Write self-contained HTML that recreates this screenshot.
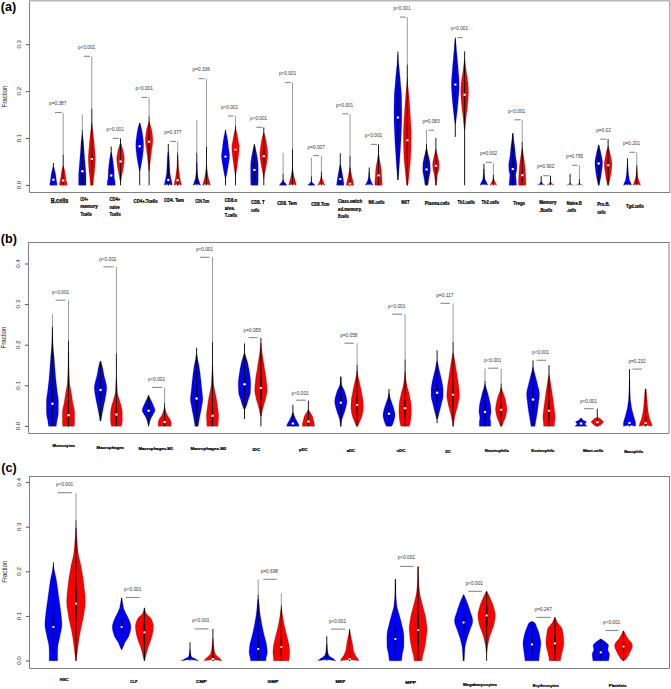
<!DOCTYPE html>
<html><head><meta charset="utf-8"><title>Violin plots</title>
<style>
html,body{margin:0;padding:0;background:#fff;}
body{width:671px;height:689px;overflow:hidden;}
svg{display:block;}
text{font-family:"Liberation Sans",sans-serif;}
.tk{font-size:6.1px;fill:#2a2a2a;text-anchor:middle;}
.fr{font-size:6.4px;fill:#2a2a2a;text-anchor:middle;}
.lt{font-size:12.6px;font-weight:bold;fill:#000;}
.pv{font-size:5.3px;fill:#333;text-anchor:middle;}
.cl{font-size:5.2px;font-weight:bold;fill:#000;stroke:#000;stroke-width:0.24px;}
.cl.big{font-size:6.6px;stroke-width:0.25px;}
</style></head>
<body>
<svg width="671" height="689" viewBox="0 0 671 689">
<rect width="671" height="689" fill="#fff"/>
<path d="M669.9,0.8 L669.9,192.5 L29.5,192.5 L29.5,0.8" fill="none" stroke="#808080" stroke-width="1"/>
<line x1="29" y1="0.8" x2="670.4" y2="0.8" stroke="#b8b8b8" stroke-width="1.6"/>
<line x1="25.9" y1="185.4" x2="29.5" y2="185.4" stroke="#555" stroke-width="1"/>
<text x="0" y="0" transform="translate(21.4,185) rotate(-90)" class="tk">0.0</text>
<line x1="25.9" y1="138.5" x2="29.5" y2="138.5" stroke="#555" stroke-width="1"/>
<text x="0" y="0" transform="translate(21.4,138.1) rotate(-90)" class="tk">0.1</text>
<line x1="25.9" y1="91.6" x2="29.5" y2="91.6" stroke="#555" stroke-width="1"/>
<text x="0" y="0" transform="translate(21.4,91.2) rotate(-90)" class="tk">0.2</text>
<line x1="25.9" y1="44.7" x2="29.5" y2="44.7" stroke="#555" stroke-width="1"/>
<text x="0" y="0" transform="translate(21.4,44.3) rotate(-90)" class="tk">0.3</text>
<text x="0" y="0" transform="translate(6.9,96.5) rotate(-90)" class="fr" textLength="22" lengthAdjust="spacingAndGlyphs">Fraction</text>
<text x="0.8" y="10.9" class="lt">(a)</text>
<path d="M53.7,166.5 L54,167.6 L54.3,168.7 L54.6,169.8 L54.8,170.9 L55.1,172 L55.4,173.1 L55.6,174.2 L55.8,175.3 L55.9,176.5 L56.1,177.6 L56.2,178.7 L56.4,179.8 L56.5,180.9 L56.7,182 L56.9,183.1 L57,184.2 L57,185.3 L49.8,185.3 L49.8,184.2 L49.9,183.1 L50.1,182 L50.3,180.9 L50.4,179.8 L50.6,178.7 L50.7,177.6 L50.9,176.5 L51,175.3 L51.2,174.2 L51.4,173.1 L51.7,172 L52,170.9 L52.2,169.8 L52.5,168.7 L52.8,167.6 L53.1,166.5Z" fill="#0000ff" stroke="#000" stroke-width="0.3" stroke-opacity="0.55"/>
<line x1="53.4" y1="163" x2="53.4" y2="185.3" stroke="#000" stroke-width="0.9"/>
<rect x="52.9" y="176.5" width="1" height="6.4" fill="#000"/>
<circle cx="53.4" cy="179.7" r="1.2" fill="#fff"/>
<path d="M63.6,166.3 L63.9,167.4 L64.2,168.4 L64.5,169.5 L64.7,170.5 L64.8,171.6 L65,172.6 L65.1,173.7 L65.3,174.7 L65.4,175.8 L65.6,176.9 L65.8,177.9 L66,179 L66.2,180 L66.4,181.1 L66.7,182.1 L66.9,183.2 L66.9,184.2 L66.9,185.3 L59.5,185.3 L59.5,184.2 L59.5,183.2 L59.7,182.1 L60,181.1 L60.2,180 L60.4,179 L60.6,177.9 L60.8,176.9 L61,175.8 L61.1,174.7 L61.3,173.7 L61.4,172.6 L61.6,171.6 L61.7,170.5 L61.9,169.5 L62.2,168.4 L62.5,167.4 L62.8,166.3Z" fill="#ff0000" stroke="#000" stroke-width="0.3" stroke-opacity="0.55"/>
<line x1="63.2" y1="112.7" x2="63.2" y2="154.5" stroke="#7a7a7a" stroke-width="0.75"/>
<line x1="63.2" y1="154.5" x2="63.2" y2="185.3" stroke="#000" stroke-width="0.9"/>
<rect x="62.7" y="177.3" width="1" height="6.5" fill="#000"/>
<circle cx="63.2" cy="180.5" r="1.2" fill="#fff"/>
<line x1="55" y1="112.5" x2="61.8" y2="112.5" stroke="#8a8a8a" stroke-width="1.1"/>
<text x="57.7" y="105.2" class="pv" textLength="17.2" lengthAdjust="spacingAndGlyphs">p=0.387</text>
<path d="M82.6,134.6 L82.7,135.6 L82.9,136.7 L83,137.7 L83.1,138.7 L83.3,139.8 L83.4,140.8 L83.5,141.8 L83.6,142.9 L83.7,143.9 L83.7,144.9 L83.8,146 L83.9,147 L84,148.1 L84,149.1 L84.1,150.1 L84.2,151.2 L84.2,152.2 L84.3,153.2 L84.4,154.3 L84.5,155.3 L84.6,156.3 L84.6,157.4 L84.7,158.4 L84.8,159.4 L84.9,160.5 L85,161.5 L85.1,162.5 L85.2,163.6 L85.2,164.6 L85.3,165.6 L85.4,166.7 L85.5,167.7 L85.6,168.7 L85.6,169.8 L85.7,170.8 L85.8,171.8 L85.9,172.9 L85.9,173.9 L86,175 L86,176 L86,177 L86,178.1 L86,179.1 L86,180.1 L86,181.2 L86,182.2 L86,183.2 L86,184.3 L86,185.3 L78.6,185.3 L78.6,184.3 L78.6,183.2 L78.6,182.2 L78.6,181.2 L78.6,180.1 L78.6,179.1 L78.6,178.1 L78.6,177 L78.6,176 L78.6,175 L78.7,173.9 L78.7,172.9 L78.8,171.8 L78.9,170.8 L79,169.8 L79,168.7 L79.1,167.7 L79.2,166.7 L79.3,165.6 L79.4,164.6 L79.4,163.6 L79.5,162.5 L79.6,161.5 L79.7,160.5 L79.8,159.4 L79.9,158.4 L80,157.4 L80,156.3 L80.1,155.3 L80.2,154.3 L80.3,153.2 L80.4,152.2 L80.4,151.2 L80.5,150.1 L80.6,149.1 L80.6,148.1 L80.7,147 L80.8,146 L80.9,144.9 L80.9,143.9 L81,142.9 L81.1,141.8 L81.2,140.8 L81.3,139.8 L81.5,138.7 L81.6,137.7 L81.7,136.7 L81.9,135.6 L82,134.6Z" fill="#0000ff" stroke="#000" stroke-width="0.3" stroke-opacity="0.55"/>
<line x1="82.3" y1="114.5" x2="82.3" y2="130.2" stroke="#7a7a7a" stroke-width="0.75"/>
<line x1="82.3" y1="130.2" x2="82.3" y2="185.3" stroke="#000" stroke-width="0.9"/>
<rect x="81.8" y="162.7" width="1" height="17.2" fill="#000"/>
<circle cx="82.3" cy="171.3" r="1.2" fill="#fff"/>
<path d="M92.1,123.5 L92.2,124.5 L92.3,125.6 L92.4,126.6 L92.5,127.6 L92.6,128.7 L92.8,129.7 L92.9,130.7 L93,131.7 L93.1,132.8 L93.3,133.8 L93.4,134.8 L93.5,135.9 L93.6,136.9 L93.7,137.9 L93.8,138.9 L93.9,140 L94,141 L94.2,142 L94.3,143.1 L94.4,144.1 L94.4,145.1 L94.5,146.2 L94.6,147.2 L94.7,148.2 L94.8,149.2 L94.9,150.3 L94.9,151.3 L95,152.3 L95.1,153.4 L95.2,154.4 L95.2,155.4 L95.3,156.5 L95.3,157.5 L95.3,158.5 L95.3,159.6 L95.3,160.6 L95.2,161.6 L95.2,162.6 L95.1,163.7 L95.1,164.7 L95,165.7 L95,166.8 L94.9,167.8 L94.8,168.8 L94.7,169.9 L94.7,170.9 L94.6,171.9 L94.4,172.9 L94.3,174 L94.2,175 L94,176 L93.9,177.1 L93.8,178.1 L93.6,179.1 L93.6,180.2 L93.5,181.2 L93.4,182.2 L93.3,183.2 L93.3,184.3 L93.2,185.3 L90.4,185.3 L90.3,184.3 L90.3,183.2 L90.2,182.2 L90.1,181.2 L90,180.2 L90,179.1 L89.8,178.1 L89.7,177.1 L89.6,176 L89.4,175 L89.3,174 L89.2,172.9 L89,171.9 L88.9,170.9 L88.9,169.9 L88.8,168.8 L88.7,167.8 L88.6,166.8 L88.6,165.7 L88.5,164.7 L88.5,163.7 L88.4,162.6 L88.4,161.6 L88.3,160.6 L88.3,159.6 L88.3,158.5 L88.3,157.5 L88.3,156.5 L88.4,155.4 L88.4,154.4 L88.5,153.4 L88.6,152.3 L88.7,151.3 L88.7,150.3 L88.8,149.2 L88.9,148.2 L89,147.2 L89.1,146.2 L89.2,145.1 L89.2,144.1 L89.3,143.1 L89.4,142 L89.6,141 L89.7,140 L89.8,138.9 L89.9,137.9 L90,136.9 L90.1,135.9 L90.2,134.8 L90.3,133.8 L90.5,132.8 L90.6,131.7 L90.7,130.7 L90.8,129.7 L91,128.7 L91.1,127.6 L91.2,126.6 L91.3,125.6 L91.4,124.5 L91.5,123.5Z" fill="#ff0000" stroke="#000" stroke-width="0.3" stroke-opacity="0.55"/>
<line x1="91.8" y1="56.3" x2="91.8" y2="108.7" stroke="#7a7a7a" stroke-width="0.75"/>
<line x1="91.8" y1="108.7" x2="91.8" y2="185.3" stroke="#000" stroke-width="0.9"/>
<rect x="91.3" y="148.5" width="1" height="21" fill="#000"/>
<circle cx="91.8" cy="159" r="1.2" fill="#fff"/>
<line x1="84" y1="56.3" x2="90" y2="56.3" stroke="#8a8a8a" stroke-width="1.1"/>
<text x="86.6" y="49.3" class="pv" textLength="17.2" lengthAdjust="spacingAndGlyphs">p&lt;0.001</text>
<path d="M111.6,152.6 L111.8,153.7 L112,154.7 L112.2,155.8 L112.4,156.8 L112.6,157.9 L112.8,158.9 L112.9,160 L113.1,161 L113.2,162.1 L113.3,163.1 L113.4,164.2 L113.6,165.3 L113.7,166.3 L113.8,167.4 L113.9,168.4 L114.1,169.5 L114.1,170.5 L114.2,171.6 L114.2,172.6 L114.2,173.7 L114.2,174.8 L114.3,175.8 L114.3,176.9 L114.3,177.9 L114.5,179 L114.8,180 L115,181.1 L115.1,182.1 L115.1,183.2 L115.2,184.2 L115.2,185.3 L107.2,185.3 L107.2,184.2 L107.3,183.2 L107.3,182.1 L107.4,181.1 L107.6,180 L107.9,179 L108.1,177.9 L108.1,176.9 L108.1,175.8 L108.2,174.8 L108.2,173.7 L108.2,172.6 L108.2,171.6 L108.3,170.5 L108.3,169.5 L108.5,168.4 L108.6,167.4 L108.7,166.3 L108.8,165.3 L109,164.2 L109.1,163.1 L109.2,162.1 L109.3,161 L109.5,160 L109.6,158.9 L109.8,157.9 L110,156.8 L110.2,155.8 L110.4,154.7 L110.6,153.7 L110.8,152.6Z" fill="#0000ff" stroke="#000" stroke-width="0.3" stroke-opacity="0.55"/>
<line x1="111.2" y1="146.5" x2="111.2" y2="185.3" stroke="#000" stroke-width="0.9"/>
<rect x="110.7" y="169.9" width="1" height="11.1" fill="#000"/>
<circle cx="111.2" cy="175.5" r="1.2" fill="#fff"/>
<path d="M121,143.6 L121.4,144.6 L121.7,145.7 L122,146.7 L122.3,147.7 L122.6,148.8 L122.9,149.8 L123.1,150.8 L123.3,151.9 L123.5,152.9 L123.7,153.9 L123.9,155 L124.1,156 L124.2,157 L124.3,158.1 L124.3,159.1 L124.3,160.1 L124.2,161.2 L124.1,162.2 L124,163.2 L123.9,164.3 L123.7,165.3 L123.6,166.3 L123.5,167.4 L123.3,168.4 L123.1,169.4 L122.9,170.5 L122.7,171.5 L122.5,172.5 L122.3,173.6 L122.1,174.6 L121.9,175.6 L121.7,176.7 L121.5,177.7 L121.3,178.7 L121.2,179.8 L121,180.8 L120,180.8 L119.8,179.8 L119.7,178.7 L119.5,177.7 L119.3,176.7 L119.1,175.6 L118.9,174.6 L118.7,173.6 L118.5,172.5 L118.3,171.5 L118.1,170.5 L117.9,169.4 L117.7,168.4 L117.5,167.4 L117.4,166.3 L117.3,165.3 L117.1,164.3 L117,163.2 L116.9,162.2 L116.8,161.2 L116.7,160.1 L116.7,159.1 L116.7,158.1 L116.8,157 L116.9,156 L117.1,155 L117.3,153.9 L117.5,152.9 L117.7,151.9 L117.9,150.8 L118.1,149.8 L118.4,148.8 L118.7,147.7 L119,146.7 L119.3,145.7 L119.6,144.6 L120,143.6Z" fill="#ff0000" stroke="#000" stroke-width="0.3" stroke-opacity="0.55"/>
<line x1="120.5" y1="138.4" x2="120.5" y2="185.3" stroke="#000" stroke-width="0.9"/>
<rect x="120" y="155.2" width="1" height="12.6" fill="#000"/>
<circle cx="120.5" cy="161.5" r="1.2" fill="#fff"/>
<line x1="112.7" y1="138.4" x2="118.7" y2="138.4" stroke="#8a8a8a" stroke-width="1.1"/>
<text x="115.2" y="130.9" class="pv" textLength="17.2" lengthAdjust="spacingAndGlyphs">p&lt;0.001</text>
<path d="M140,123 L140.3,124 L140.6,125.1 L140.9,126.1 L141.2,127.1 L141.4,128.2 L141.7,129.2 L141.9,130.2 L142.1,131.3 L142.2,132.3 L142.4,133.3 L142.6,134.4 L142.7,135.4 L142.9,136.4 L143,137.5 L143.1,138.5 L143.3,139.5 L143.4,140.6 L143.5,141.6 L143.5,142.6 L143.6,143.7 L143.6,144.7 L143.6,145.7 L143.6,146.8 L143.5,147.8 L143.4,148.8 L143.4,149.8 L143.3,150.9 L143.2,151.9 L143,152.9 L142.9,154 L142.8,155 L142.7,156 L142.6,157.1 L142.4,158.1 L142.3,159.1 L142.1,160.2 L141.9,161.2 L141.7,162.2 L141.5,163.3 L141.3,164.3 L141.1,165.3 L140.9,166.4 L140.7,167.4 L140.5,168.4 L140.3,169.5 L140.1,170.5 L139.3,170.5 L139.1,169.5 L138.9,168.4 L138.7,167.4 L138.5,166.4 L138.3,165.3 L138.1,164.3 L137.9,163.3 L137.7,162.2 L137.5,161.2 L137.3,160.2 L137.1,159.1 L137,158.1 L136.8,157.1 L136.7,156 L136.6,155 L136.5,154 L136.4,152.9 L136.2,151.9 L136.1,150.9 L136,149.8 L136,148.8 L135.9,147.8 L135.8,146.8 L135.8,145.7 L135.8,144.7 L135.8,143.7 L135.9,142.6 L135.9,141.6 L136,140.6 L136.1,139.5 L136.3,138.5 L136.4,137.5 L136.5,136.4 L136.7,135.4 L136.8,134.4 L137,133.3 L137.2,132.3 L137.3,131.3 L137.5,130.2 L137.7,129.2 L138,128.2 L138.2,127.1 L138.5,126.1 L138.8,125.1 L139.1,124 L139.4,123Z" fill="#0000ff" stroke="#000" stroke-width="0.3" stroke-opacity="0.55"/>
<line x1="139.7" y1="123" x2="139.7" y2="185.3" stroke="#000" stroke-width="0.9"/>
<rect x="139.2" y="138.2" width="1" height="16.1" fill="#000"/>
<circle cx="139.7" cy="146.3" r="1.2" fill="#fff"/>
<path d="M149.4,122 L149.7,123 L150,124.1 L150.3,125.1 L150.6,126.2 L151,127.2 L151.3,128.2 L151.6,129.3 L151.8,130.3 L152,131.4 L152.1,132.4 L152.3,133.4 L152.4,134.5 L152.5,135.5 L152.6,136.6 L152.7,137.6 L152.8,138.6 L152.8,139.7 L152.8,140.7 L152.8,141.8 L152.7,142.8 L152.6,143.8 L152.5,144.9 L152.3,145.9 L152.2,147 L152,148 L151.8,149.1 L151.7,150.1 L151.6,151.1 L151.5,152.2 L151.3,153.2 L151.2,154.3 L151,155.3 L150.9,156.3 L150.8,157.4 L150.6,158.4 L150.5,159.5 L150.4,160.5 L150.3,161.5 L150.2,162.6 L150,163.6 L149.9,164.7 L149.8,165.7 L149.7,166.7 L149.7,167.8 L149.6,168.8 L149.5,169.9 L149.4,170.9 L148.8,170.9 L148.7,169.9 L148.6,168.8 L148.5,167.8 L148.5,166.7 L148.4,165.7 L148.3,164.7 L148.2,163.6 L148,162.6 L147.9,161.5 L147.8,160.5 L147.7,159.5 L147.6,158.4 L147.4,157.4 L147.3,156.3 L147.2,155.3 L147,154.3 L146.9,153.2 L146.7,152.2 L146.6,151.1 L146.5,150.1 L146.4,149.1 L146.2,148 L146,147 L145.9,145.9 L145.7,144.9 L145.6,143.8 L145.5,142.8 L145.4,141.8 L145.4,140.7 L145.4,139.7 L145.4,138.6 L145.5,137.6 L145.6,136.6 L145.7,135.5 L145.8,134.5 L145.9,133.4 L146.1,132.4 L146.2,131.4 L146.4,130.3 L146.6,129.3 L146.9,128.2 L147.2,127.2 L147.6,126.2 L147.9,125.1 L148.2,124.1 L148.5,123 L148.8,122Z" fill="#ff0000" stroke="#000" stroke-width="0.3" stroke-opacity="0.55"/>
<line x1="149.1" y1="97.2" x2="149.1" y2="116.5" stroke="#7a7a7a" stroke-width="0.75"/>
<line x1="149.1" y1="116.5" x2="149.1" y2="185.3" stroke="#000" stroke-width="0.9"/>
<rect x="148.6" y="133.4" width="1" height="16.6" fill="#000"/>
<circle cx="149.1" cy="141.7" r="1.2" fill="#fff"/>
<line x1="141.6" y1="97.4" x2="147.5" y2="97.4" stroke="#8a8a8a" stroke-width="1.1"/>
<text x="144.2" y="89.8" class="pv" textLength="17.2" lengthAdjust="spacingAndGlyphs">p&lt;0.001</text>
<path d="M168.7,151.7 L168.8,152.8 L168.9,153.8 L169,154.8 L169.1,155.9 L169.2,156.9 L169.2,158 L169.3,159 L169.4,160.1 L169.4,161.2 L169.5,162.2 L169.5,163.2 L169.6,164.3 L169.6,165.3 L169.7,166.4 L169.7,167.4 L169.8,168.5 L169.8,169.6 L169.9,170.6 L170,171.7 L170,172.7 L170.1,173.8 L170.3,174.8 L170.5,175.8 L170.7,176.9 L170.9,178 L171.1,179 L171.4,180.1 L171.7,181.1 L171.8,182.2 L172,183.2 L172.1,184.2 L172.2,185.3 L168.3,184.1 L164.4,185.3 L164.5,184.2 L164.6,183.2 L164.8,182.2 L164.9,181.1 L165.2,180.1 L165.5,179 L165.7,178 L165.9,176.9 L166.1,175.8 L166.3,174.8 L166.5,173.8 L166.6,172.7 L166.6,171.7 L166.7,170.6 L166.8,169.6 L166.8,168.5 L166.9,167.4 L166.9,166.4 L167,165.3 L167,164.3 L167.1,163.2 L167.1,162.2 L167.2,161.2 L167.2,160.1 L167.3,159 L167.4,158 L167.4,156.9 L167.5,155.9 L167.6,154.8 L167.7,153.8 L167.8,152.8 L167.9,151.7Z" fill="#0000ff" stroke="#000" stroke-width="0.3" stroke-opacity="0.55"/>
<line x1="168.3" y1="144" x2="168.3" y2="185.3" stroke="#000" stroke-width="0.9"/>
<rect x="167.8" y="174.3" width="1" height="11" fill="#000"/>
<circle cx="168.3" cy="180" r="1.2" fill="#fff"/>
<path d="M178,156 L178,157 L178.1,158.1 L178.1,159.1 L178.2,160.2 L178.2,161.2 L178.3,162.3 L178.3,163.3 L178.4,164.4 L178.4,165.4 L178.5,166.5 L178.5,167.5 L178.7,168.6 L178.8,169.6 L178.9,170.7 L179.1,171.7 L179.2,172.7 L179.4,173.8 L179.5,174.8 L179.6,175.9 L179.8,176.9 L180,178 L180.2,179 L180.4,180.1 L180.7,181.1 L180.9,182.2 L181.1,183.2 L181.3,184.3 L181.5,185.3 L177.7,184.1 L173.9,185.3 L174.1,184.3 L174.3,183.2 L174.5,182.2 L174.7,181.1 L175,180.1 L175.2,179 L175.4,178 L175.6,176.9 L175.8,175.9 L175.9,174.8 L176,173.8 L176.2,172.7 L176.3,171.7 L176.5,170.7 L176.6,169.6 L176.7,168.6 L176.9,167.5 L176.9,166.5 L177,165.4 L177,164.4 L177.1,163.3 L177.1,162.3 L177.2,161.2 L177.2,160.2 L177.3,159.1 L177.3,158.1 L177.4,157 L177.4,156Z" fill="#ff0000" stroke="#000" stroke-width="0.3" stroke-opacity="0.55"/>
<line x1="177.7" y1="141.4" x2="177.7" y2="152.8" stroke="#7a7a7a" stroke-width="0.75"/>
<line x1="177.7" y1="152.8" x2="177.7" y2="185.3" stroke="#000" stroke-width="0.9"/>
<rect x="177.2" y="175.3" width="1" height="10" fill="#000"/>
<circle cx="177.7" cy="180.3" r="1.2" fill="#fff"/>
<line x1="170.2" y1="141.4" x2="176" y2="141.4" stroke="#8a8a8a" stroke-width="1.1"/>
<text x="172.8" y="134.4" class="pv" textLength="17.2" lengthAdjust="spacingAndGlyphs">p=0.377</text>
<path d="M197.1,162 L197.1,163.1 L197.1,164.1 L197.2,165.2 L197.2,166.2 L197.2,167.3 L197.3,168.4 L197.3,169.4 L197.4,170.5 L197.5,171.5 L197.5,172.6 L197.6,173.7 L197.7,174.7 L197.9,175.8 L198,176.8 L198.2,177.9 L198.4,178.9 L198.7,180 L199.1,181.1 L199.4,182.1 L199.8,183.2 L200.3,184.2 L200.7,185.3 L196.8,184.1 L192.9,185.3 L193.3,184.2 L193.8,183.2 L194.2,182.1 L194.5,181.1 L194.9,180 L195.2,178.9 L195.4,177.9 L195.6,176.8 L195.7,175.8 L195.9,174.7 L196,173.7 L196.1,172.6 L196.1,171.5 L196.2,170.5 L196.3,169.4 L196.3,168.4 L196.4,167.3 L196.4,166.2 L196.4,165.2 L196.5,164.1 L196.5,163.1 L196.5,162Z" fill="#0000ff" stroke="#000" stroke-width="0.3" stroke-opacity="0.55"/>
<line x1="196.8" y1="119.8" x2="196.8" y2="152.7" stroke="#7a7a7a" stroke-width="0.75"/>
<line x1="196.8" y1="152.7" x2="196.8" y2="185.3" stroke="#000" stroke-width="0.9"/>
<path d="M206.8,166 L206.9,167.1 L207,168.1 L207.1,169.2 L207.3,170.3 L207.4,171.4 L207.6,172.4 L207.7,173.5 L207.9,174.6 L208.1,175.7 L208.2,176.7 L208.5,177.8 L208.7,178.9 L209,179.9 L209.3,181 L209.6,182.1 L209.9,183.2 L210.2,184.2 L210.5,185.3 L206.5,184.1 L202.5,185.3 L202.8,184.2 L203.1,183.2 L203.4,182.1 L203.7,181 L204,179.9 L204.3,178.9 L204.5,177.8 L204.8,176.7 L204.9,175.7 L205.1,174.6 L205.3,173.5 L205.4,172.4 L205.6,171.4 L205.7,170.3 L205.9,169.2 L206,168.1 L206.1,167.1 L206.2,166Z" fill="#ff0000" stroke="#000" stroke-width="0.3" stroke-opacity="0.55"/>
<line x1="206.5" y1="78.7" x2="206.5" y2="146.8" stroke="#7a7a7a" stroke-width="0.75"/>
<line x1="206.5" y1="146.8" x2="206.5" y2="185.3" stroke="#000" stroke-width="0.9"/>
<line x1="198.6" y1="78.7" x2="204.5" y2="78.7" stroke="#8a8a8a" stroke-width="1.1"/>
<text x="201.2" y="71.3" class="pv" textLength="17.2" lengthAdjust="spacingAndGlyphs">p=0.336</text>
<path d="M225.8,130.3 L226,131.3 L226.2,132.4 L226.4,133.4 L226.6,134.4 L226.8,135.4 L227,136.5 L227.2,137.5 L227.4,138.5 L227.6,139.5 L227.7,140.6 L227.9,141.6 L228,142.6 L228.1,143.7 L228.3,144.7 L228.4,145.7 L228.5,146.7 L228.6,147.8 L228.7,148.8 L228.9,149.8 L229,150.9 L229.1,151.9 L229.3,152.9 L229.4,153.9 L229.5,155 L229.5,156 L229.5,157 L229.4,158 L229.3,159.1 L229.2,160.1 L229,161.1 L228.8,162.2 L228.7,163.2 L228.5,164.2 L228.3,165.2 L228.2,166.3 L228,167.3 L227.8,168.3 L227.6,169.4 L227.4,170.4 L227.3,171.4 L227.1,172.4 L226.9,173.5 L226.7,174.5 L226.5,175.5 L226.2,176.5 L226,177.6 L225.8,178.6 L225.2,178.6 L225,177.6 L224.8,176.5 L224.5,175.5 L224.3,174.5 L224.1,173.5 L223.9,172.4 L223.7,171.4 L223.6,170.4 L223.4,169.4 L223.2,168.3 L223,167.3 L222.8,166.3 L222.7,165.2 L222.5,164.2 L222.3,163.2 L222.2,162.2 L222,161.1 L221.8,160.1 L221.7,159.1 L221.6,158 L221.5,157 L221.5,156 L221.5,155 L221.6,153.9 L221.7,152.9 L221.9,151.9 L222,150.9 L222.1,149.8 L222.3,148.8 L222.4,147.8 L222.5,146.7 L222.6,145.7 L222.7,144.7 L222.9,143.7 L223,142.6 L223.1,141.6 L223.3,140.6 L223.4,139.5 L223.6,138.5 L223.8,137.5 L224,136.5 L224.2,135.4 L224.4,134.4 L224.6,133.4 L224.8,132.4 L225,131.3 L225.2,130.3Z" fill="#0000ff" stroke="#000" stroke-width="0.3" stroke-opacity="0.55"/>
<line x1="225.5" y1="130" x2="225.5" y2="185.3" stroke="#000" stroke-width="0.9"/>
<rect x="225" y="148.4" width="1" height="16.4" fill="#000"/>
<circle cx="225.5" cy="156.6" r="1.2" fill="#fff"/>
<path d="M235.8,128.5 L236,129.5 L236.3,130.6 L236.5,131.6 L236.7,132.6 L236.9,133.7 L237.2,134.7 L237.4,135.7 L237.6,136.8 L237.8,137.8 L238,138.9 L238.1,139.9 L238.3,140.9 L238.5,142 L238.7,143 L238.9,144 L239.1,145.1 L239.2,146.1 L239.2,147.1 L239.2,148.2 L239.1,149.2 L239.1,150.2 L239,151.3 L238.9,152.3 L238.8,153.4 L238.7,154.4 L238.6,155.4 L238.5,156.5 L238.3,157.5 L238.2,158.5 L238.1,159.6 L237.9,160.6 L237.8,161.6 L237.6,162.7 L237.5,163.7 L237.4,164.7 L237.2,165.8 L237.1,166.8 L236.9,167.9 L236.7,168.9 L236.6,169.9 L236.4,171 L236.3,172 L236.1,173 L236,174.1 L235.8,175.1 L235.2,175.1 L235,174.1 L234.9,173 L234.7,172 L234.6,171 L234.4,169.9 L234.3,168.9 L234.1,167.9 L233.9,166.8 L233.8,165.8 L233.6,164.7 L233.5,163.7 L233.4,162.7 L233.2,161.6 L233.1,160.6 L232.9,159.6 L232.8,158.5 L232.7,157.5 L232.5,156.5 L232.4,155.4 L232.3,154.4 L232.2,153.4 L232.1,152.3 L232,151.3 L231.9,150.2 L231.9,149.2 L231.8,148.2 L231.8,147.1 L231.8,146.1 L231.9,145.1 L232.1,144 L232.3,143 L232.5,142 L232.7,140.9 L232.9,139.9 L233,138.9 L233.2,137.8 L233.4,136.8 L233.6,135.7 L233.8,134.7 L234.1,133.7 L234.3,132.6 L234.5,131.6 L234.7,130.6 L235,129.5 L235.2,128.5Z" fill="#ff0000" stroke="#000" stroke-width="0.3" stroke-opacity="0.55"/>
<line x1="235.5" y1="116" x2="235.5" y2="125.8" stroke="#7a7a7a" stroke-width="0.75"/>
<line x1="235.5" y1="125.8" x2="235.5" y2="185.3" stroke="#000" stroke-width="0.9"/>
<rect x="235" y="141.7" width="1" height="15.8" fill="#000"/>
<circle cx="235.5" cy="149.6" r="1.2" fill="#fff"/>
<line x1="228" y1="116" x2="233.5" y2="116" stroke="#8a8a8a" stroke-width="1.1"/>
<text x="229.5" y="109" class="pv" textLength="17.2" lengthAdjust="spacingAndGlyphs">p&lt;0.001</text>
<path d="M254.7,144.4 L254.9,145.4 L255.2,146.5 L255.4,147.5 L255.6,148.6 L255.8,149.6 L256,150.7 L256.3,151.7 L256.5,152.8 L256.7,153.8 L256.9,154.9 L257.1,155.9 L257.3,157 L257.4,158 L257.5,159.1 L257.7,160.1 L257.8,161.2 L258,162.2 L258.1,163.3 L258.1,164.3 L258.2,165.4 L258.2,166.4 L258.2,167.5 L258.2,168.5 L258.2,169.6 L258.2,170.6 L258.2,171.7 L258.2,172.7 L258.2,173.8 L258.2,174.8 L258.2,175.9 L258.2,176.9 L258.2,178 L258.2,179 L258.2,180.1 L258.1,181.1 L258.1,182.2 L258.1,183.2 L258,184.3 L258,185.3 L250.8,185.3 L250.8,184.3 L250.7,183.2 L250.7,182.2 L250.7,181.1 L250.6,180.1 L250.6,179 L250.6,178 L250.6,176.9 L250.6,175.9 L250.6,174.8 L250.6,173.8 L250.6,172.7 L250.6,171.7 L250.6,170.6 L250.6,169.6 L250.6,168.5 L250.6,167.5 L250.6,166.4 L250.6,165.4 L250.7,164.3 L250.7,163.3 L250.8,162.2 L251,161.2 L251.1,160.1 L251.3,159.1 L251.4,158 L251.5,157 L251.7,155.9 L251.9,154.9 L252.1,153.8 L252.3,152.8 L252.5,151.7 L252.8,150.7 L253,149.6 L253.2,148.6 L253.4,147.5 L253.6,146.5 L253.9,145.4 L254.1,144.4Z" fill="#0000ff" stroke="#000" stroke-width="0.3" stroke-opacity="0.55"/>
<line x1="254.4" y1="144.4" x2="254.4" y2="185.3" stroke="#000" stroke-width="0.9"/>
<rect x="253.9" y="162.9" width="1" height="13.9" fill="#000"/>
<circle cx="254.4" cy="169.9" r="1.2" fill="#fff"/>
<path d="M264.1,133 L264.4,134 L264.7,135 L265,136.1 L265.3,137.1 L265.5,138.1 L265.7,139.1 L266,140.2 L266.2,141.2 L266.3,142.2 L266.5,143.2 L266.7,144.2 L266.8,145.3 L267,146.3 L267.1,147.3 L267.3,148.3 L267.4,149.4 L267.5,150.4 L267.6,151.4 L267.7,152.4 L267.7,153.5 L267.7,154.5 L267.7,155.5 L267.6,156.5 L267.5,157.5 L267.4,158.6 L267.3,159.6 L267.1,160.6 L267,161.6 L266.8,162.7 L266.7,163.7 L266.5,164.7 L266.3,165.7 L266.2,166.8 L266,167.8 L265.7,168.8 L265.5,169.8 L265.2,170.8 L265,171.9 L264.8,172.9 L264.6,173.9 L264.4,174.9 L264.3,176 L264.2,177 L264.1,178 L263.5,178 L263.4,177 L263.3,176 L263.2,174.9 L263,173.9 L262.8,172.9 L262.6,171.9 L262.4,170.8 L262.1,169.8 L261.9,168.8 L261.6,167.8 L261.4,166.8 L261.3,165.7 L261.1,164.7 L260.9,163.7 L260.8,162.7 L260.6,161.6 L260.5,160.6 L260.3,159.6 L260.2,158.6 L260.1,157.5 L260,156.5 L259.9,155.5 L259.9,154.5 L259.9,153.5 L259.9,152.4 L260,151.4 L260.1,150.4 L260.2,149.4 L260.3,148.3 L260.5,147.3 L260.6,146.3 L260.8,145.3 L260.9,144.2 L261.1,143.2 L261.3,142.2 L261.4,141.2 L261.6,140.2 L261.9,139.1 L262.1,138.1 L262.3,137.1 L262.6,136.1 L262.9,135 L263.2,134 L263.5,133Z" fill="#ff0000" stroke="#000" stroke-width="0.3" stroke-opacity="0.55"/>
<line x1="263.8" y1="127.3" x2="263.8" y2="185.3" stroke="#000" stroke-width="0.9"/>
<rect x="263.3" y="148.7" width="1" height="15.3" fill="#000"/>
<circle cx="263.8" cy="156.3" r="1.2" fill="#fff"/>
<line x1="256.3" y1="127.3" x2="262" y2="127.3" stroke="#8a8a8a" stroke-width="1.1"/>
<text x="258.6" y="119.8" class="pv" textLength="17.2" lengthAdjust="spacingAndGlyphs">p&lt;0.001</text>
<path d="M283.4,180 L283.6,180.8 L284,181.5 L284.5,182.3 L285.3,183 L285.9,183.8 L286.5,184.5 L287,185.3 L279.2,185.3 L279.7,184.5 L280.3,183.8 L280.9,183 L281.7,182.3 L282.2,181.5 L282.6,180.8 L282.8,180Z" fill="#0000ff" stroke="#000" stroke-width="0.3" stroke-opacity="0.55"/>
<line x1="283.1" y1="152.9" x2="283.1" y2="174" stroke="#7a7a7a" stroke-width="0.75"/>
<line x1="283.1" y1="174" x2="283.1" y2="185.3" stroke="#000" stroke-width="0.9"/>
<path d="M292.8,168 L292.9,169.1 L293,170.2 L293.2,171.2 L293.3,172.3 L293.5,173.4 L293.7,174.5 L293.9,175.6 L294.2,176.7 L294.4,177.7 L294.7,178.8 L295,179.9 L295.3,181 L295.6,182.1 L295.9,183.1 L296.1,184.2 L296.4,185.3 L292.5,184.1 L288.6,185.3 L288.9,184.2 L289.1,183.1 L289.4,182.1 L289.7,181 L290,179.9 L290.3,178.8 L290.6,177.7 L290.8,176.7 L291.1,175.6 L291.3,174.5 L291.5,173.4 L291.7,172.3 L291.8,171.2 L292,170.2 L292.1,169.1 L292.2,168Z" fill="#ff0000" stroke="#000" stroke-width="0.3" stroke-opacity="0.55"/>
<line x1="292.5" y1="82.5" x2="292.5" y2="149.2" stroke="#7a7a7a" stroke-width="0.75"/>
<line x1="292.5" y1="149.2" x2="292.5" y2="185.3" stroke="#000" stroke-width="0.9"/>
<line x1="284.9" y1="82.5" x2="290.9" y2="82.5" stroke="#8a8a8a" stroke-width="1.1"/>
<text x="287.5" y="75" class="pv" textLength="17.2" lengthAdjust="spacingAndGlyphs">p&lt;0.001</text>
<path d="M311.7,181.5 L311.9,182 L312.2,182.6 L312.8,183.1 L313.6,183.7 L314.1,184.2 L314.6,184.8 L315,185.3 L307.8,185.3 L308.2,184.8 L308.7,184.2 L309.2,183.7 L310,183.1 L310.6,182.6 L310.9,182 L311.1,181.5Z" fill="#0000ff" stroke="#000" stroke-width="0.3" stroke-opacity="0.55"/>
<line x1="311.4" y1="157.8" x2="311.4" y2="176.3" stroke="#7a7a7a" stroke-width="0.75"/>
<line x1="311.4" y1="176.3" x2="311.4" y2="185.3" stroke="#000" stroke-width="0.9"/>
<path d="M321.7,175.9 L321.9,177.1 L322.1,178.2 L322.5,179.4 L322.8,180.6 L323.3,181.8 L323.9,183 L324.5,184.1 L325.1,185.3 L321.4,184.1 L317.6,185.3 L318.3,184.1 L318.9,183 L319.5,181.8 L320,180.6 L320.3,179.4 L320.7,178.2 L320.9,177.1 L321.1,175.9Z" fill="#ff0000" stroke="#000" stroke-width="0.3" stroke-opacity="0.55"/>
<line x1="321.4" y1="156" x2="321.4" y2="171.5" stroke="#7a7a7a" stroke-width="0.75"/>
<line x1="321.4" y1="171.5" x2="321.4" y2="185.3" stroke="#000" stroke-width="0.9"/>
<line x1="313.2" y1="155.6" x2="319.2" y2="155.6" stroke="#8a8a8a" stroke-width="1.1"/>
<text x="316.2" y="148.5" class="pv" textLength="17.2" lengthAdjust="spacingAndGlyphs">p=0.007</text>
<path d="M340.6,164.5 L340.8,165.6 L341.1,166.7 L341.3,167.8 L341.5,168.9 L341.7,170 L341.9,171.1 L342.1,172.2 L342.3,173.3 L342.5,174.4 L342.7,175.4 L342.8,176.5 L343,177.6 L343.2,178.7 L343.4,179.8 L343.5,180.9 L343.7,182 L343.8,183.1 L343.9,184.2 L344.1,185.3 L336.6,185.3 L336.7,184.2 L336.8,183.1 L336.9,182 L337.1,180.9 L337.2,179.8 L337.4,178.7 L337.6,177.6 L337.8,176.5 L337.9,175.4 L338.1,174.4 L338.3,173.3 L338.5,172.2 L338.7,171.1 L338.9,170 L339.1,168.9 L339.3,167.8 L339.5,166.7 L339.8,165.6 L340,164.5Z" fill="#0000ff" stroke="#000" stroke-width="0.3" stroke-opacity="0.55"/>
<line x1="340.3" y1="153.3" x2="340.3" y2="185.3" stroke="#000" stroke-width="0.9"/>
<rect x="339.8" y="175.6" width="1" height="7.1" fill="#000"/>
<circle cx="340.3" cy="179.1" r="1.2" fill="#fff"/>
<path d="M350.3,167.5 L350.5,168.6 L350.6,169.7 L350.8,170.8 L351,171.9 L351.2,173.1 L351.4,174.2 L351.6,175.3 L351.9,176.4 L352.1,177.5 L352.4,178.6 L352.6,179.7 L352.9,180.9 L353.2,182 L353.4,183.1 L353.6,184.2 L353.8,185.3 L346.2,185.3 L346.4,184.2 L346.6,183.1 L346.8,182 L347.1,180.9 L347.4,179.7 L347.6,178.6 L347.9,177.5 L348.1,176.4 L348.4,175.3 L348.6,174.2 L348.8,173.1 L349,171.9 L349.2,170.8 L349.4,169.7 L349.5,168.6 L349.7,167.5Z" fill="#ff0000" stroke="#000" stroke-width="0.3" stroke-opacity="0.55"/>
<line x1="350" y1="113.8" x2="350" y2="155.7" stroke="#7a7a7a" stroke-width="0.75"/>
<line x1="350" y1="155.7" x2="350" y2="185.3" stroke="#000" stroke-width="0.9"/>
<rect x="349.5" y="180.6" width="1" height="4.7" fill="#000"/>
<circle cx="350" cy="183.6" r="1.2" fill="#fff"/>
<line x1="342.3" y1="113.8" x2="348.2" y2="113.8" stroke="#8a8a8a" stroke-width="1.1"/>
<text x="344.5" y="106.8" class="pv" textLength="17.2" lengthAdjust="spacingAndGlyphs">p&lt;0.001</text>
<path d="M369.5,171.7 L369.5,172.8 L369.6,174 L369.7,175.1 L369.8,176.2 L370,177.4 L370.2,178.5 L370.5,179.6 L370.9,180.8 L371.4,181.9 L372,183 L372.6,184.2 L373.2,185.3 L369.2,184.1 L365.2,185.3 L365.8,184.2 L366.4,183 L367,181.9 L367.5,180.8 L367.9,179.6 L368.2,178.5 L368.4,177.4 L368.6,176.2 L368.7,175.1 L368.8,174 L368.9,172.8 L368.9,171.7Z" fill="#0000ff" stroke="#000" stroke-width="0.3" stroke-opacity="0.55"/>
<line x1="369.2" y1="167.5" x2="369.2" y2="185.3" stroke="#000" stroke-width="0.9"/>
<path d="M378.8,154.2 L379,155.2 L379.1,156.3 L379.3,157.3 L379.5,158.3 L379.6,159.4 L379.8,160.4 L380,161.5 L380.2,162.5 L380.4,163.5 L380.5,164.6 L380.7,165.6 L380.9,166.6 L381,167.7 L381.2,168.7 L381.3,169.8 L381.4,170.8 L381.5,171.8 L381.5,172.9 L381.5,173.9 L381.6,174.9 L381.7,176 L381.7,177 L381.8,178 L381.9,179.1 L382,180.1 L382.1,181.2 L382.1,182.2 L382.2,183.2 L382.2,184.3 L382.2,185.3 L374.8,185.3 L374.8,184.3 L374.8,183.2 L374.9,182.2 L374.9,181.2 L375,180.1 L375.1,179.1 L375.2,178 L375.3,177 L375.3,176 L375.4,174.9 L375.5,173.9 L375.5,172.9 L375.5,171.8 L375.6,170.8 L375.7,169.8 L375.8,168.7 L376,167.7 L376.1,166.6 L376.3,165.6 L376.5,164.6 L376.6,163.5 L376.8,162.5 L377,161.5 L377.2,160.4 L377.4,159.4 L377.5,158.3 L377.7,157.3 L377.9,156.3 L378,155.2 L378.2,154.2Z" fill="#ff0000" stroke="#000" stroke-width="0.3" stroke-opacity="0.55"/>
<line x1="378.5" y1="144.4" x2="378.5" y2="185.3" stroke="#000" stroke-width="0.9"/>
<rect x="378" y="170.1" width="1" height="10.6" fill="#000"/>
<circle cx="378.5" cy="175.4" r="1.2" fill="#fff"/>
<line x1="371.1" y1="144.4" x2="377.2" y2="144.4" stroke="#8a8a8a" stroke-width="1.1"/>
<text x="373.6" y="136.6" class="pv" textLength="17.2" lengthAdjust="spacingAndGlyphs">p&lt;0.001</text>
<path d="M398.1,55 L398.1,56 L398.2,57 L398.2,58 L398.3,59 L398.4,60 L398.4,61 L398.5,62.1 L398.6,63.1 L398.7,64.1 L398.8,65.1 L399,66.1 L399.1,67.1 L399.2,68.1 L399.3,69.1 L399.4,70.1 L399.5,71.1 L399.6,72.1 L399.7,73.1 L399.8,74.2 L399.9,75.2 L400,76.2 L400.1,77.2 L400.2,78.2 L400.3,79.2 L400.3,80.2 L400.4,81.2 L400.5,82.2 L400.6,83.2 L400.7,84.2 L400.7,85.2 L400.8,86.2 L400.9,87.3 L401,88.3 L401.1,89.3 L401.2,90.3 L401.3,91.3 L401.4,92.3 L401.5,93.3 L401.5,94.3 L401.6,95.3 L401.6,96.3 L401.6,97.3 L401.6,98.3 L401.6,99.4 L401.7,100.4 L401.7,101.4 L401.7,102.4 L401.7,103.4 L401.7,104.4 L401.7,105.4 L401.7,106.4 L401.8,107.4 L401.8,108.4 L401.8,109.4 L401.8,110.4 L401.8,111.5 L401.8,112.5 L401.8,113.5 L401.8,114.5 L401.8,115.5 L401.8,116.5 L401.8,117.5 L401.8,118.5 L401.8,119.5 L401.8,120.5 L401.7,121.5 L401.7,122.5 L401.7,123.5 L401.7,124.6 L401.6,125.6 L401.6,126.6 L401.5,127.6 L401.5,128.6 L401.4,129.6 L401.4,130.6 L401.4,131.6 L401.3,132.6 L401.3,133.6 L401.2,134.6 L401.2,135.6 L401.1,136.7 L401.1,137.7 L401,138.7 L401,139.7 L400.9,140.7 L400.9,141.7 L400.8,142.7 L400.8,143.7 L400.7,144.7 L400.6,145.7 L400.6,146.7 L400.5,147.7 L400.5,148.8 L400.4,149.8 L400.3,150.8 L400.3,151.8 L400.2,152.8 L400.1,153.8 L400.1,154.8 L400,155.8 L399.9,156.8 L399.9,157.8 L399.8,158.8 L399.7,159.8 L399.7,160.8 L399.6,161.9 L399.5,162.9 L399.4,163.9 L399.4,164.9 L399.3,165.9 L399.2,166.9 L399.2,167.9 L399.1,168.9 L399,169.9 L398.9,170.9 L398.8,171.9 L398.8,172.9 L398.7,174 L398.6,175 L398.5,176 L398.4,177 L398.4,178 L398.3,179 L398.2,180 L397.6,180 L397.5,179 L397.4,178 L397.4,177 L397.3,176 L397.2,175 L397.1,174 L397,172.9 L397,171.9 L396.9,170.9 L396.8,169.9 L396.7,168.9 L396.6,167.9 L396.6,166.9 L396.5,165.9 L396.4,164.9 L396.4,163.9 L396.3,162.9 L396.2,161.9 L396.1,160.8 L396.1,159.8 L396,158.8 L395.9,157.8 L395.9,156.8 L395.8,155.8 L395.7,154.8 L395.7,153.8 L395.6,152.8 L395.5,151.8 L395.5,150.8 L395.4,149.8 L395.3,148.8 L395.3,147.7 L395.2,146.7 L395.2,145.7 L395.1,144.7 L395,143.7 L395,142.7 L394.9,141.7 L394.9,140.7 L394.8,139.7 L394.8,138.7 L394.7,137.7 L394.7,136.7 L394.6,135.6 L394.6,134.6 L394.5,133.6 L394.5,132.6 L394.4,131.6 L394.4,130.6 L394.4,129.6 L394.3,128.6 L394.3,127.6 L394.2,126.6 L394.2,125.6 L394.1,124.6 L394.1,123.5 L394.1,122.5 L394.1,121.5 L394,120.5 L394,119.5 L394,118.5 L394,117.5 L394,116.5 L394,115.5 L394,114.5 L394,113.5 L394,112.5 L394,111.5 L394,110.4 L394,109.4 L394,108.4 L394,107.4 L394.1,106.4 L394.1,105.4 L394.1,104.4 L394.1,103.4 L394.1,102.4 L394.1,101.4 L394.1,100.4 L394.2,99.4 L394.2,98.3 L394.2,97.3 L394.2,96.3 L394.2,95.3 L394.3,94.3 L394.3,93.3 L394.4,92.3 L394.5,91.3 L394.6,90.3 L394.7,89.3 L394.8,88.3 L394.9,87.3 L395,86.2 L395.1,85.2 L395.1,84.2 L395.2,83.2 L395.3,82.2 L395.4,81.2 L395.5,80.2 L395.5,79.2 L395.6,78.2 L395.7,77.2 L395.8,76.2 L395.9,75.2 L396,74.2 L396.1,73.1 L396.2,72.1 L396.3,71.1 L396.4,70.1 L396.5,69.1 L396.6,68.1 L396.7,67.1 L396.8,66.1 L397,65.1 L397.1,64.1 L397.2,63.1 L397.3,62.1 L397.4,61 L397.4,60 L397.5,59 L397.6,58 L397.6,57 L397.7,56 L397.7,55Z" fill="#0000ff" stroke="#000" stroke-width="0.3" stroke-opacity="0.55"/>
<line x1="397.9" y1="51.6" x2="397.9" y2="180" stroke="#000" stroke-width="0.9"/>
<rect x="397.4" y="96.2" width="1" height="42.5" fill="#000"/>
<circle cx="397.9" cy="117.5" r="1.2" fill="#fff"/>
<path d="M407.5,78 L407.5,79 L407.6,80 L407.6,81 L407.7,82 L407.8,83.1 L407.8,84.1 L407.9,85.1 L408,86.1 L408.1,87.1 L408.2,88.1 L408.3,89.1 L408.4,90.1 L408.5,91.2 L408.6,92.2 L408.7,93.2 L408.8,94.2 L408.9,95.2 L408.9,96.2 L409,97.2 L409.1,98.2 L409.2,99.3 L409.3,100.3 L409.3,101.3 L409.4,102.3 L409.5,103.3 L409.6,104.3 L409.7,105.3 L409.7,106.3 L409.8,107.4 L409.9,108.4 L410,109.4 L410,110.4 L410.1,111.4 L410.2,112.4 L410.2,113.4 L410.3,114.4 L410.4,115.5 L410.4,116.5 L410.5,117.5 L410.5,118.5 L410.6,119.5 L410.6,120.5 L410.7,121.5 L410.8,122.5 L410.8,123.6 L410.9,124.6 L410.9,125.6 L411,126.6 L411,127.6 L411.1,128.6 L411.1,129.6 L411.1,130.6 L411.2,131.7 L411.2,132.7 L411.2,133.7 L411.2,134.7 L411.2,135.7 L411.2,136.7 L411.2,137.7 L411.2,138.7 L411.2,139.7 L411.2,140.8 L411.1,141.8 L411.1,142.8 L411.1,143.8 L411.1,144.8 L411.1,145.8 L411,146.8 L411,147.8 L411,148.9 L411,149.9 L410.9,150.9 L410.9,151.9 L410.9,152.9 L410.8,153.9 L410.8,154.9 L410.7,155.9 L410.7,157 L410.7,158 L410.6,159 L410.5,160 L410.4,161 L410.4,162 L410.3,163 L410.2,164 L410,165.1 L409.9,166.1 L409.8,167.1 L409.7,168.1 L409.6,169.1 L409.5,170.1 L409.4,171.1 L409.3,172.1 L409.2,173.2 L409.1,174.2 L409,175.2 L408.9,176.2 L408.8,177.2 L408.7,178.2 L408.6,179.2 L408.5,180.2 L408.4,181.3 L408.3,182.3 L408.2,183.3 L408,184.3 L407.9,185.3 L406.7,185.3 L406.6,184.3 L406.4,183.3 L406.3,182.3 L406.2,181.3 L406.1,180.2 L406,179.2 L405.9,178.2 L405.8,177.2 L405.7,176.2 L405.6,175.2 L405.5,174.2 L405.4,173.2 L405.3,172.1 L405.2,171.1 L405.1,170.1 L405,169.1 L404.9,168.1 L404.8,167.1 L404.7,166.1 L404.6,165.1 L404.4,164 L404.3,163 L404.2,162 L404.2,161 L404.1,160 L404,159 L403.9,158 L403.9,157 L403.9,155.9 L403.8,154.9 L403.8,153.9 L403.7,152.9 L403.7,151.9 L403.7,150.9 L403.6,149.9 L403.6,148.9 L403.6,147.8 L403.6,146.8 L403.5,145.8 L403.5,144.8 L403.5,143.8 L403.5,142.8 L403.5,141.8 L403.4,140.8 L403.4,139.7 L403.4,138.7 L403.4,137.7 L403.4,136.7 L403.4,135.7 L403.4,134.7 L403.4,133.7 L403.4,132.7 L403.4,131.7 L403.5,130.6 L403.5,129.6 L403.5,128.6 L403.6,127.6 L403.6,126.6 L403.7,125.6 L403.7,124.6 L403.8,123.6 L403.8,122.5 L403.9,121.5 L404,120.5 L404,119.5 L404.1,118.5 L404.1,117.5 L404.2,116.5 L404.2,115.5 L404.3,114.4 L404.4,113.4 L404.4,112.4 L404.5,111.4 L404.6,110.4 L404.6,109.4 L404.7,108.4 L404.8,107.4 L404.9,106.3 L404.9,105.3 L405,104.3 L405.1,103.3 L405.2,102.3 L405.3,101.3 L405.3,100.3 L405.4,99.3 L405.5,98.2 L405.6,97.2 L405.7,96.2 L405.7,95.2 L405.8,94.2 L405.9,93.2 L406,92.2 L406.1,91.2 L406.2,90.1 L406.3,89.1 L406.4,88.1 L406.5,87.1 L406.6,86.1 L406.7,85.1 L406.8,84.1 L406.8,83.1 L406.9,82 L407,81 L407,80 L407.1,79 L407.1,78Z" fill="#ff0000" stroke="#000" stroke-width="0.3" stroke-opacity="0.55"/>
<line x1="407.3" y1="17.1" x2="407.3" y2="64.6" stroke="#7a7a7a" stroke-width="0.75"/>
<line x1="407.3" y1="64.6" x2="407.3" y2="185.3" stroke="#000" stroke-width="0.9"/>
<rect x="406.8" y="122" width="1" height="36.5" fill="#000"/>
<circle cx="407.3" cy="140.2" r="1.2" fill="#fff"/>
<line x1="400" y1="17.1" x2="405.8" y2="17.1" stroke="#8a8a8a" stroke-width="1.1"/>
<text x="402" y="10.1" class="pv" textLength="17.2" lengthAdjust="spacingAndGlyphs">p&lt;0.001</text>
<path d="M426.8,148 L427,149 L427.2,150.1 L427.5,151.1 L427.7,152.1 L427.9,153.2 L428.1,154.2 L428.4,155.3 L428.6,156.3 L428.9,157.3 L429.1,158.4 L429.4,159.4 L429.6,160.4 L429.8,161.5 L430,162.5 L430,163.5 L430.1,164.6 L430.2,165.6 L430.2,166.7 L430.3,167.7 L430.3,168.7 L430.3,169.8 L430.3,170.8 L430.2,171.8 L430,172.9 L429.8,173.9 L429.6,174.9 L429.4,176 L429.2,177 L429,178 L428.8,179.1 L428.7,180.1 L428.5,181.2 L428.4,182.2 L428.3,183.2 L428.1,184.3 L428,185.3 L425,185.3 L424.9,184.3 L424.7,183.2 L424.6,182.2 L424.5,181.2 L424.3,180.1 L424.2,179.1 L424,178 L423.8,177 L423.6,176 L423.4,174.9 L423.2,173.9 L423,172.9 L422.8,171.8 L422.7,170.8 L422.7,169.8 L422.7,168.7 L422.7,167.7 L422.8,166.7 L422.8,165.6 L422.9,164.6 L423,163.5 L423,162.5 L423.2,161.5 L423.4,160.4 L423.6,159.4 L423.9,158.4 L424.1,157.3 L424.4,156.3 L424.6,155.3 L424.9,154.2 L425.1,153.2 L425.3,152.1 L425.5,151.1 L425.8,150.1 L426,149 L426.2,148Z" fill="#0000ff" stroke="#000" stroke-width="0.3" stroke-opacity="0.55"/>
<line x1="426.5" y1="130.2" x2="426.5" y2="144.1" stroke="#7a7a7a" stroke-width="0.75"/>
<line x1="426.5" y1="144.1" x2="426.5" y2="185.3" stroke="#000" stroke-width="0.9"/>
<rect x="426" y="163.1" width="1" height="12.7" fill="#000"/>
<circle cx="426.5" cy="169.4" r="1.2" fill="#fff"/>
<path d="M436.2,149.5 L436.4,150.6 L436.6,151.6 L436.8,152.7 L437.1,153.7 L437.4,154.8 L437.6,155.8 L437.9,156.9 L438.1,157.9 L438.4,159 L438.6,160 L438.8,161.1 L439,162.1 L439.1,163.2 L439.2,164.2 L439.2,165.3 L439.1,166.3 L439,167.4 L438.9,168.5 L438.8,169.5 L438.7,170.6 L438.4,171.6 L438.1,172.7 L437.8,173.7 L437.5,174.8 L437.3,175.8 L437.2,176.9 L437,177.9 L436.9,179 L436.8,180 L436.7,181.1 L436.6,182.1 L436.5,183.2 L436.5,184.2 L436.4,185.3 L435.4,185.3 L435.3,184.2 L435.3,183.2 L435.2,182.1 L435.1,181.1 L435,180 L434.9,179 L434.8,177.9 L434.6,176.9 L434.5,175.8 L434.3,174.8 L434,173.7 L433.7,172.7 L433.4,171.6 L433.1,170.6 L433,169.5 L432.9,168.5 L432.8,167.4 L432.7,166.3 L432.6,165.3 L432.6,164.2 L432.7,163.2 L432.8,162.1 L433,161.1 L433.2,160 L433.4,159 L433.7,157.9 L433.9,156.9 L434.2,155.8 L434.4,154.8 L434.7,153.7 L435,152.7 L435.2,151.6 L435.4,150.6 L435.6,149.5Z" fill="#ff0000" stroke="#000" stroke-width="0.3" stroke-opacity="0.55"/>
<line x1="435.9" y1="138" x2="435.9" y2="185.3" stroke="#000" stroke-width="0.9"/>
<rect x="435.4" y="159.6" width="1" height="12.2" fill="#000"/>
<circle cx="435.9" cy="165.7" r="1.2" fill="#fff"/>
<line x1="428.3" y1="130.2" x2="434" y2="130.2" stroke="#8a8a8a" stroke-width="1.1"/>
<text x="431" y="123.2" class="pv" textLength="17.2" lengthAdjust="spacingAndGlyphs">p=0.083</text>
<path d="M455.6,39.5 L455.7,40.5 L455.8,41.5 L455.9,42.5 L456,43.5 L456.1,44.6 L456.2,45.6 L456.3,46.6 L456.3,47.6 L456.4,48.6 L456.5,49.6 L456.6,50.6 L456.7,51.6 L456.8,52.7 L456.9,53.7 L457,54.7 L457.1,55.7 L457.2,56.7 L457.2,57.7 L457.3,58.7 L457.4,59.7 L457.5,60.8 L457.6,61.8 L457.7,62.8 L457.8,63.8 L457.9,64.8 L458,65.8 L458.1,66.8 L458.1,67.8 L458.2,68.8 L458.3,69.9 L458.4,70.9 L458.4,71.9 L458.5,72.9 L458.6,73.9 L458.7,74.9 L458.8,75.9 L458.9,76.9 L458.9,78 L459,79 L459.1,80 L459.1,81 L459.1,82 L459.2,83 L459.2,84 L459.2,85 L459.2,86.1 L459.2,87.1 L459.1,88.1 L459.1,89.1 L459,90.1 L459,91.1 L458.9,92.1 L458.8,93.1 L458.8,94.2 L458.7,95.2 L458.6,96.2 L458.5,97.2 L458.4,98.2 L458.4,99.2 L458.3,100.2 L458.2,101.2 L458.1,102.2 L458,103.3 L457.9,104.3 L457.8,105.3 L457.7,106.3 L457.6,107.3 L457.5,108.3 L457.4,109.3 L457.3,110.3 L457.2,111.4 L457.1,112.4 L456.9,113.4 L456.8,114.4 L456.7,115.4 L456.6,116.4 L456.5,117.4 L456.3,118.4 L456.2,119.5 L456.1,120.5 L456,121.5 L455.8,122.5 L455.7,123.5 L454.9,123.5 L454.8,122.5 L454.6,121.5 L454.5,120.5 L454.4,119.5 L454.3,118.4 L454.1,117.4 L454,116.4 L453.9,115.4 L453.8,114.4 L453.7,113.4 L453.5,112.4 L453.4,111.4 L453.3,110.3 L453.2,109.3 L453.1,108.3 L453,107.3 L452.9,106.3 L452.8,105.3 L452.7,104.3 L452.6,103.3 L452.5,102.2 L452.4,101.2 L452.3,100.2 L452.2,99.2 L452.2,98.2 L452.1,97.2 L452,96.2 L451.9,95.2 L451.8,94.2 L451.8,93.1 L451.7,92.1 L451.6,91.1 L451.6,90.1 L451.5,89.1 L451.5,88.1 L451.4,87.1 L451.4,86.1 L451.4,85 L451.4,84 L451.4,83 L451.5,82 L451.5,81 L451.5,80 L451.6,79 L451.7,78 L451.7,76.9 L451.8,75.9 L451.9,74.9 L452,73.9 L452.1,72.9 L452.2,71.9 L452.2,70.9 L452.3,69.9 L452.4,68.8 L452.5,67.8 L452.5,66.8 L452.6,65.8 L452.7,64.8 L452.8,63.8 L452.9,62.8 L453,61.8 L453.1,60.8 L453.2,59.7 L453.3,58.7 L453.4,57.7 L453.4,56.7 L453.5,55.7 L453.6,54.7 L453.7,53.7 L453.8,52.7 L453.9,51.6 L454,50.6 L454.1,49.6 L454.2,48.6 L454.3,47.6 L454.3,46.6 L454.4,45.6 L454.5,44.6 L454.6,43.5 L454.7,42.5 L454.8,41.5 L454.9,40.5 L455,39.5Z" fill="#0000ff" stroke="#000" stroke-width="0.3" stroke-opacity="0.55"/>
<line x1="455.3" y1="37.6" x2="455.3" y2="136.9" stroke="#000" stroke-width="0.9"/>
<rect x="454.8" y="70.3" width="1" height="28.6" fill="#000"/>
<circle cx="455.3" cy="84.6" r="1.2" fill="#fff"/>
<path d="M464.9,59.5 L465,60.5 L465.1,61.6 L465.2,62.6 L465.3,63.6 L465.4,64.6 L465.6,65.7 L465.7,66.7 L465.8,67.7 L465.9,68.8 L466.1,69.8 L466.2,70.8 L466.4,71.8 L466.5,72.9 L466.7,73.9 L466.9,74.9 L467,75.9 L467.2,77 L467.3,78 L467.5,79 L467.6,80.1 L467.7,81.1 L467.8,82.1 L468,83.1 L468.1,84.2 L468.2,85.2 L468.3,86.2 L468.4,87.3 L468.4,88.3 L468.5,89.3 L468.5,90.3 L468.5,91.4 L468.5,92.4 L468.4,93.4 L468.4,94.5 L468.4,95.5 L468.3,96.5 L468.2,97.5 L468.1,98.6 L468.1,99.6 L468,100.6 L467.9,101.6 L467.8,102.7 L467.7,103.7 L467.6,104.7 L467.5,105.8 L467.4,106.8 L467.3,107.8 L467.2,108.8 L467.1,109.9 L467,110.9 L466.8,111.9 L466.7,113 L466.6,114 L466.4,115 L466.3,116 L466.2,117.1 L466.1,118.1 L466,119.1 L465.9,120.1 L465.8,121.2 L465.7,122.2 L465.6,123.2 L465.5,124.3 L465.4,125.3 L465.3,126.3 L465.2,127.3 L465.1,128.4 L465,129.4 L464.2,129.4 L464.1,128.4 L464,127.3 L463.9,126.3 L463.8,125.3 L463.7,124.3 L463.6,123.2 L463.5,122.2 L463.4,121.2 L463.3,120.1 L463.2,119.1 L463.1,118.1 L463,117.1 L462.9,116 L462.8,115 L462.6,114 L462.5,113 L462.4,111.9 L462.2,110.9 L462.1,109.9 L462,108.8 L461.9,107.8 L461.8,106.8 L461.7,105.8 L461.6,104.7 L461.5,103.7 L461.4,102.7 L461.3,101.6 L461.2,100.6 L461.1,99.6 L461.1,98.6 L461,97.5 L460.9,96.5 L460.8,95.5 L460.8,94.5 L460.8,93.4 L460.7,92.4 L460.7,91.4 L460.7,90.3 L460.7,89.3 L460.8,88.3 L460.8,87.3 L460.9,86.2 L461,85.2 L461.1,84.2 L461.2,83.1 L461.4,82.1 L461.5,81.1 L461.6,80.1 L461.7,79 L461.9,78 L462,77 L462.2,75.9 L462.3,74.9 L462.5,73.9 L462.7,72.9 L462.8,71.8 L463,70.8 L463.1,69.8 L463.3,68.8 L463.4,67.7 L463.5,66.7 L463.6,65.7 L463.8,64.6 L463.9,63.6 L464,62.6 L464.1,61.6 L464.2,60.5 L464.3,59.5Z" fill="#ff0000" stroke="#000" stroke-width="0.3" stroke-opacity="0.55"/>
<line x1="464.6" y1="51.4" x2="464.6" y2="185.3" stroke="#000" stroke-width="0.9"/>
<rect x="464.1" y="82.8" width="1" height="23.8" fill="#000"/>
<circle cx="464.6" cy="94.7" r="1.2" fill="#fff"/>
<line x1="457.6" y1="37.6" x2="462.8" y2="37.6" stroke="#8a8a8a" stroke-width="1.1"/>
<text x="459.5" y="30.2" class="pv" textLength="17.2" lengthAdjust="spacingAndGlyphs">p&lt;0.001</text>
<path d="M484.2,169 L484.2,170.1 L484.2,171.2 L484.3,172.3 L484.4,173.3 L484.4,174.4 L484.5,175.5 L484.7,176.6 L484.8,177.7 L485,178.8 L485.4,179.9 L485.9,181 L486.4,182 L487,183.1 L487.4,184.2 L487.7,185.3 L483.9,184.1 L480.1,185.3 L480.4,184.2 L480.8,183.1 L481.4,182 L481.9,181 L482.4,179.9 L482.8,178.8 L483,177.7 L483.1,176.6 L483.3,175.5 L483.4,174.4 L483.4,173.3 L483.5,172.3 L483.6,171.2 L483.6,170.1 L483.6,169Z" fill="#0000ff" stroke="#000" stroke-width="0.3" stroke-opacity="0.55"/>
<line x1="483.9" y1="163.8" x2="483.9" y2="185.3" stroke="#000" stroke-width="0.9"/>
<path d="M493.7,177.8 L493.9,178.9 L494.2,179.9 L494.6,181 L495,182.1 L495.7,183.2 L496.3,184.2 L496.9,185.3 L493.4,184.1 L489.9,185.3 L490.5,184.2 L491.1,183.2 L491.8,182.1 L492.2,181 L492.6,179.9 L492.9,178.9 L493.1,177.8Z" fill="#ff0000" stroke="#000" stroke-width="0.3" stroke-opacity="0.55"/>
<line x1="493.4" y1="163" x2="493.4" y2="174.5" stroke="#7a7a7a" stroke-width="0.75"/>
<line x1="493.4" y1="174.5" x2="493.4" y2="185.3" stroke="#000" stroke-width="0.9"/>
<line x1="485.6" y1="162.3" x2="492" y2="162.3" stroke="#8a8a8a" stroke-width="1.1"/>
<text x="488.6" y="155.2" class="pv" textLength="17.2" lengthAdjust="spacingAndGlyphs">p=0.002</text>
<path d="M513.1,133.2 L513.2,134.2 L513.3,135.2 L513.4,136.3 L513.5,137.3 L513.6,138.3 L513.7,139.3 L513.8,140.4 L514,141.4 L514.1,142.4 L514.3,143.4 L514.4,144.4 L514.6,145.5 L514.7,146.5 L514.8,147.5 L514.9,148.5 L515,149.5 L515.1,150.6 L515.2,151.6 L515.3,152.6 L515.4,153.6 L515.5,154.7 L515.6,155.7 L515.7,156.7 L515.9,157.7 L516,158.7 L516.2,159.8 L516.4,160.8 L516.6,161.8 L516.7,162.8 L516.8,163.8 L516.9,164.9 L516.9,165.9 L516.9,166.9 L516.8,167.9 L516.8,169 L516.7,170 L516.6,171 L516.4,172 L516.1,173 L515.9,174.1 L515.8,175.1 L515.8,176.1 L515.9,177.1 L516,178.1 L516.1,179.2 L516.2,180.2 L516.3,181.2 L516.3,182.2 L516.4,183.3 L516.5,184.3 L516.5,185.3 L509.1,185.3 L509.1,184.3 L509.2,183.3 L509.3,182.2 L509.3,181.2 L509.4,180.2 L509.5,179.2 L509.6,178.1 L509.7,177.1 L509.8,176.1 L509.8,175.1 L509.7,174.1 L509.5,173 L509.2,172 L509,171 L508.9,170 L508.8,169 L508.8,167.9 L508.7,166.9 L508.7,165.9 L508.7,164.9 L508.8,163.8 L508.9,162.8 L509,161.8 L509.2,160.8 L509.4,159.8 L509.6,158.7 L509.7,157.7 L509.9,156.7 L510,155.7 L510.1,154.7 L510.2,153.6 L510.3,152.6 L510.4,151.6 L510.5,150.6 L510.6,149.5 L510.7,148.5 L510.8,147.5 L510.9,146.5 L511,145.5 L511.2,144.4 L511.3,143.4 L511.5,142.4 L511.6,141.4 L511.8,140.4 L511.9,139.3 L512,138.3 L512.1,137.3 L512.2,136.3 L512.3,135.2 L512.4,134.2 L512.5,133.2Z" fill="#0000ff" stroke="#000" stroke-width="0.3" stroke-opacity="0.55"/>
<line x1="512.8" y1="133.2" x2="512.8" y2="185.3" stroke="#000" stroke-width="0.9"/>
<rect x="512.3" y="160.1" width="1" height="17.7" fill="#000"/>
<circle cx="512.8" cy="169" r="1.2" fill="#fff"/>
<path d="M522.5,148.3 L522.7,149.3 L522.8,150.4 L523,151.4 L523.1,152.4 L523.3,153.4 L523.4,154.5 L523.6,155.5 L523.7,156.5 L523.9,157.6 L524,158.6 L524.1,159.6 L524.3,160.6 L524.4,161.7 L524.5,162.7 L524.7,163.7 L524.8,164.7 L524.9,165.8 L525,166.8 L525.1,167.8 L525.2,168.9 L525.2,169.9 L525.3,170.9 L525.4,171.9 L525.5,173 L525.5,174 L525.6,175 L525.7,176.1 L525.7,177.1 L525.8,178.1 L525.8,179.1 L525.8,180.2 L525.8,181.2 L525.9,182.2 L525.9,183.2 L525.9,184.3 L525.9,185.3 L518.5,185.3 L518.5,184.3 L518.5,183.2 L518.5,182.2 L518.6,181.2 L518.6,180.2 L518.6,179.1 L518.6,178.1 L518.7,177.1 L518.7,176.1 L518.8,175 L518.9,174 L518.9,173 L519,171.9 L519.1,170.9 L519.2,169.9 L519.2,168.9 L519.3,167.8 L519.4,166.8 L519.5,165.8 L519.6,164.7 L519.7,163.7 L519.9,162.7 L520,161.7 L520.1,160.6 L520.3,159.6 L520.4,158.6 L520.5,157.6 L520.7,156.5 L520.8,155.5 L521,154.5 L521.1,153.4 L521.3,152.4 L521.4,151.4 L521.6,150.4 L521.7,149.3 L521.9,148.3Z" fill="#ff0000" stroke="#000" stroke-width="0.3" stroke-opacity="0.55"/>
<line x1="522.2" y1="119.8" x2="522.2" y2="142" stroke="#7a7a7a" stroke-width="0.75"/>
<line x1="522.2" y1="142" x2="522.2" y2="185.3" stroke="#000" stroke-width="0.9"/>
<rect x="521.7" y="168.9" width="1" height="12.6" fill="#000"/>
<circle cx="522.2" cy="175.2" r="1.2" fill="#fff"/>
<line x1="514.4" y1="119.8" x2="520.7" y2="119.8" stroke="#8a8a8a" stroke-width="1.1"/>
<text x="516.6" y="112.5" class="pv" textLength="17.2" lengthAdjust="spacingAndGlyphs">p&lt;0.001</text>
<path d="M541.5,181.7 L541.7,182.2 L542.1,182.7 L542.5,183.2 L542.9,183.8 L543.6,184.3 L544.3,184.8 L545.1,185.3 L541.2,184.1 L537.3,185.3 L538.1,184.8 L538.8,184.3 L539.5,183.8 L539.9,183.2 L540.3,182.7 L540.7,182.2 L540.9,181.7Z" fill="#0000ff" stroke="#000" stroke-width="0.3" stroke-opacity="0.55"/>
<line x1="541.2" y1="176.1" x2="541.2" y2="185.3" stroke="#000" stroke-width="0.9"/>
<path d="M550.8,181.7 L551,182.2 L551.4,182.7 L551.8,183.2 L552.2,183.8 L552.8,184.3 L553.5,184.8 L554.3,185.3 L550.5,184.1 L546.7,185.3 L547.5,184.8 L548.2,184.3 L548.8,183.8 L549.2,183.2 L549.6,182.7 L550,182.2 L550.2,181.7Z" fill="#ff0000" stroke="#000" stroke-width="0.3" stroke-opacity="0.55"/>
<line x1="550.5" y1="175.7" x2="550.5" y2="185.3" stroke="#000" stroke-width="0.9"/>
<line x1="543.3" y1="175.7" x2="549" y2="175.7" stroke="#8a8a8a" stroke-width="1.1"/>
<text x="545.7" y="167.9" class="pv" textLength="17.2" lengthAdjust="spacingAndGlyphs">p=0.902</text>
<path d="M570.4,183 L570.5,183.3 L570.8,183.7 L571.2,184 L571.6,184.3 L572.2,184.6 L573.1,185 L574.1,185.3 L570.1,184.1 L566.1,185.3 L567.1,185 L568,184.6 L568.6,184.3 L569,184 L569.4,183.7 L569.7,183.3 L569.8,183Z" fill="#0000ff" stroke="#000" stroke-width="0.3" stroke-opacity="0.55"/>
<line x1="570.1" y1="173.9" x2="570.1" y2="185.3" stroke="#000" stroke-width="0.9"/>
<path d="M579.7,183 L579.8,183.3 L580.1,183.7 L580.5,184 L580.9,184.3 L581.5,184.6 L582.4,185 L583.4,185.3 L579.4,184.1 L575.4,185.3 L576.4,185 L577.3,184.6 L577.9,184.3 L578.3,184 L578.7,183.7 L579,183.3 L579.1,183Z" fill="#ff0000" stroke="#000" stroke-width="0.3" stroke-opacity="0.55"/>
<line x1="579.4" y1="165.3" x2="579.4" y2="179.1" stroke="#7a7a7a" stroke-width="0.75"/>
<line x1="579.4" y1="179.1" x2="579.4" y2="185.3" stroke="#000" stroke-width="0.9"/>
<line x1="571.9" y1="165.3" x2="577.6" y2="165.3" stroke="#8a8a8a" stroke-width="1.1"/>
<text x="574.6" y="157.9" class="pv" textLength="17.2" lengthAdjust="spacingAndGlyphs">p=0.765</text>
<path d="M599,145.1 L599.3,146.1 L599.6,147.2 L599.8,148.2 L600.1,149.2 L600.3,150.3 L600.6,151.3 L600.8,152.3 L601,153.3 L601.2,154.4 L601.4,155.4 L601.7,156.4 L601.9,157.5 L602.1,158.5 L602.2,159.5 L602.4,160.6 L602.5,161.6 L602.5,162.6 L602.5,163.7 L602.5,164.7 L602.4,165.7 L602.3,166.7 L602.2,167.8 L602.1,168.8 L601.9,169.8 L601.8,170.9 L601.7,171.9 L601.5,172.9 L601.3,174 L601.2,175 L601,176 L600.9,177.1 L600.7,178.1 L600.5,179.1 L600.3,180.1 L600.1,181.2 L599.9,182.2 L599.7,183.2 L599.4,184.3 L599.2,185.3 L598.2,185.3 L598,184.3 L597.7,183.2 L597.5,182.2 L597.3,181.2 L597.1,180.1 L596.9,179.1 L596.7,178.1 L596.5,177.1 L596.4,176 L596.2,175 L596.1,174 L595.9,172.9 L595.7,171.9 L595.6,170.9 L595.5,169.8 L595.3,168.8 L595.2,167.8 L595.1,166.7 L595,165.7 L594.9,164.7 L594.9,163.7 L594.9,162.6 L594.9,161.6 L595,160.6 L595.2,159.5 L595.3,158.5 L595.5,157.5 L595.7,156.4 L596,155.4 L596.2,154.4 L596.4,153.3 L596.6,152.3 L596.8,151.3 L597.1,150.3 L597.3,149.2 L597.6,148.2 L597.8,147.2 L598.1,146.1 L598.4,145.1Z" fill="#0000ff" stroke="#000" stroke-width="0.3" stroke-opacity="0.55"/>
<line x1="598.7" y1="145.1" x2="598.7" y2="185.3" stroke="#000" stroke-width="0.9"/>
<rect x="598.2" y="156.7" width="1" height="13.7" fill="#000"/>
<circle cx="598.7" cy="163.5" r="1.2" fill="#fff"/>
<path d="M608.4,146.6 L608.7,147.6 L609,148.7 L609.3,149.7 L609.6,150.8 L609.8,151.8 L610.1,152.9 L610.3,153.9 L610.5,155 L610.7,156 L610.9,157.1 L611.1,158.1 L611.3,159.2 L611.5,160.2 L611.7,161.2 L611.8,162.3 L611.9,163.3 L611.9,164.4 L611.9,165.4 L611.8,166.5 L611.8,167.5 L611.6,168.6 L611.5,169.6 L611.4,170.7 L611.2,171.7 L611,172.7 L610.9,173.8 L610.7,174.8 L610.6,175.9 L610.4,176.9 L610.2,178 L610,179 L609.8,180.1 L609.6,181.1 L609.3,182.2 L609.1,183.2 L608.9,184.3 L608.6,185.3 L607.6,185.3 L607.3,184.3 L607.1,183.2 L606.9,182.2 L606.6,181.1 L606.4,180.1 L606.2,179 L606,178 L605.8,176.9 L605.6,175.9 L605.5,174.8 L605.3,173.8 L605.2,172.7 L605,171.7 L604.8,170.7 L604.7,169.6 L604.6,168.6 L604.4,167.5 L604.4,166.5 L604.3,165.4 L604.3,164.4 L604.3,163.3 L604.4,162.3 L604.5,161.2 L604.7,160.2 L604.9,159.2 L605.1,158.1 L605.3,157.1 L605.5,156 L605.7,155 L605.9,153.9 L606.1,152.9 L606.4,151.8 L606.6,150.8 L606.9,149.7 L607.2,148.7 L607.5,147.6 L607.8,146.6Z" fill="#ff0000" stroke="#000" stroke-width="0.3" stroke-opacity="0.55"/>
<line x1="608.1" y1="139.2" x2="608.1" y2="185.3" stroke="#000" stroke-width="0.9"/>
<rect x="607.6" y="158.7" width="1" height="13.2" fill="#000"/>
<circle cx="608.1" cy="165.3" r="1.2" fill="#fff"/>
<line x1="600.2" y1="139.2" x2="606.5" y2="139.2" stroke="#8a8a8a" stroke-width="1.1"/>
<text x="603.5" y="131.9" class="pv" textLength="14.7" lengthAdjust="spacingAndGlyphs">p=0.02</text>
<path d="M627.8,163.4 L627.9,164.5 L627.9,165.6 L628,166.7 L628.1,167.8 L628.2,168.9 L628.2,170 L628.3,171.1 L628.4,172.2 L628.5,173.3 L628.6,174.4 L628.7,175.4 L628.9,176.5 L629,177.6 L629.2,178.7 L629.5,179.8 L629.8,180.9 L630.3,182 L630.9,183.1 L631.2,184.2 L631.5,185.3 L627.5,184.1 L623.5,185.3 L623.8,184.2 L624.1,183.1 L624.7,182 L625.2,180.9 L625.5,179.8 L625.8,178.7 L626,177.6 L626.1,176.5 L626.3,175.4 L626.4,174.4 L626.5,173.3 L626.6,172.2 L626.7,171.1 L626.8,170 L626.8,168.9 L626.9,167.8 L627,166.7 L627.1,165.6 L627.1,164.5 L627.2,163.4Z" fill="#0000ff" stroke="#000" stroke-width="0.3" stroke-opacity="0.55"/>
<line x1="627.5" y1="158.3" x2="627.5" y2="185.3" stroke="#000" stroke-width="0.9"/>
<path d="M637.1,168.4 L637.1,169.5 L637.2,170.7 L637.3,171.8 L637.4,172.9 L637.5,174 L637.6,175.2 L637.8,176.3 L638,177.4 L638.3,178.5 L638.6,179.7 L639,180.8 L639.4,181.9 L639.8,183 L640.2,184.2 L640.6,185.3 L636.8,184.1 L632.9,185.3 L633.4,184.2 L633.8,183 L634.2,181.9 L634.6,180.8 L635,179.7 L635.3,178.5 L635.6,177.4 L635.8,176.3 L636,175.2 L636.1,174 L636.2,172.9 L636.3,171.8 L636.4,170.7 L636.5,169.5 L636.5,168.4Z" fill="#ff0000" stroke="#000" stroke-width="0.3" stroke-opacity="0.55"/>
<line x1="636.8" y1="152.3" x2="636.8" y2="164.9" stroke="#7a7a7a" stroke-width="0.75"/>
<line x1="636.8" y1="164.9" x2="636.8" y2="185.3" stroke="#000" stroke-width="0.9"/>
<line x1="629.3" y1="152.3" x2="635.3" y2="152.3" stroke="#8a8a8a" stroke-width="1.1"/>
<text x="631.5" y="145.3" class="pv" textLength="17.2" lengthAdjust="spacingAndGlyphs">p=0.201</text>
<text x="50.7" y="202.5" class="cl big" style="font-size:6.6px" textLength="17.5" lengthAdjust="spacingAndGlyphs">B.cells</text>
<text x="80.2" y="200.5" class="cl" style="font-size:5px" textLength="7.7" lengthAdjust="spacingAndGlyphs">CD4+</text>
<text x="80.2" y="208.2" class="cl" style="font-size:5px" textLength="17.7" lengthAdjust="spacingAndGlyphs">memory</text>
<text x="80.5" y="215.5" class="cl" style="font-size:5px" textLength="11.4" lengthAdjust="spacingAndGlyphs">Tcells</text>
<text x="109.5" y="201.4" class="cl" style="font-size:5px" textLength="10.7" lengthAdjust="spacingAndGlyphs">CD4+</text>
<text x="109.5" y="209" class="cl" style="font-size:5px" textLength="10.3" lengthAdjust="spacingAndGlyphs">naive</text>
<text x="109.5" y="216.3" class="cl" style="font-size:5px" textLength="11.2" lengthAdjust="spacingAndGlyphs">Tcells</text>
<text x="133.6" y="203.1" class="cl" style="font-size:5px" textLength="24.1" lengthAdjust="spacingAndGlyphs">CD4+.Tcells</text>
<text x="164" y="202.4" class="cl" style="font-size:5px" textLength="20" lengthAdjust="spacingAndGlyphs">CD4. Tem</text>
<text x="195.3" y="203.1" class="cl" style="font-size:5px" textLength="13.9" lengthAdjust="spacingAndGlyphs">CD4.Tcm</text>
<text x="224.8" y="202.2" class="cl" style="font-size:5px" textLength="12.2" lengthAdjust="spacingAndGlyphs">CD8.n</text>
<text x="224.8" y="209.9" class="cl" style="font-size:5px" textLength="10.2" lengthAdjust="spacingAndGlyphs">aive.</text>
<text x="224.8" y="217.1" class="cl" style="font-size:5px" textLength="12.2" lengthAdjust="spacingAndGlyphs">T.cells</text>
<text x="251.1" y="204.2" class="cl" style="font-size:5px" textLength="13.6" lengthAdjust="spacingAndGlyphs">CD8. T</text>
<text x="251.1" y="211.7" class="cl" style="font-size:5px" textLength="8.2" lengthAdjust="spacingAndGlyphs">cells</text>
<text x="277.2" y="204.5" class="cl" style="font-size:5px" textLength="19.7" lengthAdjust="spacingAndGlyphs">CD8. Tem</text>
<text x="311.2" y="206" class="cl" style="font-size:5px" textLength="18.2" lengthAdjust="spacingAndGlyphs">CD8.Tcm</text>
<text x="338" y="203.1" class="cl" style="font-size:5px" textLength="24.2" lengthAdjust="spacingAndGlyphs">Class.switch</text>
<text x="338" y="211.2" class="cl" style="font-size:5px" textLength="23.8" lengthAdjust="spacingAndGlyphs">ed.memory.</text>
<text x="338" y="218" class="cl" style="font-size:5px" textLength="10.8" lengthAdjust="spacingAndGlyphs">Bcells</text>
<text x="368.5" y="204" class="cl" style="font-size:5px" textLength="16.1" lengthAdjust="spacingAndGlyphs">NK.cells</text>
<text x="401.2" y="204" class="cl" style="font-size:5px" textLength="8.4" lengthAdjust="spacingAndGlyphs">NKT</text>
<text x="424.8" y="204.5" class="cl" style="font-size:5px" textLength="24.7" lengthAdjust="spacingAndGlyphs">Plasma.cells</text>
<text x="457.4" y="204" class="cl" style="font-size:5px" textLength="17.5" lengthAdjust="spacingAndGlyphs">Th1.cells</text>
<text x="481.5" y="204" class="cl" style="font-size:5px" textLength="17.5" lengthAdjust="spacingAndGlyphs">Th2.cells</text>
<text x="513.3" y="204.5" class="cl" style="font-size:5px" textLength="11.7" lengthAdjust="spacingAndGlyphs">Tregs</text>
<text x="539.3" y="204" class="cl" style="font-size:5px" textLength="17.3" lengthAdjust="spacingAndGlyphs">Memory</text>
<text x="539.3" y="211.7" class="cl" style="font-size:5px" textLength="13" lengthAdjust="spacingAndGlyphs">.Bcells</text>
<text x="566.7" y="205.1" class="cl" style="font-size:5px" textLength="15.1" lengthAdjust="spacingAndGlyphs">Naive.B</text>
<text x="566.7" y="212.2" class="cl" style="font-size:5px" textLength="9.3" lengthAdjust="spacingAndGlyphs">.cells</text>
<text x="597.2" y="206.3" class="cl" style="font-size:5px" textLength="12.5" lengthAdjust="spacingAndGlyphs">Pro.B.</text>
<text x="597.2" y="214.4" class="cl" style="font-size:5px" textLength="8.4" lengthAdjust="spacingAndGlyphs">cells</text>
<text x="626.1" y="207.6" class="cl" style="font-size:5px" textLength="17.6" lengthAdjust="spacingAndGlyphs">Tgd.cells</text>
<path d="M669,242.5 L669,433.5 L28.5,433.5 L28.5,242.5" fill="none" stroke="#808080" stroke-width="1"/>
<line x1="28" y1="242.5" x2="669.5" y2="242.5" stroke="#808080" stroke-width="1"/>
<line x1="24.9" y1="426.4" x2="28.5" y2="426.4" stroke="#555" stroke-width="1"/>
<text x="0" y="0" transform="translate(19.9,426) rotate(-90)" class="tk">0.0</text>
<line x1="24.9" y1="385.8" x2="28.5" y2="385.8" stroke="#555" stroke-width="1"/>
<text x="0" y="0" transform="translate(19.9,385.4) rotate(-90)" class="tk">0.1</text>
<line x1="24.9" y1="345.2" x2="28.5" y2="345.2" stroke="#555" stroke-width="1"/>
<text x="0" y="0" transform="translate(19.9,344.8) rotate(-90)" class="tk">0.2</text>
<line x1="24.9" y1="304.6" x2="28.5" y2="304.6" stroke="#555" stroke-width="1"/>
<text x="0" y="0" transform="translate(19.9,304.2) rotate(-90)" class="tk">0.3</text>
<line x1="24.9" y1="264" x2="28.5" y2="264" stroke="#555" stroke-width="1"/>
<text x="0" y="0" transform="translate(19.9,263.6) rotate(-90)" class="tk">0.4</text>
<text x="0" y="0" transform="translate(5.8,337.5) rotate(-90)" class="fr" textLength="22" lengthAdjust="spacingAndGlyphs">Fraction</text>
<text x="0.8" y="243.3" class="lt">(b)</text>
<path d="M52.6,330 L52.6,331 L52.6,332 L52.6,333 L52.7,334.1 L52.7,335.1 L52.7,336.1 L52.8,337.1 L52.8,338.1 L52.8,339.1 L52.9,340.1 L52.9,341.2 L53,342.2 L53,343.2 L53.1,344.2 L53.1,345.2 L53.2,346.2 L53.3,347.2 L53.4,348.2 L53.4,349.3 L53.5,350.3 L53.6,351.3 L53.7,352.3 L53.8,353.3 L53.9,354.3 L54,355.3 L54.1,356.4 L54.2,357.4 L54.2,358.4 L54.3,359.4 L54.4,360.4 L54.5,361.4 L54.5,362.4 L54.6,363.5 L54.7,364.5 L54.7,365.5 L54.8,366.5 L54.9,367.5 L55,368.5 L55,369.5 L55.1,370.5 L55.2,371.6 L55.3,372.6 L55.4,373.6 L55.4,374.6 L55.5,375.6 L55.6,376.6 L55.7,377.6 L55.8,378.7 L55.9,379.7 L56,380.7 L56.1,381.7 L56.2,382.7 L56.4,383.7 L56.5,384.7 L56.6,385.8 L56.7,386.8 L56.8,387.8 L56.9,388.8 L57,389.8 L57.1,390.8 L57.3,391.8 L57.4,392.8 L57.6,393.9 L57.7,394.9 L57.9,395.9 L58,396.9 L58.2,397.9 L58.3,398.9 L58.3,399.9 L58.4,401 L58.4,402 L58.4,403 L58.4,404 L58.4,405 L58.4,406 L58.4,407 L58.4,408.1 L58.4,409.1 L58.4,410.1 L58.4,411.1 L58.4,412.1 L58.4,413.1 L58.3,414.1 L58.2,415.1 L58,416.2 L57.8,417.2 L57.6,418.2 L57.3,419.2 L57.1,420.2 L57,421.2 L56.8,422.2 L56.7,423.3 L56.5,424.3 L56.4,425.3 L56.2,426.3 L48.6,426.3 L48.4,425.3 L48.3,424.3 L48.1,423.3 L48,422.2 L47.8,421.2 L47.7,420.2 L47.5,419.2 L47.2,418.2 L47,417.2 L46.8,416.2 L46.6,415.1 L46.5,414.1 L46.4,413.1 L46.4,412.1 L46.4,411.1 L46.4,410.1 L46.4,409.1 L46.4,408.1 L46.4,407 L46.4,406 L46.4,405 L46.4,404 L46.4,403 L46.4,402 L46.4,401 L46.5,399.9 L46.5,398.9 L46.6,397.9 L46.8,396.9 L46.9,395.9 L47.1,394.9 L47.2,393.9 L47.4,392.8 L47.5,391.8 L47.7,390.8 L47.8,389.8 L47.9,388.8 L48,387.8 L48.1,386.8 L48.2,385.8 L48.3,384.7 L48.4,383.7 L48.6,382.7 L48.7,381.7 L48.8,380.7 L48.9,379.7 L49,378.7 L49.1,377.6 L49.2,376.6 L49.3,375.6 L49.4,374.6 L49.4,373.6 L49.5,372.6 L49.6,371.6 L49.7,370.5 L49.8,369.5 L49.8,368.5 L49.9,367.5 L50,366.5 L50.1,365.5 L50.1,364.5 L50.2,363.5 L50.3,362.4 L50.3,361.4 L50.4,360.4 L50.5,359.4 L50.6,358.4 L50.6,357.4 L50.7,356.4 L50.8,355.3 L50.9,354.3 L51,353.3 L51.1,352.3 L51.2,351.3 L51.3,350.3 L51.4,349.3 L51.4,348.2 L51.5,347.2 L51.6,346.2 L51.7,345.2 L51.7,344.2 L51.8,343.2 L51.8,342.2 L51.9,341.2 L51.9,340.1 L52,339.1 L52,338.1 L52,337.1 L52.1,336.1 L52.1,335.1 L52.1,334.1 L52.2,333 L52.2,332 L52.2,331 L52.2,330Z" fill="#0000ff" stroke="#000" stroke-width="0.35" stroke-opacity="0.55"/>
<line x1="52.4" y1="314.1" x2="52.4" y2="326.5" stroke="#7a7a7a" stroke-width="0.75"/>
<line x1="52.4" y1="326.5" x2="52.4" y2="426.3" stroke="#000" stroke-width="0.9"/>
<rect x="51.8" y="387.4" width="1.3" height="32.7" fill="#000"/>
<circle cx="52.4" cy="403.8" r="1.25" fill="#fff"/>
<path d="M68.8,352 L68.8,353 L68.8,354 L68.8,355.1 L68.8,356.1 L68.8,357.1 L68.8,358.1 L68.9,359.1 L68.9,360.1 L68.9,361.2 L68.9,362.2 L68.9,363.2 L69,364.2 L69,365.2 L69,366.2 L69,367.3 L69.1,368.3 L69.1,369.3 L69.1,370.3 L69.1,371.3 L69.2,372.4 L69.2,373.4 L69.2,374.4 L69.3,375.4 L69.3,376.4 L69.4,377.4 L69.4,378.5 L69.5,379.5 L69.5,380.5 L69.6,381.5 L69.7,382.5 L69.7,383.6 L69.9,384.6 L70,385.6 L70.2,386.6 L70.4,387.6 L70.6,388.6 L70.8,389.7 L70.9,390.7 L71.1,391.7 L71.3,392.7 L71.4,393.7 L71.6,394.7 L71.8,395.8 L71.9,396.8 L72.1,397.8 L72.2,398.8 L72.4,399.8 L72.6,400.9 L72.7,401.9 L72.9,402.9 L73.1,403.9 L73.3,404.9 L73.6,405.9 L73.8,407 L74,408 L74.2,409 L74.4,410 L74.5,411 L74.6,412.1 L74.6,413.1 L74.6,414.1 L74.6,415.1 L74.6,416.1 L74.6,417.1 L74.6,418.2 L74.6,419.2 L74.6,420.2 L74.6,421.2 L74.6,422.2 L74.6,423.2 L74.5,424.3 L74.4,425.3 L74.3,426.3 L62.7,426.3 L62.6,425.3 L62.5,424.3 L62.4,423.2 L62.4,422.2 L62.4,421.2 L62.4,420.2 L62.4,419.2 L62.4,418.2 L62.4,417.1 L62.4,416.1 L62.4,415.1 L62.4,414.1 L62.4,413.1 L62.4,412.1 L62.5,411 L62.6,410 L62.8,409 L63,408 L63.2,407 L63.4,405.9 L63.7,404.9 L63.9,403.9 L64.1,402.9 L64.3,401.9 L64.4,400.9 L64.6,399.8 L64.8,398.8 L64.9,397.8 L65.1,396.8 L65.2,395.8 L65.4,394.7 L65.6,393.7 L65.7,392.7 L65.9,391.7 L66.1,390.7 L66.2,389.7 L66.4,388.6 L66.6,387.6 L66.8,386.6 L67,385.6 L67.1,384.6 L67.3,383.6 L67.3,382.5 L67.4,381.5 L67.5,380.5 L67.5,379.5 L67.6,378.5 L67.6,377.4 L67.7,376.4 L67.7,375.4 L67.8,374.4 L67.8,373.4 L67.8,372.4 L67.9,371.3 L67.9,370.3 L67.9,369.3 L67.9,368.3 L68,367.3 L68,366.2 L68,365.2 L68,364.2 L68.1,363.2 L68.1,362.2 L68.1,361.2 L68.1,360.1 L68.1,359.1 L68.2,358.1 L68.2,357.1 L68.2,356.1 L68.2,355.1 L68.2,354 L68.2,353 L68.2,352Z" fill="#ff0000" stroke="#000" stroke-width="0.35" stroke-opacity="0.55"/>
<line x1="68.5" y1="300.2" x2="68.5" y2="340.6" stroke="#7a7a7a" stroke-width="0.75"/>
<line x1="68.5" y1="340.6" x2="68.5" y2="426.3" stroke="#000" stroke-width="0.9"/>
<rect x="67.8" y="402.6" width="1.3" height="23.7" fill="#000"/>
<circle cx="68.5" cy="415.2" r="1.25" fill="#fff"/>
<line x1="55.6" y1="300.2" x2="65.3" y2="300.2" stroke="#8a8a8a" stroke-width="1.1"/>
<text x="60.6" y="294.1" class="pv" textLength="17.2" lengthAdjust="spacingAndGlyphs">p&lt;0.001</text>
<path d="M101,361.3 L101.3,362.3 L101.6,363.4 L101.9,364.4 L102.1,365.4 L102.4,366.4 L102.6,367.5 L102.8,368.5 L103,369.5 L103.2,370.5 L103.3,371.6 L103.5,372.6 L103.7,373.6 L103.9,374.7 L104.1,375.7 L104.4,376.7 L104.6,377.7 L104.9,378.8 L105.2,379.8 L105.5,380.8 L105.7,381.9 L106,382.9 L106.2,383.9 L106.4,384.9 L106.6,386 L106.7,387 L106.7,388 L106.7,389 L106.6,390.1 L106.5,391.1 L106.3,392.1 L106.2,393.2 L106,394.2 L105.8,395.2 L105.6,396.2 L105.5,397.3 L105.3,398.3 L105.1,399.3 L104.9,400.3 L104.7,401.4 L104.5,402.4 L104.2,403.4 L104,404.5 L103.8,405.5 L103.6,406.5 L103.4,407.5 L103.2,408.6 L103,409.6 L102.8,410.6 L102.6,411.7 L102.4,412.7 L102.2,413.7 L102.1,414.7 L101.9,415.8 L101.7,416.8 L101.5,417.8 L101.3,418.8 L101.2,419.9 L101,420.9 L100,420.9 L99.8,419.9 L99.7,418.8 L99.5,417.8 L99.3,416.8 L99.1,415.8 L98.9,414.7 L98.8,413.7 L98.6,412.7 L98.4,411.7 L98.2,410.6 L98,409.6 L97.8,408.6 L97.6,407.5 L97.4,406.5 L97.2,405.5 L97,404.5 L96.8,403.4 L96.5,402.4 L96.3,401.4 L96.1,400.3 L95.9,399.3 L95.7,398.3 L95.5,397.3 L95.4,396.2 L95.2,395.2 L95,394.2 L94.8,393.2 L94.7,392.1 L94.5,391.1 L94.4,390.1 L94.3,389 L94.3,388 L94.3,387 L94.4,386 L94.6,384.9 L94.8,383.9 L95,382.9 L95.3,381.9 L95.5,380.8 L95.8,379.8 L96.1,378.8 L96.4,377.7 L96.6,376.7 L96.9,375.7 L97.1,374.7 L97.3,373.6 L97.5,372.6 L97.7,371.6 L97.8,370.5 L98,369.5 L98.2,368.5 L98.4,367.5 L98.6,366.4 L98.9,365.4 L99.1,364.4 L99.4,363.4 L99.7,362.3 L100,361.3Z" fill="#0000ff" stroke="#000" stroke-width="0.35" stroke-opacity="0.55"/>
<line x1="100.5" y1="361.3" x2="100.5" y2="421" stroke="#000" stroke-width="0.9"/>
<rect x="99.8" y="380" width="1.3" height="20.3" fill="#000"/>
<circle cx="100.5" cy="390.1" r="1.25" fill="#fff"/>
<path d="M116.7,378 L116.7,379 L116.8,380.1 L116.8,381.1 L116.9,382.1 L116.9,383.1 L117,384.2 L117.1,385.2 L117.1,386.2 L117.2,387.2 L117.2,388.3 L117.3,389.3 L117.3,390.3 L117.4,391.4 L117.5,392.4 L117.7,393.4 L117.9,394.4 L118.1,395.5 L118.4,396.5 L118.7,397.5 L119,398.6 L119.3,399.6 L119.6,400.6 L119.9,401.6 L120.3,402.7 L120.6,403.7 L120.9,404.7 L121.1,405.7 L121.4,406.8 L121.6,407.8 L121.8,408.8 L122,409.9 L122.2,410.9 L122.3,411.9 L122.3,412.9 L122.3,414 L122.3,415 L122.3,416 L122.3,417.1 L122.3,418.1 L122.3,419.1 L122.3,420.1 L122.3,421.2 L122.2,422.2 L122,423.2 L121.8,424.2 L121.6,425.3 L121.3,426.3 L111.5,426.3 L111.2,425.3 L111,424.2 L110.8,423.2 L110.6,422.2 L110.5,421.2 L110.5,420.1 L110.5,419.1 L110.5,418.1 L110.5,417.1 L110.5,416 L110.5,415 L110.5,414 L110.5,412.9 L110.5,411.9 L110.6,410.9 L110.8,409.9 L111,408.8 L111.2,407.8 L111.4,406.8 L111.7,405.7 L111.9,404.7 L112.2,403.7 L112.5,402.7 L112.9,401.6 L113.2,400.6 L113.5,399.6 L113.8,398.6 L114.1,397.5 L114.4,396.5 L114.7,395.5 L114.9,394.4 L115.1,393.4 L115.3,392.4 L115.4,391.4 L115.5,390.3 L115.5,389.3 L115.6,388.3 L115.6,387.2 L115.7,386.2 L115.7,385.2 L115.8,384.2 L115.9,383.1 L115.9,382.1 L116,381.1 L116,380.1 L116.1,379 L116.1,378Z" fill="#ff0000" stroke="#000" stroke-width="0.35" stroke-opacity="0.55"/>
<line x1="116.4" y1="266.8" x2="116.4" y2="353.5" stroke="#7a7a7a" stroke-width="0.75"/>
<line x1="116.4" y1="353.5" x2="116.4" y2="426.3" stroke="#000" stroke-width="0.9"/>
<rect x="115.8" y="406.3" width="1.3" height="16.4" fill="#000"/>
<circle cx="116.4" cy="414.5" r="1.25" fill="#fff"/>
<line x1="103.3" y1="266.8" x2="113.5" y2="266.8" stroke="#8a8a8a" stroke-width="1.1"/>
<text x="107.8" y="260.8" class="pv" textLength="17.2" lengthAdjust="spacingAndGlyphs">p&lt;0.001</text>
<path d="M149,395.6 L149.4,396.6 L149.8,397.7 L150.3,398.7 L150.8,399.8 L151.3,400.8 L151.8,401.8 L152.3,402.9 L152.8,403.9 L153.2,405 L153.7,406 L154.1,407.1 L154.5,408.1 L154.8,409.1 L155,410.2 L154.9,411.2 L154.4,412.3 L153.8,413.3 L153.2,414.3 L152.6,415.4 L151.9,416.4 L151.4,417.5 L150.9,418.5 L150.6,419.6 L150.2,420.6 L149.9,421.6 L149.6,422.7 L149.4,423.7 L149.1,424.8 L148.9,425.8 L148.3,425.8 L148.1,424.8 L147.8,423.7 L147.6,422.7 L147.3,421.6 L147,420.6 L146.6,419.6 L146.3,418.5 L145.8,417.5 L145.3,416.4 L144.6,415.4 L144,414.3 L143.4,413.3 L142.8,412.3 L142.3,411.2 L142.2,410.2 L142.4,409.1 L142.7,408.1 L143.1,407.1 L143.5,406 L144,405 L144.4,403.9 L144.9,402.9 L145.4,401.8 L145.9,400.8 L146.4,399.8 L146.9,398.7 L147.4,397.7 L147.8,396.6 L148.2,395.6Z" fill="#0000ff" stroke="#000" stroke-width="0.35" stroke-opacity="0.55"/>
<line x1="148.6" y1="395.6" x2="148.6" y2="426.3" stroke="#000" stroke-width="0.9"/>
<rect x="147.9" y="405.7" width="1.3" height="10.3" fill="#000"/>
<circle cx="148.6" cy="410.8" r="1.25" fill="#fff"/>
<path d="M164.9,407.6 L165.2,408.7 L165.5,409.8 L165.8,410.9 L166.1,412 L166.5,413.1 L166.9,414.2 L167.5,415.3 L168.2,416.4 L168.9,417.5 L169.7,418.6 L170.2,419.7 L170.7,420.8 L171,421.9 L171,423 L171.1,424.1 L171.1,425.2 L171.1,426.3 L158.1,426.3 L158.1,425.2 L158.1,424.1 L158.2,423 L158.2,421.9 L158.5,420.8 L159,419.7 L159.5,418.6 L160.3,417.5 L161,416.4 L161.7,415.3 L162.3,414.2 L162.7,413.1 L163.1,412 L163.4,410.9 L163.7,409.8 L164,408.7 L164.3,407.6Z" fill="#ff0000" stroke="#000" stroke-width="0.35" stroke-opacity="0.55"/>
<line x1="164.6" y1="387.4" x2="164.6" y2="403.2" stroke="#7a7a7a" stroke-width="0.75"/>
<line x1="164.6" y1="403.2" x2="164.6" y2="426.3" stroke="#000" stroke-width="0.9"/>
<rect x="163.9" y="418.9" width="1.3" height="6.4" fill="#000"/>
<circle cx="164.6" cy="422.1" r="1.25" fill="#fff"/>
<line x1="152" y1="387.4" x2="162" y2="387.4" stroke="#8a8a8a" stroke-width="1.1"/>
<text x="156.5" y="381.1" class="pv" textLength="17.2" lengthAdjust="spacingAndGlyphs">p&lt;0.001</text>
<path d="M197,354.3 L197.1,355.3 L197.3,356.3 L197.5,357.3 L197.6,358.4 L197.8,359.4 L198,360.4 L198.2,361.4 L198.4,362.4 L198.6,363.4 L198.8,364.4 L199,365.5 L199.2,366.5 L199.3,367.5 L199.5,368.5 L199.6,369.5 L199.8,370.5 L199.9,371.5 L200,372.6 L200.2,373.6 L200.3,374.6 L200.4,375.6 L200.5,376.6 L200.6,377.6 L200.7,378.6 L200.9,379.7 L201,380.7 L201.1,381.7 L201.2,382.7 L201.3,383.7 L201.4,384.7 L201.5,385.7 L201.6,386.8 L201.7,387.8 L201.8,388.8 L201.9,389.8 L202,390.8 L202.1,391.8 L202.2,392.8 L202.3,393.8 L202.5,394.9 L202.6,395.9 L202.7,396.9 L202.8,397.9 L202.8,398.9 L202.8,399.9 L202.7,400.9 L202.5,402 L202.4,403 L202.2,404 L202,405 L201.8,406 L201.6,407 L201.5,408 L201.3,409.1 L201.1,410.1 L200.9,411.1 L200.7,412.1 L200.5,413.1 L200.3,414.1 L200.1,415.1 L199.9,416.2 L199.7,417.2 L199.5,418.2 L199.3,419.2 L199.2,420.2 L199,421.2 L198.8,422.2 L198.7,423.3 L198.5,424.3 L198.4,425.3 L198.2,426.3 L195,426.3 L194.8,425.3 L194.7,424.3 L194.5,423.3 L194.4,422.2 L194.2,421.2 L194,420.2 L193.9,419.2 L193.7,418.2 L193.5,417.2 L193.3,416.2 L193.1,415.1 L192.9,414.1 L192.7,413.1 L192.5,412.1 L192.3,411.1 L192.1,410.1 L191.9,409.1 L191.7,408 L191.6,407 L191.4,406 L191.2,405 L191,404 L190.8,403 L190.7,402 L190.5,400.9 L190.4,399.9 L190.4,398.9 L190.4,397.9 L190.5,396.9 L190.6,395.9 L190.7,394.9 L190.9,393.8 L191,392.8 L191.1,391.8 L191.2,390.8 L191.3,389.8 L191.4,388.8 L191.5,387.8 L191.6,386.8 L191.7,385.7 L191.8,384.7 L191.9,383.7 L192,382.7 L192.1,381.7 L192.2,380.7 L192.3,379.7 L192.5,378.6 L192.6,377.6 L192.7,376.6 L192.8,375.6 L192.9,374.6 L193,373.6 L193.2,372.6 L193.3,371.5 L193.4,370.5 L193.6,369.5 L193.7,368.5 L193.9,367.5 L194,366.5 L194.2,365.5 L194.4,364.4 L194.6,363.4 L194.8,362.4 L195,361.4 L195.2,360.4 L195.4,359.4 L195.6,358.4 L195.7,357.3 L195.9,356.3 L196.1,355.3 L196.2,354.3Z" fill="#0000ff" stroke="#000" stroke-width="0.35" stroke-opacity="0.55"/>
<line x1="196.6" y1="347.8" x2="196.6" y2="426.3" stroke="#000" stroke-width="0.9"/>
<rect x="195.9" y="386.4" width="1.3" height="24.5" fill="#000"/>
<circle cx="196.6" cy="398.6" r="1.25" fill="#fff"/>
<path d="M212.8,366 L212.8,367 L212.9,368 L212.9,369.1 L213,370.1 L213,371.1 L213.1,372.1 L213.1,373.2 L213.2,374.2 L213.2,375.2 L213.3,376.2 L213.3,377.2 L213.4,378.3 L213.4,379.3 L213.5,380.3 L213.6,381.3 L213.6,382.4 L213.7,383.4 L213.8,384.4 L213.9,385.4 L214.1,386.4 L214.2,387.5 L214.3,388.5 L214.5,389.5 L214.7,390.5 L214.9,391.6 L215.1,392.6 L215.3,393.6 L215.5,394.6 L215.8,395.6 L216,396.7 L216.2,397.7 L216.4,398.7 L216.6,399.7 L216.7,400.7 L216.9,401.8 L217,402.8 L217.2,403.8 L217.3,404.8 L217.4,405.9 L217.6,406.9 L217.7,407.9 L217.9,408.9 L218,409.9 L218.2,411 L218.3,412 L218.4,413 L218.5,414 L218.6,415.1 L218.6,416.1 L218.6,417.1 L218.5,418.1 L218.5,419.1 L218.4,420.2 L218.3,421.2 L218.3,422.2 L218.2,423.2 L218.2,424.3 L218.1,425.3 L218.1,426.3 L206.9,426.3 L206.9,425.3 L206.8,424.3 L206.8,423.2 L206.7,422.2 L206.7,421.2 L206.6,420.2 L206.5,419.1 L206.5,418.1 L206.4,417.1 L206.4,416.1 L206.4,415.1 L206.5,414 L206.6,413 L206.7,412 L206.8,411 L207,409.9 L207.1,408.9 L207.3,407.9 L207.4,406.9 L207.6,405.9 L207.7,404.8 L207.8,403.8 L208,402.8 L208.1,401.8 L208.3,400.7 L208.4,399.7 L208.6,398.7 L208.8,397.7 L209,396.7 L209.2,395.6 L209.5,394.6 L209.7,393.6 L209.9,392.6 L210.1,391.6 L210.3,390.5 L210.5,389.5 L210.7,388.5 L210.8,387.5 L210.9,386.4 L211.1,385.4 L211.2,384.4 L211.3,383.4 L211.4,382.4 L211.4,381.3 L211.5,380.3 L211.6,379.3 L211.6,378.3 L211.7,377.2 L211.7,376.2 L211.8,375.2 L211.8,374.2 L211.9,373.2 L211.9,372.1 L212,371.1 L212,370.1 L212.1,369.1 L212.1,368 L212.2,367 L212.2,366Z" fill="#ff0000" stroke="#000" stroke-width="0.35" stroke-opacity="0.55"/>
<line x1="212.5" y1="257.3" x2="212.5" y2="342.1" stroke="#7a7a7a" stroke-width="0.75"/>
<line x1="212.5" y1="342.1" x2="212.5" y2="426.3" stroke="#000" stroke-width="0.9"/>
<rect x="211.8" y="405.4" width="1.3" height="20.5" fill="#000"/>
<circle cx="212.5" cy="415.7" r="1.25" fill="#fff"/>
<line x1="200" y1="257.3" x2="209.4" y2="257.3" stroke="#8a8a8a" stroke-width="1.1"/>
<text x="204.5" y="251.3" class="pv" textLength="17.2" lengthAdjust="spacingAndGlyphs">p&lt;0.001</text>
<path d="M244.9,352.9 L245.2,353.9 L245.4,355 L245.7,356 L246,357 L246.3,358 L246.6,359.1 L246.9,360.1 L247.2,361.1 L247.5,362.1 L247.8,363.2 L248,364.2 L248.2,365.2 L248.4,366.3 L248.6,367.3 L248.8,368.3 L249,369.3 L249.2,370.4 L249.4,371.4 L249.5,372.4 L249.7,373.4 L249.8,374.5 L250,375.5 L250.1,376.5 L250.3,377.6 L250.4,378.6 L250.5,379.6 L250.6,380.6 L250.7,381.7 L250.7,382.7 L250.7,383.7 L250.7,384.7 L250.7,385.8 L250.7,386.8 L250.6,387.8 L250.6,388.9 L250.6,389.9 L250.5,390.9 L250.4,391.9 L250.4,393 L250.2,394 L250,395 L249.6,396 L249.3,397.1 L248.9,398.1 L248.5,399.1 L248.2,400.2 L247.9,401.2 L247.6,402.2 L247.3,403.2 L247,404.3 L246.7,405.3 L246.3,406.3 L245.9,407.3 L245.4,408.4 L244.9,409.4 L244.1,409.4 L243.6,408.4 L243.1,407.3 L242.7,406.3 L242.3,405.3 L242,404.3 L241.7,403.2 L241.4,402.2 L241.1,401.2 L240.8,400.2 L240.5,399.1 L240.1,398.1 L239.7,397.1 L239.4,396 L239,395 L238.8,394 L238.6,393 L238.6,391.9 L238.5,390.9 L238.4,389.9 L238.4,388.9 L238.4,387.8 L238.3,386.8 L238.3,385.8 L238.3,384.7 L238.3,383.7 L238.3,382.7 L238.3,381.7 L238.4,380.6 L238.5,379.6 L238.6,378.6 L238.7,377.6 L238.9,376.5 L239,375.5 L239.2,374.5 L239.3,373.4 L239.5,372.4 L239.6,371.4 L239.8,370.4 L240,369.3 L240.2,368.3 L240.4,367.3 L240.6,366.3 L240.8,365.2 L241,364.2 L241.2,363.2 L241.5,362.1 L241.8,361.1 L242.1,360.1 L242.4,359.1 L242.7,358 L243,357 L243.3,356 L243.6,355 L243.8,353.9 L244.1,352.9Z" fill="#0000ff" stroke="#000" stroke-width="0.35" stroke-opacity="0.55"/>
<line x1="244.5" y1="343.3" x2="244.5" y2="419" stroke="#000" stroke-width="0.9"/>
<rect x="243.8" y="374.6" width="1.3" height="19.2" fill="#000"/>
<circle cx="244.5" cy="384.2" r="1.25" fill="#fff"/>
<path d="M261.2,343.3 L261.3,344.3 L261.4,345.3 L261.4,346.3 L261.5,347.4 L261.6,348.4 L261.7,349.4 L261.9,350.4 L262,351.4 L262.1,352.4 L262.3,353.4 L262.4,354.5 L262.6,355.5 L262.7,356.5 L262.9,357.5 L263,358.5 L263.2,359.5 L263.3,360.5 L263.5,361.6 L263.6,362.6 L263.8,363.6 L264,364.6 L264.1,365.6 L264.3,366.6 L264.4,367.6 L264.6,368.6 L264.7,369.7 L264.9,370.7 L265.1,371.7 L265.2,372.7 L265.4,373.7 L265.6,374.7 L265.8,375.7 L265.9,376.8 L266.1,377.8 L266.2,378.8 L266.3,379.8 L266.4,380.8 L266.5,381.8 L266.6,382.8 L266.7,383.9 L266.8,384.9 L266.9,385.9 L267,386.9 L267,387.9 L267.1,388.9 L267.1,389.9 L267.1,391 L267,392 L266.8,393 L266.7,394 L266.5,395 L266.2,396 L266,397 L265.8,398.1 L265.6,399.1 L265.3,400.1 L265,401.1 L264.7,402.1 L264.4,403.1 L264.1,404.1 L263.8,405.1 L263.5,406.2 L263.2,407.2 L263,408.2 L262.7,409.2 L262.5,410.2 L262.3,411.2 L262.1,412.2 L261.9,413.3 L261.7,414.3 L261.5,415.3 L261.3,416.3 L260.5,416.3 L260.3,415.3 L260.1,414.3 L259.9,413.3 L259.7,412.2 L259.5,411.2 L259.3,410.2 L259.1,409.2 L258.8,408.2 L258.6,407.2 L258.3,406.2 L258,405.1 L257.7,404.1 L257.4,403.1 L257.1,402.1 L256.8,401.1 L256.5,400.1 L256.2,399.1 L256,398.1 L255.8,397 L255.6,396 L255.3,395 L255.1,394 L255,393 L254.8,392 L254.7,391 L254.7,389.9 L254.7,388.9 L254.8,387.9 L254.8,386.9 L254.9,385.9 L255,384.9 L255.1,383.9 L255.2,382.8 L255.3,381.8 L255.4,380.8 L255.5,379.8 L255.6,378.8 L255.7,377.8 L255.9,376.8 L256,375.7 L256.2,374.7 L256.4,373.7 L256.6,372.7 L256.7,371.7 L256.9,370.7 L257.1,369.7 L257.2,368.6 L257.4,367.6 L257.5,366.6 L257.7,365.6 L257.8,364.6 L258,363.6 L258.2,362.6 L258.3,361.6 L258.5,360.5 L258.6,359.5 L258.8,358.5 L258.9,357.5 L259.1,356.5 L259.2,355.5 L259.4,354.5 L259.5,353.4 L259.7,352.4 L259.8,351.4 L259.9,350.4 L260.1,349.4 L260.2,348.4 L260.3,347.4 L260.4,346.3 L260.4,345.3 L260.5,344.3 L260.6,343.3Z" fill="#ff0000" stroke="#000" stroke-width="0.35" stroke-opacity="0.55"/>
<line x1="260.9" y1="337.9" x2="260.9" y2="426.3" stroke="#000" stroke-width="0.9"/>
<rect x="260.2" y="375.5" width="1.3" height="24.8" fill="#000"/>
<circle cx="260.9" cy="387.9" r="1.25" fill="#fff"/>
<line x1="248.6" y1="337.6" x2="257.7" y2="337.6" stroke="#8a8a8a" stroke-width="1.1"/>
<text x="252.2" y="331.5" class="pv" textLength="17.2" lengthAdjust="spacingAndGlyphs">p=0.055</text>
<path d="M293.3,412.5 L293.6,413.6 L294,414.8 L294.4,415.9 L294.9,417.1 L295.4,418.2 L296,419.4 L296.6,420.6 L297.3,421.7 L298,422.9 L298.5,424 L298.9,425.2 L299.2,426.3 L286.6,426.3 L286.9,425.2 L287.3,424 L287.8,422.9 L288.5,421.7 L289.2,420.6 L289.8,419.4 L290.4,418.2 L290.9,417.1 L291.4,415.9 L291.8,414.8 L292.2,413.6 L292.5,412.5Z" fill="#0000ff" stroke="#000" stroke-width="0.35" stroke-opacity="0.55"/>
<line x1="292.9" y1="404.7" x2="292.9" y2="426.3" stroke="#000" stroke-width="0.9"/>
<rect x="292.2" y="421.2" width="1.3" height="4.7" fill="#000"/>
<circle cx="292.9" cy="423.5" r="1.25" fill="#fff"/>
<path d="M308.8,409.8 L309.4,410.9 L310,412 L310.6,413.1 L311.3,414.2 L312,415.3 L312.6,416.4 L312.9,417.5 L313.1,418.6 L313.4,419.7 L313.7,420.8 L314,421.9 L314.3,423 L314.4,424.1 L314.5,425.2 L314.5,426.3 L302.3,426.3 L302.3,425.2 L302.4,424.1 L302.5,423 L302.8,421.9 L303.1,420.8 L303.4,419.7 L303.7,418.6 L303.9,417.5 L304.2,416.4 L304.8,415.3 L305.5,414.2 L306.2,413.1 L306.8,412 L307.4,410.9 L308,409.8Z" fill="#ff0000" stroke="#000" stroke-width="0.35" stroke-opacity="0.55"/>
<line x1="308.4" y1="400.7" x2="308.4" y2="426.3" stroke="#000" stroke-width="0.9"/>
<rect x="307.8" y="418.6" width="1.3" height="5.6" fill="#000"/>
<circle cx="308.4" cy="421.4" r="1.25" fill="#fff"/>
<line x1="296.1" y1="400.2" x2="305.7" y2="400.2" stroke="#8a8a8a" stroke-width="1.1"/>
<text x="300.1" y="395.1" class="pv" textLength="17.2" lengthAdjust="spacingAndGlyphs">p&lt;0.001</text>
<path d="M341.2,376.7 L341.2,377.7 L341.2,378.8 L341.3,379.8 L341.3,380.8 L341.4,381.9 L341.5,382.9 L341.6,383.9 L341.8,385 L342.1,386 L342.6,387 L343.1,388.1 L343.6,389.1 L344.1,390.1 L344.6,391.2 L344.9,392.2 L345.2,393.2 L345.5,394.3 L345.8,395.3 L346.1,396.3 L346.4,397.4 L346.6,398.4 L346.7,399.4 L346.9,400.5 L346.9,401.5 L346.9,402.5 L346.7,403.6 L346.6,404.6 L346.3,405.6 L346.1,406.7 L345.8,407.7 L345.5,408.7 L345.2,409.8 L344.9,410.8 L344.6,411.8 L344.3,412.9 L343.9,413.9 L343.5,414.9 L343.1,416 L342.8,417 L342.4,418 L342.1,419.1 L341.9,420.1 L341.7,421.1 L341.6,422.2 L341.4,423.2 L341.3,424.2 L341.2,425.3 L341.2,426.3 L340.4,426.3 L340.4,425.3 L340.3,424.2 L340.2,423.2 L340,422.2 L339.9,421.1 L339.7,420.1 L339.5,419.1 L339.2,418 L338.8,417 L338.5,416 L338.1,414.9 L337.7,413.9 L337.3,412.9 L337,411.8 L336.7,410.8 L336.4,409.8 L336.1,408.7 L335.8,407.7 L335.5,406.7 L335.3,405.6 L335,404.6 L334.9,403.6 L334.7,402.5 L334.7,401.5 L334.7,400.5 L334.9,399.4 L335,398.4 L335.2,397.4 L335.5,396.3 L335.8,395.3 L336.1,394.3 L336.4,393.2 L336.7,392.2 L337,391.2 L337.5,390.1 L338,389.1 L338.5,388.1 L339,387 L339.5,386 L339.8,385 L340,383.9 L340.1,382.9 L340.2,381.9 L340.3,380.8 L340.3,379.8 L340.4,378.8 L340.4,377.7 L340.4,376.7Z" fill="#0000ff" stroke="#000" stroke-width="0.35" stroke-opacity="0.55"/>
<line x1="340.8" y1="376.7" x2="340.8" y2="426.3" stroke="#000" stroke-width="0.9"/>
<rect x="340.2" y="394.3" width="1.3" height="16.9" fill="#000"/>
<circle cx="340.8" cy="402.7" r="1.25" fill="#fff"/>
<path d="M357.4,370.8 L357.5,371.8 L357.6,372.9 L357.8,373.9 L357.9,374.9 L358.1,375.9 L358.3,377 L358.5,378 L358.8,379 L359,380.1 L359.2,381.1 L359.5,382.1 L359.7,383.1 L359.9,384.2 L360.2,385.2 L360.4,386.2 L360.6,387.2 L360.8,388.3 L361,389.3 L361.2,390.3 L361.4,391.4 L361.6,392.4 L361.8,393.4 L362,394.4 L362.2,395.5 L362.4,396.5 L362.6,397.5 L362.7,398.6 L362.9,399.6 L363,400.6 L363,401.6 L363.1,402.7 L363.2,403.7 L363.3,404.7 L363.3,405.7 L363.3,406.8 L363.3,407.8 L363.2,408.8 L363.1,409.9 L362.9,410.9 L362.8,411.9 L362.6,412.9 L362.4,414 L362.2,415 L361.9,416 L361.6,417.1 L361.3,418.1 L360.9,419.1 L360.4,420.1 L360,421.2 L359.5,422.2 L359.1,423.2 L358.7,424.2 L358.2,425.3 L357.7,426.3 L356.5,426.3 L356,425.3 L355.5,424.2 L355.1,423.2 L354.7,422.2 L354.2,421.2 L353.8,420.1 L353.3,419.1 L352.9,418.1 L352.6,417.1 L352.3,416 L352,415 L351.8,414 L351.6,412.9 L351.4,411.9 L351.3,410.9 L351.1,409.9 L351,408.8 L350.9,407.8 L350.9,406.8 L350.9,405.7 L350.9,404.7 L351,403.7 L351.1,402.7 L351.2,401.6 L351.2,400.6 L351.3,399.6 L351.5,398.6 L351.6,397.5 L351.8,396.5 L352,395.5 L352.2,394.4 L352.4,393.4 L352.6,392.4 L352.8,391.4 L353,390.3 L353.2,389.3 L353.4,388.3 L353.6,387.2 L353.8,386.2 L354,385.2 L354.3,384.2 L354.5,383.1 L354.7,382.1 L355,381.1 L355.2,380.1 L355.4,379 L355.7,378 L355.9,377 L356.1,375.9 L356.3,374.9 L356.4,373.9 L356.6,372.9 L356.7,371.8 L356.8,370.8Z" fill="#ff0000" stroke="#000" stroke-width="0.35" stroke-opacity="0.55"/>
<line x1="357.1" y1="343.2" x2="357.1" y2="364.7" stroke="#7a7a7a" stroke-width="0.75"/>
<line x1="357.1" y1="364.7" x2="357.1" y2="426.3" stroke="#000" stroke-width="0.9"/>
<rect x="356.5" y="395.7" width="1.3" height="18.9" fill="#000"/>
<circle cx="357.1" cy="405.1" r="1.25" fill="#fff"/>
<line x1="344.3" y1="343.2" x2="353.9" y2="343.2" stroke="#8a8a8a" stroke-width="1.1"/>
<text x="348.8" y="337.1" class="pv" textLength="17.2" lengthAdjust="spacingAndGlyphs">p=0.058</text>
<path d="M389.3,392.9 L389.4,393.9 L389.6,395 L389.8,396 L390,397.1 L390.3,398.1 L390.6,399.2 L391,400.2 L391.3,401.2 L391.7,402.3 L392.1,403.3 L392.4,404.4 L392.8,405.4 L393.2,406.5 L393.5,407.5 L393.8,408.6 L394,409.6 L394.3,410.6 L394.6,411.7 L394.8,412.7 L394.9,413.8 L395,414.8 L395,415.9 L394.8,416.9 L394.6,417.9 L394.4,419 L394.1,420 L393.8,421.1 L393.5,422.1 L393.1,423.2 L392.7,424.2 L392.2,425.3 L391.6,426.3 L386.4,426.3 L385.8,425.3 L385.3,424.2 L384.9,423.2 L384.5,422.1 L384.2,421.1 L383.9,420 L383.6,419 L383.4,417.9 L383.2,416.9 L383,415.9 L383,414.8 L383.1,413.8 L383.2,412.7 L383.4,411.7 L383.7,410.6 L384,409.6 L384.2,408.6 L384.5,407.5 L384.8,406.5 L385.2,405.4 L385.6,404.4 L385.9,403.3 L386.3,402.3 L386.7,401.2 L387,400.2 L387.4,399.2 L387.7,398.1 L388,397.1 L388.2,396 L388.4,395 L388.6,393.9 L388.7,392.9Z" fill="#0000ff" stroke="#000" stroke-width="0.35" stroke-opacity="0.55"/>
<line x1="389" y1="389" x2="389" y2="426.3" stroke="#000" stroke-width="0.9"/>
<rect x="388.4" y="408.1" width="1.3" height="11.4" fill="#000"/>
<circle cx="389" cy="413.8" r="1.25" fill="#fff"/>
<path d="M405.4,372.2 L405.5,373.2 L405.5,374.2 L405.6,375.3 L405.7,376.3 L405.8,377.3 L405.9,378.3 L406,379.3 L406.1,380.4 L406.3,381.4 L406.4,382.4 L406.6,383.4 L406.8,384.4 L407,385.5 L407.2,386.5 L407.4,387.5 L407.7,388.5 L408,389.6 L408.3,390.6 L408.5,391.6 L408.8,392.6 L409.1,393.6 L409.3,394.7 L409.5,395.7 L409.8,396.7 L410,397.7 L410.2,398.7 L410.4,399.8 L410.6,400.8 L410.8,401.8 L410.9,402.8 L411,403.8 L411.1,404.9 L411.1,405.9 L411.2,406.9 L411.2,407.9 L411.2,408.9 L411.3,410 L411.3,411 L411.3,412 L411.3,413 L411.2,414.1 L411.2,415.1 L411.1,416.1 L411,417.1 L410.9,418.1 L410.8,419.2 L410.6,420.2 L410.5,421.2 L410.3,422.2 L410.1,423.2 L409.9,424.3 L409.7,425.3 L409.4,426.3 L400.8,426.3 L400.5,425.3 L400.3,424.3 L400.1,423.2 L399.9,422.2 L399.7,421.2 L399.6,420.2 L399.4,419.2 L399.3,418.1 L399.2,417.1 L399.1,416.1 L399,415.1 L399,414.1 L398.9,413 L398.9,412 L398.9,411 L398.9,410 L399,408.9 L399,407.9 L399,406.9 L399.1,405.9 L399.1,404.9 L399.2,403.8 L399.3,402.8 L399.4,401.8 L399.6,400.8 L399.8,399.8 L400,398.7 L400.2,397.7 L400.4,396.7 L400.7,395.7 L400.9,394.7 L401.1,393.6 L401.4,392.6 L401.7,391.6 L401.9,390.6 L402.2,389.6 L402.5,388.5 L402.8,387.5 L403,386.5 L403.2,385.5 L403.4,384.4 L403.6,383.4 L403.8,382.4 L403.9,381.4 L404.1,380.4 L404.2,379.3 L404.3,378.3 L404.4,377.3 L404.5,376.3 L404.6,375.3 L404.7,374.2 L404.7,373.2 L404.8,372.2Z" fill="#ff0000" stroke="#000" stroke-width="0.35" stroke-opacity="0.55"/>
<line x1="405.1" y1="314.2" x2="405.1" y2="359.4" stroke="#7a7a7a" stroke-width="0.75"/>
<line x1="405.1" y1="359.4" x2="405.1" y2="426.3" stroke="#000" stroke-width="0.9"/>
<rect x="404.5" y="399.1" width="1.3" height="18.4" fill="#000"/>
<circle cx="405.1" cy="408.3" r="1.25" fill="#fff"/>
<line x1="392.2" y1="314.2" x2="402.1" y2="314.2" stroke="#8a8a8a" stroke-width="1.1"/>
<text x="396.7" y="307.9" class="pv" textLength="17.2" lengthAdjust="spacingAndGlyphs">p&lt;0.001</text>
<path d="M437.5,361.2 L437.7,362.2 L437.9,363.3 L438.1,364.3 L438.3,365.3 L438.5,366.4 L438.7,367.4 L438.9,368.4 L439.1,369.5 L439.3,370.5 L439.6,371.5 L439.8,372.6 L440.1,373.6 L440.3,374.6 L440.6,375.6 L440.9,376.7 L441.1,377.7 L441.3,378.7 L441.6,379.8 L441.8,380.8 L442,381.8 L442.2,382.9 L442.4,383.9 L442.6,384.9 L442.7,386 L442.9,387 L443,388 L443.1,389.1 L443.1,390.1 L443.1,391.1 L443.1,392.2 L443.1,393.2 L443.1,394.2 L443.1,395.3 L443.1,396.3 L443,397.3 L442.8,398.4 L442.6,399.4 L442.3,400.4 L442,401.5 L441.7,402.5 L441.5,403.5 L441.3,404.6 L441,405.6 L440.8,406.6 L440.5,407.6 L440.3,408.7 L440,409.7 L439.7,410.7 L439.5,411.8 L439.2,412.8 L438.9,413.8 L438.7,414.9 L438.4,415.9 L438.1,416.9 L437.8,418 L437.5,419 L436.7,419 L436.4,418 L436.1,416.9 L435.8,415.9 L435.5,414.9 L435.3,413.8 L435,412.8 L434.7,411.8 L434.5,410.7 L434.2,409.7 L433.9,408.7 L433.7,407.6 L433.4,406.6 L433.2,405.6 L432.9,404.6 L432.7,403.5 L432.5,402.5 L432.2,401.5 L431.9,400.4 L431.6,399.4 L431.4,398.4 L431.2,397.3 L431.1,396.3 L431.1,395.3 L431.1,394.2 L431.1,393.2 L431.1,392.2 L431.1,391.1 L431.1,390.1 L431.1,389.1 L431.2,388 L431.3,387 L431.5,386 L431.6,384.9 L431.8,383.9 L432,382.9 L432.2,381.8 L432.4,380.8 L432.6,379.8 L432.9,378.7 L433.1,377.7 L433.3,376.7 L433.6,375.6 L433.9,374.6 L434.1,373.6 L434.4,372.6 L434.6,371.5 L434.9,370.5 L435.1,369.5 L435.3,368.4 L435.5,367.4 L435.7,366.4 L435.9,365.3 L436.1,364.3 L436.3,363.3 L436.5,362.2 L436.7,361.2Z" fill="#0000ff" stroke="#000" stroke-width="0.35" stroke-opacity="0.55"/>
<line x1="437.1" y1="350.4" x2="437.1" y2="423.2" stroke="#000" stroke-width="0.9"/>
<rect x="436.5" y="382.9" width="1.3" height="19.7" fill="#000"/>
<circle cx="437.1" cy="392.7" r="1.25" fill="#fff"/>
<path d="M453.5,352.9 L453.6,353.9 L453.8,354.9 L453.9,356 L454.1,357 L454.3,358 L454.5,359 L454.7,360 L454.8,361.1 L455,362.1 L455.2,363.1 L455.4,364.1 L455.5,365.1 L455.7,366.2 L455.8,367.2 L456,368.2 L456.2,369.2 L456.3,370.2 L456.5,371.2 L456.6,372.3 L456.8,373.3 L456.9,374.3 L457.1,375.3 L457.2,376.3 L457.4,377.4 L457.5,378.4 L457.7,379.4 L457.9,380.4 L458,381.4 L458.2,382.5 L458.3,383.5 L458.5,384.5 L458.6,385.5 L458.7,386.5 L458.8,387.6 L458.9,388.6 L459,389.6 L459.1,390.6 L459.2,391.6 L459.3,392.7 L459.4,393.7 L459.4,394.7 L459.4,395.7 L459.4,396.7 L459.3,397.8 L459.1,398.8 L458.9,399.8 L458.7,400.8 L458.5,401.8 L458.3,402.9 L458.1,403.9 L457.9,404.9 L457.6,405.9 L457.4,406.9 L457.1,407.9 L456.8,409 L456.5,410 L456.2,411 L456,412 L455.7,413 L455.5,414.1 L455.2,415.1 L455,416.1 L454.8,417.1 L454.6,418.1 L454.4,419.2 L454.2,420.2 L454,421.2 L453.8,422.2 L453.7,423.2 L453.6,424.3 L453.5,425.3 L453.4,426.3 L452.8,426.3 L452.7,425.3 L452.6,424.3 L452.5,423.2 L452.4,422.2 L452.2,421.2 L452,420.2 L451.8,419.2 L451.6,418.1 L451.4,417.1 L451.2,416.1 L451,415.1 L450.7,414.1 L450.5,413 L450.2,412 L450,411 L449.7,410 L449.4,409 L449.1,407.9 L448.8,406.9 L448.6,405.9 L448.3,404.9 L448.1,403.9 L447.9,402.9 L447.7,401.8 L447.5,400.8 L447.3,399.8 L447.1,398.8 L446.9,397.8 L446.8,396.7 L446.8,395.7 L446.8,394.7 L446.8,393.7 L446.9,392.7 L447,391.6 L447.1,390.6 L447.2,389.6 L447.3,388.6 L447.4,387.6 L447.5,386.5 L447.6,385.5 L447.7,384.5 L447.9,383.5 L448,382.5 L448.2,381.4 L448.3,380.4 L448.5,379.4 L448.7,378.4 L448.8,377.4 L449,376.3 L449.1,375.3 L449.3,374.3 L449.4,373.3 L449.6,372.3 L449.7,371.2 L449.9,370.2 L450,369.2 L450.2,368.2 L450.4,367.2 L450.5,366.2 L450.7,365.1 L450.8,364.1 L451,363.1 L451.2,362.1 L451.4,361.1 L451.5,360 L451.7,359 L451.9,358 L452.1,357 L452.3,356 L452.4,354.9 L452.6,353.9 L452.7,352.9Z" fill="#ff0000" stroke="#000" stroke-width="0.35" stroke-opacity="0.55"/>
<line x1="453.1" y1="303.3" x2="453.1" y2="342" stroke="#7a7a7a" stroke-width="0.75"/>
<line x1="453.1" y1="342" x2="453.1" y2="426.3" stroke="#000" stroke-width="0.9"/>
<rect x="452.5" y="382.3" width="1.3" height="25" fill="#000"/>
<circle cx="453.1" cy="394.8" r="1.25" fill="#fff"/>
<line x1="440.4" y1="303.3" x2="450" y2="303.3" stroke="#8a8a8a" stroke-width="1.1"/>
<text x="444.8" y="297.3" class="pv" textLength="17.2" lengthAdjust="spacingAndGlyphs">p=0.117</text>
<path d="M485.4,384.4 L485.6,385.4 L485.8,386.5 L486.1,387.5 L486.4,388.6 L486.7,389.6 L487.1,390.7 L487.4,391.7 L487.7,392.8 L488,393.8 L488.2,394.9 L488.5,395.9 L488.7,397 L489,398 L489.2,399.1 L489.5,400.1 L489.7,401.2 L490,402.2 L490.2,403.3 L490.4,404.3 L490.6,405.4 L490.7,406.4 L490.8,407.4 L490.9,408.5 L490.9,409.5 L491,410.6 L491,411.6 L490.9,412.7 L490.8,413.7 L490.6,414.8 L490.4,415.8 L490.3,416.9 L490.2,417.9 L490.2,419 L490.4,420 L490.6,421.1 L490.7,422.1 L490.7,423.2 L490.7,424.2 L490.7,425.3 L490.7,426.3 L479.3,426.3 L479.3,425.3 L479.3,424.2 L479.3,423.2 L479.3,422.1 L479.4,421.1 L479.6,420 L479.8,419 L479.8,417.9 L479.7,416.9 L479.6,415.8 L479.4,414.8 L479.2,413.7 L479.1,412.7 L479,411.6 L479,410.6 L479.1,409.5 L479.1,408.5 L479.2,407.4 L479.3,406.4 L479.4,405.4 L479.6,404.3 L479.8,403.3 L480,402.2 L480.3,401.2 L480.5,400.1 L480.8,399.1 L481,398 L481.3,397 L481.5,395.9 L481.8,394.9 L482,393.8 L482.3,392.8 L482.6,391.7 L482.9,390.7 L483.3,389.6 L483.6,388.6 L483.9,387.5 L484.2,386.5 L484.4,385.4 L484.6,384.4Z" fill="#0000ff" stroke="#000" stroke-width="0.35" stroke-opacity="0.55"/>
<line x1="485" y1="368.7" x2="485" y2="380.9" stroke="#7a7a7a" stroke-width="0.75"/>
<line x1="485" y1="380.9" x2="485" y2="426.3" stroke="#000" stroke-width="0.9"/>
<rect x="484.4" y="404.8" width="1.3" height="14.2" fill="#000"/>
<circle cx="485" cy="411.9" r="1.25" fill="#fff"/>
<path d="M501.6,387.7 L501.8,388.7 L502.1,389.8 L502.3,390.8 L502.7,391.9 L503.2,392.9 L503.6,394 L504,395 L504.3,396 L504.6,397.1 L504.9,398.1 L505.2,399.2 L505.5,400.2 L505.7,401.3 L505.9,402.3 L506.1,403.3 L506.3,404.4 L506.5,405.4 L506.7,406.5 L506.8,407.5 L506.9,408.6 L506.9,409.6 L506.8,410.7 L506.7,411.7 L506.5,412.7 L506.3,413.8 L506.1,414.8 L505.8,415.9 L505.6,416.9 L505.2,418 L504.8,419 L504.4,420 L504,421.1 L503.5,422.1 L503.1,423.2 L502.7,424.2 L502.3,425.3 L501.8,426.3 L500.6,426.3 L500.1,425.3 L499.7,424.2 L499.3,423.2 L498.9,422.1 L498.4,421.1 L498,420 L497.6,419 L497.2,418 L496.8,416.9 L496.6,415.9 L496.3,414.8 L496.1,413.8 L495.9,412.7 L495.7,411.7 L495.6,410.7 L495.5,409.6 L495.5,408.6 L495.6,407.5 L495.7,406.5 L495.9,405.4 L496.1,404.4 L496.3,403.3 L496.5,402.3 L496.7,401.3 L496.9,400.2 L497.2,399.2 L497.5,398.1 L497.8,397.1 L498.1,396 L498.4,395 L498.8,394 L499.2,392.9 L499.7,391.9 L500.1,390.8 L500.3,389.8 L500.6,388.7 L500.8,387.7Z" fill="#ff0000" stroke="#000" stroke-width="0.35" stroke-opacity="0.55"/>
<line x1="501.2" y1="368.7" x2="501.2" y2="383.5" stroke="#7a7a7a" stroke-width="0.75"/>
<line x1="501.2" y1="383.5" x2="501.2" y2="426.3" stroke="#000" stroke-width="0.9"/>
<rect x="500.6" y="403.2" width="1.3" height="13.1" fill="#000"/>
<circle cx="501.2" cy="409.8" r="1.25" fill="#fff"/>
<line x1="488.4" y1="368.2" x2="498.3" y2="368.2" stroke="#8a8a8a" stroke-width="1.1"/>
<text x="492.7" y="362.2" class="pv" textLength="17.2" lengthAdjust="spacingAndGlyphs">p&lt;0.001</text>
<path d="M533.4,367.4 L533.6,368.4 L533.8,369.5 L534,370.5 L534.2,371.5 L534.5,372.6 L534.8,373.6 L535.1,374.6 L535.3,375.7 L535.6,376.7 L535.9,377.7 L536.1,378.8 L536.4,379.8 L536.7,380.8 L536.9,381.9 L537.2,382.9 L537.4,383.9 L537.6,385 L537.9,386 L538.1,387 L538.4,388.1 L538.7,389.1 L538.9,390.1 L539.1,391.2 L539.3,392.2 L539.4,393.2 L539.4,394.3 L539.4,395.3 L539.3,396.3 L539.2,397.4 L539.1,398.4 L539,399.4 L538.9,400.5 L538.7,401.5 L538.6,402.5 L538.5,403.6 L538.4,404.6 L538.2,405.6 L538.1,406.7 L538,407.7 L537.8,408.7 L537.7,409.8 L537.5,410.8 L537.4,411.8 L537.2,412.9 L537,413.9 L536.9,414.9 L536.7,416 L536.5,417 L536.4,418 L536.2,419.1 L536,420.1 L535.8,421.1 L535.7,422.2 L535.5,423.2 L535.3,424.2 L535.2,425.3 L535,426.3 L531,426.3 L530.8,425.3 L530.7,424.2 L530.5,423.2 L530.3,422.2 L530.2,421.1 L530,420.1 L529.8,419.1 L529.6,418 L529.5,417 L529.3,416 L529.1,414.9 L529,413.9 L528.8,412.9 L528.6,411.8 L528.5,410.8 L528.3,409.8 L528.2,408.7 L528,407.7 L527.9,406.7 L527.8,405.6 L527.6,404.6 L527.5,403.6 L527.4,402.5 L527.3,401.5 L527.1,400.5 L527,399.4 L526.9,398.4 L526.8,397.4 L526.7,396.3 L526.6,395.3 L526.6,394.3 L526.6,393.2 L526.7,392.2 L526.9,391.2 L527.1,390.1 L527.3,389.1 L527.6,388.1 L527.9,387 L528.1,386 L528.4,385 L528.6,383.9 L528.8,382.9 L529.1,381.9 L529.3,380.8 L529.6,379.8 L529.9,378.8 L530.1,377.7 L530.4,376.7 L530.7,375.7 L530.9,374.6 L531.2,373.6 L531.5,372.6 L531.8,371.5 L532,370.5 L532.2,369.5 L532.4,368.4 L532.6,367.4Z" fill="#0000ff" stroke="#000" stroke-width="0.35" stroke-opacity="0.55"/>
<line x1="533" y1="360.3" x2="533" y2="426.3" stroke="#000" stroke-width="0.9"/>
<rect x="532.4" y="389.4" width="1.3" height="20" fill="#000"/>
<circle cx="533" cy="399.4" r="1.25" fill="#fff"/>
<path d="M549.4,375.5 L549.6,376.5 L549.7,377.6 L549.9,378.6 L550,379.6 L550.2,380.7 L550.4,381.7 L550.6,382.8 L550.7,383.8 L550.9,384.8 L551.1,385.9 L551.2,386.9 L551.4,387.9 L551.5,389 L551.7,390 L551.9,391.1 L552,392.1 L552.2,393.1 L552.3,394.2 L552.5,395.2 L552.6,396.2 L552.7,397.3 L552.9,398.3 L553,399.3 L553.2,400.4 L553.3,401.4 L553.4,402.5 L553.6,403.5 L553.7,404.5 L553.9,405.6 L554,406.6 L554.2,407.6 L554.3,408.7 L554.4,409.7 L554.5,410.7 L554.7,411.8 L554.8,412.8 L554.9,413.9 L555,414.9 L555.1,415.9 L555.1,417 L555.1,418 L555,419 L554.9,420.1 L554.8,421.1 L554.7,422.2 L554.6,423.2 L554.5,424.2 L554.4,425.3 L554.4,426.3 L543.6,426.3 L543.6,425.3 L543.5,424.2 L543.4,423.2 L543.3,422.2 L543.2,421.1 L543.1,420.1 L543,419 L542.9,418 L542.9,417 L542.9,415.9 L543,414.9 L543.1,413.9 L543.2,412.8 L543.3,411.8 L543.5,410.7 L543.6,409.7 L543.7,408.7 L543.8,407.6 L544,406.6 L544.1,405.6 L544.3,404.5 L544.4,403.5 L544.6,402.5 L544.7,401.4 L544.8,400.4 L545,399.3 L545.1,398.3 L545.3,397.3 L545.4,396.2 L545.5,395.2 L545.7,394.2 L545.8,393.1 L546,392.1 L546.1,391.1 L546.3,390 L546.5,389 L546.6,387.9 L546.8,386.9 L546.9,385.9 L547.1,384.8 L547.3,383.8 L547.4,382.8 L547.6,381.7 L547.8,380.7 L548,379.6 L548.1,378.6 L548.3,377.6 L548.4,376.5 L548.6,375.5Z" fill="#ff0000" stroke="#000" stroke-width="0.35" stroke-opacity="0.55"/>
<line x1="549" y1="365.2" x2="549" y2="426.3" stroke="#000" stroke-width="0.9"/>
<rect x="548.4" y="402.1" width="1.3" height="17.3" fill="#000"/>
<circle cx="549" cy="410.7" r="1.25" fill="#fff"/>
<line x1="536.6" y1="360.3" x2="546.2" y2="360.3" stroke="#8a8a8a" stroke-width="1.1"/>
<text x="540.6" y="354.3" class="pv" textLength="17.2" lengthAdjust="spacingAndGlyphs">p&lt;0.001</text>
<path d="M581.6,418.3 L582.4,419.4 L584,420.6 L586.6,421.7 L585.7,422.9 L584.8,424 L586.1,425.2 L587.1,426.3 L574.9,426.3 L575.9,425.2 L577.2,424 L576.3,422.9 L575.4,421.7 L578,420.6 L579.6,419.4 L580.4,418.3Z" fill="#0000ff" stroke="#000" stroke-width="0.35" stroke-opacity="0.55"/>
<line x1="581" y1="418" x2="581" y2="426.3" stroke="#000" stroke-width="0.9"/>
<rect x="580.4" y="422.1" width="1.3" height="2.7" fill="#000"/>
<circle cx="581" cy="423.5" r="1.25" fill="#fff"/>
<path d="M598.1,417.6 L600.4,418.8 L601.9,420.1 L603.2,421.3 L603.1,422.6 L602,423.8 L600.6,425.1 L598.8,426.3 L595.8,426.3 L594,425.1 L592.6,423.8 L591.5,422.6 L591.4,421.3 L592.7,420.1 L594.2,418.8 L596.5,417.6Z" fill="#ff0000" stroke="#000" stroke-width="0.35" stroke-opacity="0.55"/>
<line x1="597.3" y1="408.7" x2="597.3" y2="426.3" stroke="#000" stroke-width="0.9"/>
<rect x="596.6" y="420.7" width="1.3" height="3" fill="#000"/>
<circle cx="597.3" cy="422.2" r="1.25" fill="#fff"/>
<line x1="584" y1="408.7" x2="593.6" y2="408.7" stroke="#8a8a8a" stroke-width="1.1"/>
<text x="588.5" y="402.6" class="pv" textLength="17.2" lengthAdjust="spacingAndGlyphs">p&lt;0.001</text>
<path d="M629.8,379.3 L629.8,380.3 L629.8,381.3 L629.8,382.4 L629.9,383.4 L629.9,384.4 L629.9,385.4 L629.9,386.5 L630,387.5 L630,388.5 L630,389.5 L630.1,390.5 L630.1,391.6 L630.1,392.6 L630.2,393.6 L630.2,394.6 L630.3,395.6 L630.3,396.7 L630.4,397.7 L630.4,398.7 L630.5,399.7 L630.6,400.8 L630.7,401.8 L630.9,402.8 L631,403.8 L631.2,404.8 L631.3,405.9 L631.5,406.9 L631.7,407.9 L631.9,408.9 L632.1,410 L632.4,411 L632.6,412 L632.9,413 L633.1,414 L633.4,415.1 L633.7,416.1 L634,417.1 L634.3,418.1 L634.6,419.1 L634.9,420.2 L635.3,421.2 L635.5,422.2 L635.6,423.2 L635.6,424.3 L635.6,425.3 L635.6,426.3 L629.5,425.1 L623.4,426.3 L623.4,425.3 L623.4,424.3 L623.4,423.2 L623.5,422.2 L623.7,421.2 L624.1,420.2 L624.4,419.1 L624.7,418.1 L625,417.1 L625.3,416.1 L625.6,415.1 L625.9,414 L626.1,413 L626.4,412 L626.6,411 L626.9,410 L627.1,408.9 L627.3,407.9 L627.5,406.9 L627.7,405.9 L627.8,404.8 L628,403.8 L628.1,402.8 L628.3,401.8 L628.4,400.8 L628.5,399.7 L628.6,398.7 L628.6,397.7 L628.7,396.7 L628.7,395.6 L628.8,394.6 L628.8,393.6 L628.9,392.6 L628.9,391.6 L628.9,390.5 L629,389.5 L629,388.5 L629,387.5 L629.1,386.5 L629.1,385.4 L629.1,384.4 L629.1,383.4 L629.2,382.4 L629.2,381.3 L629.2,380.3 L629.2,379.3Z" fill="#0000ff" stroke="#000" stroke-width="0.35" stroke-opacity="0.55"/>
<line x1="629.5" y1="369.1" x2="629.5" y2="426.3" stroke="#000" stroke-width="0.9"/>
<rect x="628.9" y="415" width="1.3" height="11.3" fill="#000"/>
<circle cx="629.5" cy="423" r="1.25" fill="#fff"/>
<path d="M646.1,388.9 L646.2,389.9 L646.3,391 L646.4,392 L646.5,393.1 L646.6,394.1 L646.7,395.1 L646.8,396.2 L646.8,397.2 L646.9,398.2 L647,399.3 L647.1,400.3 L647.2,401.4 L647.3,402.4 L647.3,403.4 L647.4,404.5 L647.5,405.5 L647.6,406.6 L647.7,407.6 L647.8,408.6 L648,409.7 L648.1,410.7 L648.2,411.8 L648.4,412.8 L648.6,413.8 L648.8,414.9 L649,415.9 L649.2,416.9 L649.5,418 L649.8,419 L650.1,420.1 L650.5,421.1 L651,422.1 L651.5,423.2 L651.7,424.2 L651.9,425.3 L651.9,426.3 L645.6,425.1 L639.3,426.3 L639.3,425.3 L639.5,424.2 L639.7,423.2 L640.2,422.1 L640.7,421.1 L641.1,420.1 L641.4,419 L641.7,418 L642,416.9 L642.2,415.9 L642.4,414.9 L642.6,413.8 L642.8,412.8 L643,411.8 L643.1,410.7 L643.2,409.7 L643.4,408.6 L643.5,407.6 L643.6,406.6 L643.7,405.5 L643.8,404.5 L643.9,403.4 L643.9,402.4 L644,401.4 L644.1,400.3 L644.2,399.3 L644.3,398.2 L644.4,397.2 L644.4,396.2 L644.5,395.1 L644.6,394.1 L644.7,393.1 L644.8,392 L644.9,391 L645,389.9 L645.1,388.9Z" fill="#ff0000" stroke="#000" stroke-width="0.35" stroke-opacity="0.55"/>
<line x1="645.6" y1="388.8" x2="645.6" y2="426.3" stroke="#000" stroke-width="0.9"/>
<rect x="645" y="416.6" width="1.3" height="9.7" fill="#000"/>
<circle cx="645.6" cy="423" r="1.25" fill="#fff"/>
<line x1="632.4" y1="369.1" x2="642.1" y2="369.1" stroke="#8a8a8a" stroke-width="1.1"/>
<text x="637" y="362.5" class="pv" textLength="17.2" lengthAdjust="spacingAndGlyphs">p=0.232</text>
<text x="52.5" y="446.5" class="cl" style="font-size:4.4px" textLength="22.4" lengthAdjust="spacingAndGlyphs">Monocytes</text>
<text x="96.6" y="448.6" class="cl" style="font-size:4.4px" textLength="27.4" lengthAdjust="spacingAndGlyphs">Macrophages</text>
<text x="138.4" y="450.1" class="cl" style="font-size:4.4px" textLength="34.8" lengthAdjust="spacingAndGlyphs">Macrophages.M1</text>
<text x="190.5" y="450.1" class="cl" style="font-size:4.4px" textLength="35.8" lengthAdjust="spacingAndGlyphs">Macrophages.M2</text>
<text x="252.3" y="450.6" class="cl" style="font-size:4.4px" textLength="7.9" lengthAdjust="spacingAndGlyphs">iDC</text>
<text x="298.9" y="451.3" class="cl" style="font-size:4.4px" textLength="8.8" lengthAdjust="spacingAndGlyphs">pDC</text>
<text x="346.7" y="452.3" class="cl" style="font-size:4.4px" textLength="8.5" lengthAdjust="spacingAndGlyphs">aDC</text>
<text x="396.6" y="452.3" class="cl" style="font-size:4.4px" textLength="8.8" lengthAdjust="spacingAndGlyphs">cDC</text>
<text x="445.2" y="452.9" class="cl" style="font-size:4.4px" textLength="5.8" lengthAdjust="spacingAndGlyphs">DC</text>
<text x="484.8" y="451.6" class="cl" style="font-size:4.4px" textLength="24" lengthAdjust="spacingAndGlyphs">Neutrophils</text>
<text x="531.2" y="452.3" class="cl" style="font-size:4.4px" textLength="23.1" lengthAdjust="spacingAndGlyphs">Eosinophils</text>
<text x="582.9" y="451.6" class="cl" style="font-size:4.4px" textLength="20.6" lengthAdjust="spacingAndGlyphs">Mast.cells</text>
<text x="624.2" y="452.9" class="cl" style="font-size:4.4px" textLength="18.9" lengthAdjust="spacingAndGlyphs">Basophils</text>
<path d="M669.5,476.5 L669.5,668.5 L29.5,668.5 L29.5,476.5" fill="none" stroke="#808080" stroke-width="1"/>
<line x1="29" y1="476.5" x2="670" y2="476.5" stroke="#808080" stroke-width="1"/>
<line x1="25.9" y1="661" x2="29.5" y2="661" stroke="#555" stroke-width="1"/>
<text x="0" y="0" transform="translate(21.2,660.6) rotate(-90)" class="tk">0.0</text>
<line x1="25.9" y1="616.4" x2="29.5" y2="616.4" stroke="#555" stroke-width="1"/>
<text x="0" y="0" transform="translate(21.2,616) rotate(-90)" class="tk">0.1</text>
<line x1="25.9" y1="571.8" x2="29.5" y2="571.8" stroke="#555" stroke-width="1"/>
<text x="0" y="0" transform="translate(21.2,571.4) rotate(-90)" class="tk">0.2</text>
<line x1="25.9" y1="527.2" x2="29.5" y2="527.2" stroke="#555" stroke-width="1"/>
<text x="0" y="0" transform="translate(21.2,526.8) rotate(-90)" class="tk">0.3</text>
<line x1="25.9" y1="482.6" x2="29.5" y2="482.6" stroke="#555" stroke-width="1"/>
<text x="0" y="0" transform="translate(21.2,482.2) rotate(-90)" class="tk">0.4</text>
<text x="0" y="0" transform="translate(7.2,571.8) rotate(-90)" class="fr" textLength="22" lengthAdjust="spacingAndGlyphs">Fraction</text>
<text x="1.3" y="472.3" class="lt">(c)</text>
<path d="M53.7,566.1 L53.9,567.1 L54,568.1 L54.2,569.2 L54.4,570.2 L54.5,571.2 L54.7,572.2 L55,573.2 L55.2,574.2 L55.4,575.3 L55.7,576.3 L55.9,577.3 L56.1,578.3 L56.3,579.3 L56.5,580.4 L56.6,581.4 L56.8,582.4 L56.9,583.4 L57.1,584.4 L57.2,585.4 L57.4,586.5 L57.5,587.5 L57.6,588.5 L57.8,589.5 L57.9,590.5 L58,591.6 L58.2,592.6 L58.3,593.6 L58.4,594.6 L58.6,595.6 L58.7,596.6 L58.9,597.7 L59,598.7 L59.1,599.7 L59.3,600.7 L59.4,601.7 L59.6,602.8 L59.8,603.8 L59.9,604.8 L60,605.8 L60.2,606.8 L60.3,607.8 L60.5,608.9 L60.6,609.9 L60.7,610.9 L60.8,611.9 L60.9,612.9 L61,614 L61.2,615 L61.3,616 L61.4,617 L61.5,618 L61.6,619.1 L61.7,620.1 L61.8,621.1 L61.8,622.1 L61.9,623.1 L61.9,624.1 L61.9,625.2 L61.8,626.2 L61.7,627.2 L61.6,628.2 L61.4,629.2 L61.2,630.3 L61,631.3 L60.8,632.3 L60.5,633.3 L60.3,634.3 L60.1,635.3 L59.9,636.4 L59.7,637.4 L59.5,638.4 L59.2,639.4 L59,640.4 L58.8,641.5 L58.5,642.5 L58.3,643.5 L58.1,644.5 L58,645.5 L57.9,646.5 L57.8,647.6 L57.7,648.6 L57.7,649.6 L57.7,650.6 L57.6,651.6 L57.6,652.7 L57.6,653.7 L57.6,654.7 L57.6,655.7 L57.6,656.7 L57.6,657.7 L57.6,658.8 L57.6,659.8 L57.6,660.8 L49.2,660.8 L49.2,659.8 L49.2,658.8 L49.2,657.7 L49.2,656.7 L49.2,655.7 L49.2,654.7 L49.2,653.7 L49.2,652.7 L49.2,651.6 L49.1,650.6 L49.1,649.6 L49.1,648.6 L49,647.6 L48.9,646.5 L48.8,645.5 L48.7,644.5 L48.5,643.5 L48.3,642.5 L48,641.5 L47.8,640.4 L47.6,639.4 L47.3,638.4 L47.1,637.4 L46.9,636.4 L46.7,635.3 L46.5,634.3 L46.3,633.3 L46,632.3 L45.8,631.3 L45.6,630.3 L45.4,629.2 L45.2,628.2 L45.1,627.2 L45,626.2 L44.9,625.2 L44.9,624.1 L44.9,623.1 L45,622.1 L45,621.1 L45.1,620.1 L45.2,619.1 L45.3,618 L45.4,617 L45.5,616 L45.6,615 L45.8,614 L45.9,612.9 L46,611.9 L46.1,610.9 L46.2,609.9 L46.3,608.9 L46.5,607.8 L46.6,606.8 L46.8,605.8 L46.9,604.8 L47,603.8 L47.2,602.8 L47.4,601.7 L47.5,600.7 L47.7,599.7 L47.8,598.7 L47.9,597.7 L48.1,596.6 L48.2,595.6 L48.4,594.6 L48.5,593.6 L48.6,592.6 L48.8,591.6 L48.9,590.5 L49,589.5 L49.2,588.5 L49.3,587.5 L49.4,586.5 L49.6,585.4 L49.7,584.4 L49.9,583.4 L50,582.4 L50.2,581.4 L50.3,580.4 L50.5,579.3 L50.7,578.3 L50.9,577.3 L51.1,576.3 L51.4,575.3 L51.6,574.2 L51.8,573.2 L52.1,572.2 L52.3,571.2 L52.4,570.2 L52.6,569.2 L52.8,568.1 L52.9,567.1 L53.1,566.1Z" fill="#0000ff" stroke="#000" stroke-width="0.4" stroke-opacity="0.55"/>
<line x1="53.4" y1="562.4" x2="53.4" y2="660.8" stroke="#000" stroke-width="0.9"/>
<rect x="52.7" y="610" width="1.4" height="27" fill="#000"/>
<circle cx="53.4" cy="627" r="1.15" fill="#fff"/>
<path d="M76.3,528 L76.3,529 L76.4,530 L76.4,531 L76.5,532 L76.5,533.1 L76.6,534.1 L76.7,535.1 L76.7,536.1 L76.8,537.1 L76.9,538.1 L76.9,539.1 L77,540.1 L77.1,541.2 L77.2,542.2 L77.2,543.2 L77.3,544.2 L77.4,545.2 L77.5,546.2 L77.6,547.2 L77.7,548.2 L77.8,549.3 L77.9,550.3 L78,551.3 L78.1,552.3 L78.3,553.3 L78.4,554.3 L78.6,555.3 L78.8,556.3 L79,557.4 L79.2,558.4 L79.5,559.4 L79.7,560.4 L80,561.4 L80.2,562.4 L80.4,563.4 L80.7,564.4 L80.9,565.5 L81.1,566.5 L81.2,567.5 L81.4,568.5 L81.6,569.5 L81.8,570.5 L82,571.5 L82.1,572.5 L82.3,573.5 L82.5,574.6 L82.6,575.6 L82.8,576.6 L83,577.6 L83.1,578.6 L83.3,579.6 L83.4,580.6 L83.5,581.6 L83.7,582.7 L83.8,583.7 L83.9,584.7 L84,585.7 L84.1,586.7 L84.2,587.7 L84.3,588.7 L84.5,589.7 L84.6,590.8 L84.7,591.8 L84.8,592.8 L84.9,593.8 L85,594.8 L85,595.8 L85.1,596.8 L85.2,597.8 L85.2,598.9 L85.3,599.9 L85.3,600.9 L85.3,601.9 L85.3,602.9 L85.2,603.9 L85.2,604.9 L85.1,605.9 L85,607 L84.8,608 L84.7,609 L84.5,610 L84.4,611 L84.2,612 L84,613 L83.9,614 L83.7,615.1 L83.5,616.1 L83.4,617.1 L83.2,618.1 L83,619.1 L82.8,620.1 L82.6,621.1 L82.4,622.1 L82.1,623.1 L81.9,624.2 L81.7,625.2 L81.4,626.2 L81.2,627.2 L81,628.2 L80.8,629.2 L80.6,630.2 L80.4,631.2 L80.2,632.3 L80,633.3 L79.8,634.3 L79.7,635.3 L79.5,636.3 L79.3,637.3 L79.2,638.3 L79,639.3 L78.9,640.4 L78.7,641.4 L78.6,642.4 L78.4,643.4 L78.3,644.4 L78.2,645.4 L78,646.4 L77.9,647.4 L77.8,648.5 L77.6,649.5 L77.5,650.5 L77.4,651.5 L77.3,652.5 L77.2,653.5 L77,654.5 L76.9,655.5 L76.8,656.6 L76.7,657.6 L76.6,658.6 L76.5,659.6 L76.4,660.6 L75.6,660.6 L75.5,659.6 L75.4,658.6 L75.3,657.6 L75.2,656.6 L75.1,655.5 L75,654.5 L74.8,653.5 L74.7,652.5 L74.6,651.5 L74.5,650.5 L74.4,649.5 L74.2,648.5 L74.1,647.4 L74,646.4 L73.8,645.4 L73.7,644.4 L73.6,643.4 L73.4,642.4 L73.3,641.4 L73.1,640.4 L73,639.3 L72.8,638.3 L72.7,637.3 L72.5,636.3 L72.3,635.3 L72.2,634.3 L72,633.3 L71.8,632.3 L71.6,631.2 L71.4,630.2 L71.2,629.2 L71,628.2 L70.8,627.2 L70.6,626.2 L70.3,625.2 L70.1,624.2 L69.9,623.1 L69.6,622.1 L69.4,621.1 L69.2,620.1 L69,619.1 L68.8,618.1 L68.6,617.1 L68.5,616.1 L68.3,615.1 L68.1,614 L68,613 L67.8,612 L67.6,611 L67.5,610 L67.3,609 L67.2,608 L67,607 L66.9,605.9 L66.8,604.9 L66.8,603.9 L66.7,602.9 L66.7,601.9 L66.7,600.9 L66.7,599.9 L66.8,598.9 L66.8,597.8 L66.9,596.8 L67,595.8 L67,594.8 L67.1,593.8 L67.2,592.8 L67.3,591.8 L67.4,590.8 L67.5,589.7 L67.7,588.7 L67.8,587.7 L67.9,586.7 L68,585.7 L68.1,584.7 L68.2,583.7 L68.3,582.7 L68.5,581.6 L68.6,580.6 L68.7,579.6 L68.9,578.6 L69,577.6 L69.2,576.6 L69.4,575.6 L69.5,574.6 L69.7,573.5 L69.9,572.5 L70,571.5 L70.2,570.5 L70.4,569.5 L70.6,568.5 L70.8,567.5 L70.9,566.5 L71.1,565.5 L71.3,564.4 L71.6,563.4 L71.8,562.4 L72,561.4 L72.3,560.4 L72.5,559.4 L72.8,558.4 L73,557.4 L73.2,556.3 L73.4,555.3 L73.6,554.3 L73.7,553.3 L73.9,552.3 L74,551.3 L74.1,550.3 L74.2,549.3 L74.3,548.2 L74.4,547.2 L74.5,546.2 L74.6,545.2 L74.7,544.2 L74.8,543.2 L74.8,542.2 L74.9,541.2 L75,540.1 L75.1,539.1 L75.1,538.1 L75.2,537.1 L75.3,536.1 L75.3,535.1 L75.4,534.1 L75.5,533.1 L75.5,532 L75.6,531 L75.6,530 L75.7,529 L75.7,528Z" fill="#ff0000" stroke="#000" stroke-width="0.4" stroke-opacity="0.55"/>
<line x1="76" y1="492.8" x2="76" y2="520.3" stroke="#7a7a7a" stroke-width="0.75"/>
<line x1="76" y1="520.3" x2="76" y2="660.8" stroke="#000" stroke-width="0.9"/>
<rect x="75.3" y="587.5" width="1.4" height="29.5" fill="#000"/>
<circle cx="76" cy="603.7" r="1.15" fill="#fff"/>
<line x1="57.6" y1="492.7" x2="72" y2="492.7" stroke="#8a8a8a" stroke-width="1.1"/>
<text x="64.6" y="486.1" class="pv" textLength="17.2" lengthAdjust="spacingAndGlyphs">p&lt;0.001</text>
<path d="M121.9,597.9 L122,598.9 L122.2,600 L122.3,601 L122.5,602 L122.7,603.1 L122.8,604.1 L123,605.1 L123.2,606.2 L123.4,607.2 L123.7,608.2 L124.1,609.3 L124.5,610.3 L124.9,611.3 L125.4,612.3 L125.9,613.4 L126.5,614.4 L127,615.4 L127.6,616.5 L128,617.5 L128.4,618.5 L128.9,619.6 L129.3,620.6 L129.7,621.6 L130.1,622.7 L130.4,623.7 L130.7,624.7 L130.8,625.8 L130.9,626.8 L130.9,627.8 L130.8,628.9 L130.6,629.9 L130.4,630.9 L130.1,632 L129.9,633 L129.5,634 L129.2,635.1 L128.9,636.1 L128.4,637.1 L127.8,638.1 L127.1,639.2 L126.4,640.2 L125.7,641.2 L125.1,642.3 L124.6,643.3 L124.2,644.3 L123.7,645.4 L123.3,646.4 L122.8,647.4 L122.4,648.5 L122,649.5 L121.2,649.5 L120.8,648.5 L120.4,647.4 L119.9,646.4 L119.5,645.4 L119,644.3 L118.6,643.3 L118.1,642.3 L117.5,641.2 L116.8,640.2 L116.1,639.2 L115.4,638.1 L114.8,637.1 L114.3,636.1 L114,635.1 L113.7,634 L113.3,633 L113.1,632 L112.8,630.9 L112.6,629.9 L112.4,628.9 L112.3,627.8 L112.3,626.8 L112.4,625.8 L112.5,624.7 L112.8,623.7 L113.1,622.7 L113.5,621.6 L113.9,620.6 L114.3,619.6 L114.8,618.5 L115.2,617.5 L115.6,616.5 L116.2,615.4 L116.7,614.4 L117.3,613.4 L117.8,612.3 L118.3,611.3 L118.7,610.3 L119.1,609.3 L119.5,608.2 L119.8,607.2 L120,606.2 L120.2,605.1 L120.4,604.1 L120.5,603.1 L120.7,602 L120.9,601 L121,600 L121.2,598.9 L121.3,597.9Z" fill="#0000ff" stroke="#000" stroke-width="0.4" stroke-opacity="0.55"/>
<line x1="121.6" y1="597.9" x2="121.6" y2="649.5" stroke="#000" stroke-width="0.9"/>
<rect x="120.9" y="618.3" width="1.4" height="17.5" fill="#000"/>
<circle cx="121.6" cy="627.1" r="1.15" fill="#fff"/>
<path d="M144.7,607.9 L144.8,608.9 L145,610 L145.3,611 L145.6,612 L146,613.1 L146.6,614.1 L147.5,615.1 L148.9,616.2 L150.1,617.2 L150.8,618.2 L151.4,619.3 L151.9,620.3 L152.3,621.3 L152.7,622.4 L153,623.4 L153.2,624.4 L153.4,625.5 L153.4,626.5 L153.3,627.5 L153.3,628.6 L153.2,629.6 L153,630.6 L152.9,631.7 L152.7,632.7 L152.6,633.7 L152.4,634.8 L152.1,635.8 L151.8,636.8 L151.5,637.9 L151.2,638.9 L150.8,639.9 L150.5,641 L150.1,642 L149.8,643 L149.4,644.1 L149,645.1 L148.6,646.1 L148.2,647.2 L147.9,648.2 L147.6,649.2 L147.3,650.3 L147,651.3 L146.7,652.3 L146.5,653.4 L146.2,654.4 L146,655.4 L145.7,656.5 L145.5,657.5 L145.2,658.5 L145,659.6 L144.8,660.6 L144,660.6 L143.8,659.6 L143.6,658.5 L143.3,657.5 L143.1,656.5 L142.8,655.4 L142.6,654.4 L142.3,653.4 L142.1,652.3 L141.8,651.3 L141.5,650.3 L141.2,649.2 L140.9,648.2 L140.6,647.2 L140.2,646.1 L139.8,645.1 L139.4,644.1 L139,643 L138.7,642 L138.3,641 L138,639.9 L137.6,638.9 L137.3,637.9 L137,636.8 L136.7,635.8 L136.4,634.8 L136.2,633.7 L136.1,632.7 L135.9,631.7 L135.8,630.6 L135.6,629.6 L135.5,628.6 L135.5,627.5 L135.4,626.5 L135.4,625.5 L135.6,624.4 L135.8,623.4 L136.1,622.4 L136.5,621.3 L136.9,620.3 L137.4,619.3 L138,618.2 L138.7,617.2 L139.9,616.2 L141.3,615.1 L142.2,614.1 L142.8,613.1 L143.2,612 L143.5,611 L143.8,610 L144,608.9 L144.1,607.9Z" fill="#ff0000" stroke="#000" stroke-width="0.4" stroke-opacity="0.55"/>
<line x1="144.4" y1="607.9" x2="144.4" y2="660.8" stroke="#000" stroke-width="0.9"/>
<rect x="143.7" y="623.4" width="1.4" height="17.9" fill="#000"/>
<circle cx="144.4" cy="632.4" r="1.15" fill="#fff"/>
<line x1="126" y1="597.5" x2="139.6" y2="597.5" stroke="#8a8a8a" stroke-width="1.1"/>
<text x="132.7" y="591" class="pv" textLength="17.2" lengthAdjust="spacingAndGlyphs">p&lt;0.001</text>
<path d="M190.3,649.8 L190.3,650.9 L190.4,652 L190.6,653.1 L190.8,654.2 L191,655.3 L191.5,656.4 L192.5,657.5 L194.6,658.6 L196.9,659.7 L198.9,660.8 L190,659.6 L181.1,660.8 L183.1,659.7 L185.4,658.6 L187.5,657.5 L188.5,656.4 L189,655.3 L189.2,654.2 L189.4,653.1 L189.6,652 L189.7,650.9 L189.7,649.8Z" fill="#0000ff" stroke="#000" stroke-width="0.4" stroke-opacity="0.55"/>
<line x1="190" y1="642.3" x2="190" y2="660.8" stroke="#000" stroke-width="0.9"/>
<path d="M213.2,638.9 L213.2,640 L213.3,641.1 L213.4,642.2 L213.5,643.3 L213.6,644.4 L213.7,645.5 L213.9,646.6 L214,647.7 L214.1,648.8 L214.3,649.8 L214.5,650.9 L214.7,652 L215,653.1 L215.5,654.2 L216.5,655.3 L217.7,656.4 L218.9,657.5 L220.1,658.6 L221.1,659.7 L221.8,660.8 L212.9,659.6 L204,660.8 L204.7,659.7 L205.7,658.6 L206.9,657.5 L208.1,656.4 L209.3,655.3 L210.3,654.2 L210.8,653.1 L211.1,652 L211.3,650.9 L211.5,649.8 L211.7,648.8 L211.8,647.7 L211.9,646.6 L212.1,645.5 L212.2,644.4 L212.3,643.3 L212.4,642.2 L212.5,641.1 L212.6,640 L212.6,638.9Z" fill="#ff0000" stroke="#000" stroke-width="0.4" stroke-opacity="0.55"/>
<line x1="212.9" y1="628.9" x2="212.9" y2="660.8" stroke="#000" stroke-width="0.9"/>
<rect x="212.2" y="655.2" width="1.4" height="5.6" fill="#000"/>
<circle cx="212.9" cy="658.9" r="1.15" fill="#fff"/>
<line x1="194.7" y1="628.9" x2="208.5" y2="628.9" stroke="#8a8a8a" stroke-width="1.1"/>
<text x="200.8" y="622.2" class="pv" textLength="17.2" lengthAdjust="spacingAndGlyphs">p&lt;0.001</text>
<path d="M258.5,598.9 L258.6,599.9 L258.8,601 L258.9,602 L259,603 L259.1,604.1 L259.2,605.1 L259.3,606.1 L259.4,607.2 L259.5,608.2 L259.6,609.2 L259.7,610.2 L259.8,611.3 L259.9,612.3 L260.1,613.3 L260.2,614.4 L260.3,615.4 L260.5,616.4 L260.7,617.5 L260.8,618.5 L261,619.5 L261.2,620.6 L261.4,621.6 L261.5,622.6 L261.7,623.7 L261.9,624.7 L262.1,625.7 L262.3,626.8 L262.5,627.8 L262.7,628.8 L263,629.8 L263.2,630.9 L263.4,631.9 L263.7,632.9 L263.9,634 L264.1,635 L264.4,636 L264.6,637.1 L264.9,638.1 L265.2,639.1 L265.5,640.2 L265.8,641.2 L266.1,642.2 L266.3,643.3 L266.5,644.3 L266.6,645.3 L266.8,646.4 L266.9,647.4 L267,648.4 L267.1,649.5 L267.2,650.5 L267.3,651.5 L267.3,652.5 L267.2,653.6 L267,654.6 L266.7,655.6 L266.4,656.7 L266.2,657.7 L266,658.7 L265.9,659.8 L265.8,660.8 L250.6,660.8 L250.5,659.8 L250.4,658.7 L250.2,657.7 L250,656.7 L249.7,655.6 L249.4,654.6 L249.2,653.6 L249.1,652.5 L249.1,651.5 L249.2,650.5 L249.3,649.5 L249.4,648.4 L249.5,647.4 L249.6,646.4 L249.8,645.3 L249.9,644.3 L250.1,643.3 L250.3,642.2 L250.6,641.2 L250.9,640.2 L251.2,639.1 L251.5,638.1 L251.8,637.1 L252,636 L252.3,635 L252.5,634 L252.7,632.9 L253,631.9 L253.2,630.9 L253.4,629.8 L253.7,628.8 L253.9,627.8 L254.1,626.8 L254.3,625.7 L254.5,624.7 L254.7,623.7 L254.9,622.6 L255,621.6 L255.2,620.6 L255.4,619.5 L255.6,618.5 L255.7,617.5 L255.9,616.4 L256.1,615.4 L256.2,614.4 L256.3,613.3 L256.5,612.3 L256.6,611.3 L256.7,610.2 L256.8,609.2 L256.9,608.2 L257,607.2 L257.1,606.1 L257.2,605.1 L257.3,604.1 L257.4,603 L257.5,602 L257.6,601 L257.8,599.9 L257.9,598.9Z" fill="#0000ff" stroke="#000" stroke-width="0.4" stroke-opacity="0.55"/>
<line x1="258.2" y1="579.3" x2="258.2" y2="594.6" stroke="#7a7a7a" stroke-width="0.75"/>
<line x1="258.2" y1="594.6" x2="258.2" y2="660.8" stroke="#000" stroke-width="0.9"/>
<rect x="257.5" y="638.4" width="1.4" height="21" fill="#000"/>
<circle cx="258.2" cy="648.9" r="1.15" fill="#fff"/>
<path d="M281.6,608.6 L281.7,609.6 L281.9,610.6 L282,611.7 L282.2,612.7 L282.3,613.7 L282.5,614.7 L282.6,615.8 L282.8,616.8 L282.9,617.8 L283.1,618.8 L283.3,619.9 L283.5,620.9 L283.7,621.9 L283.9,622.9 L284.1,624 L284.3,625 L284.5,626 L284.7,627 L284.9,628 L285.2,629.1 L285.4,630.1 L285.7,631.1 L285.9,632.1 L286.2,633.2 L286.5,634.2 L286.7,635.2 L287,636.2 L287.2,637.3 L287.5,638.3 L287.7,639.3 L288,640.3 L288.2,641.4 L288.5,642.4 L288.7,643.4 L288.9,644.4 L289.1,645.4 L289.2,646.5 L289.3,647.5 L289.4,648.5 L289.5,649.5 L289.6,650.6 L289.7,651.6 L289.7,652.6 L289.7,653.6 L289.6,654.7 L289.4,655.7 L289.3,656.7 L289.1,657.7 L289.1,658.8 L289,659.8 L288.9,660.8 L273.7,660.8 L273.6,659.8 L273.5,658.8 L273.5,657.7 L273.3,656.7 L273.2,655.7 L273,654.7 L272.9,653.6 L272.9,652.6 L272.9,651.6 L273,650.6 L273.1,649.5 L273.2,648.5 L273.3,647.5 L273.4,646.5 L273.5,645.4 L273.7,644.4 L273.9,643.4 L274.1,642.4 L274.4,641.4 L274.6,640.3 L274.9,639.3 L275.1,638.3 L275.4,637.3 L275.6,636.2 L275.9,635.2 L276.1,634.2 L276.4,633.2 L276.7,632.1 L276.9,631.1 L277.2,630.1 L277.4,629.1 L277.7,628 L277.9,627 L278.1,626 L278.3,625 L278.5,624 L278.7,622.9 L278.9,621.9 L279.1,620.9 L279.3,619.9 L279.5,618.8 L279.7,617.8 L279.8,616.8 L280,615.8 L280.1,614.7 L280.3,613.7 L280.4,612.7 L280.6,611.7 L280.7,610.6 L280.9,609.6 L281,608.6Z" fill="#ff0000" stroke="#000" stroke-width="0.4" stroke-opacity="0.55"/>
<line x1="281.3" y1="593.1" x2="281.3" y2="605.2" stroke="#7a7a7a" stroke-width="0.75"/>
<line x1="281.3" y1="605.2" x2="281.3" y2="660.8" stroke="#000" stroke-width="0.9"/>
<rect x="280.6" y="638.2" width="1.4" height="17.7" fill="#000"/>
<circle cx="281.3" cy="647.1" r="1.15" fill="#fff"/>
<line x1="263.4" y1="579.3" x2="276.8" y2="579.3" stroke="#8a8a8a" stroke-width="1.1"/>
<text x="269.3" y="572.6" class="pv" textLength="17.2" lengthAdjust="spacingAndGlyphs">p=0.698</text>
<path d="M327.1,644 L327.1,645.1 L327.2,646.2 L327.3,647.4 L327.4,648.5 L327.5,649.6 L327.6,650.7 L327.8,651.8 L328,653 L328.3,654.1 L328.8,655.2 L329.6,656.3 L331.4,657.4 L333.2,658.6 L334.6,659.7 L335.8,660.8 L326.8,659.6 L317.8,660.8 L319,659.7 L320.4,658.6 L322.2,657.4 L324,656.3 L324.8,655.2 L325.3,654.1 L325.6,653 L325.8,651.8 L326,650.7 L326.1,649.6 L326.2,648.5 L326.3,647.4 L326.4,646.2 L326.5,645.1 L326.5,644Z" fill="#0000ff" stroke="#000" stroke-width="0.4" stroke-opacity="0.55"/>
<line x1="326.8" y1="636.2" x2="326.8" y2="660.8" stroke="#000" stroke-width="0.9"/>
<path d="M349.9,631 L350.1,632.1 L350.3,633.1 L350.5,634.2 L350.7,635.3 L351,636.3 L351.2,637.4 L351.4,638.5 L351.6,639.5 L351.8,640.6 L352.1,641.6 L352.3,642.7 L352.5,643.8 L352.6,644.8 L352.8,645.9 L352.9,647 L353.1,648 L353.2,649.1 L353.5,650.2 L353.7,651.2 L354.1,652.3 L354.5,653.3 L355,654.4 L355.5,655.5 L356.3,656.5 L357.1,657.6 L357.8,658.7 L358.4,659.7 L358.8,660.8 L349.6,659.6 L340.4,660.8 L340.8,659.7 L341.4,658.7 L342.1,657.6 L342.9,656.5 L343.7,655.5 L344.2,654.4 L344.7,653.3 L345.1,652.3 L345.5,651.2 L345.7,650.2 L346,649.1 L346.1,648 L346.3,647 L346.4,645.9 L346.6,644.8 L346.7,643.8 L346.9,642.7 L347.1,641.6 L347.4,640.6 L347.6,639.5 L347.8,638.5 L348,637.4 L348.2,636.3 L348.5,635.3 L348.7,634.2 L348.9,633.1 L349.1,632.1 L349.3,631Z" fill="#ff0000" stroke="#000" stroke-width="0.4" stroke-opacity="0.55"/>
<line x1="349.6" y1="629.1" x2="349.6" y2="660.8" stroke="#000" stroke-width="0.9"/>
<rect x="348.9" y="653.8" width="1.4" height="7" fill="#000"/>
<circle cx="349.6" cy="658.9" r="1.15" fill="#fff"/>
<line x1="331.1" y1="629.1" x2="345.3" y2="629.1" stroke="#8a8a8a" stroke-width="1.1"/>
<text x="337.5" y="622.5" class="pv" textLength="17.2" lengthAdjust="spacingAndGlyphs">p&lt;0.001</text>
<path d="M395.7,579.5 L395.7,580.5 L395.7,581.5 L395.7,582.5 L395.7,583.6 L395.8,584.6 L395.8,585.6 L395.8,586.6 L395.8,587.6 L395.8,588.6 L395.8,589.7 L395.9,590.7 L395.9,591.7 L395.9,592.7 L395.9,593.7 L396,594.7 L396,595.8 L396.1,596.8 L396.1,597.8 L396.2,598.8 L396.3,599.8 L396.4,600.8 L396.5,601.9 L396.6,602.9 L396.7,603.9 L396.8,604.9 L396.9,605.9 L397.1,606.9 L397.3,608 L397.6,609 L397.9,610 L398.1,611 L398.4,612 L398.7,613 L399,614.1 L399.3,615.1 L399.5,616.1 L399.8,617.1 L400.1,618.1 L400.4,619.1 L400.7,620.1 L401,621.2 L401.3,622.2 L401.5,623.2 L401.7,624.2 L402,625.2 L402.2,626.2 L402.5,627.3 L402.7,628.3 L403,629.3 L403.2,630.3 L403.4,631.3 L403.6,632.3 L403.7,633.4 L403.8,634.4 L403.9,635.4 L403.9,636.4 L403.9,637.4 L403.9,638.4 L403.9,639.5 L403.9,640.5 L403.9,641.5 L403.9,642.5 L403.9,643.5 L403.9,644.5 L403.9,645.6 L403.8,646.6 L403.7,647.6 L403.6,648.6 L403.3,649.6 L403.1,650.6 L402.9,651.7 L402.6,652.7 L402.4,653.7 L402.3,654.7 L402.1,655.7 L402,656.7 L401.9,657.8 L401.7,658.8 L401.6,659.8 L401.5,660.8 L389.3,660.8 L389.2,659.8 L389.1,658.8 L388.9,657.8 L388.8,656.7 L388.7,655.7 L388.5,654.7 L388.4,653.7 L388.2,652.7 L387.9,651.7 L387.7,650.6 L387.5,649.6 L387.2,648.6 L387.1,647.6 L387,646.6 L386.9,645.6 L386.9,644.5 L386.9,643.5 L386.9,642.5 L386.9,641.5 L386.9,640.5 L386.9,639.5 L386.9,638.4 L386.9,637.4 L386.9,636.4 L386.9,635.4 L387,634.4 L387.1,633.4 L387.2,632.3 L387.4,631.3 L387.6,630.3 L387.8,629.3 L388.1,628.3 L388.3,627.3 L388.6,626.2 L388.8,625.2 L389.1,624.2 L389.3,623.2 L389.5,622.2 L389.8,621.2 L390.1,620.1 L390.4,619.1 L390.7,618.1 L391,617.1 L391.3,616.1 L391.5,615.1 L391.8,614.1 L392.1,613 L392.4,612 L392.7,611 L392.9,610 L393.2,609 L393.5,608 L393.7,606.9 L393.9,605.9 L394,604.9 L394.1,603.9 L394.2,602.9 L394.3,601.9 L394.4,600.8 L394.5,599.8 L394.6,598.8 L394.7,597.8 L394.7,596.8 L394.8,595.8 L394.8,594.7 L394.9,593.7 L394.9,592.7 L394.9,591.7 L394.9,590.7 L395,589.7 L395,588.6 L395,587.6 L395,586.6 L395,585.6 L395,584.6 L395.1,583.6 L395.1,582.5 L395.1,581.5 L395.1,580.5 L395.1,579.5Z" fill="#0000ff" stroke="#000" stroke-width="0.4" stroke-opacity="0.55"/>
<line x1="395.4" y1="579.1" x2="395.4" y2="660.8" stroke="#000" stroke-width="0.9"/>
<rect x="394.7" y="625.3" width="1.4" height="27.6" fill="#000"/>
<circle cx="395.4" cy="639.1" r="1.15" fill="#fff"/>
<path d="M418.4,566.8 L418.4,567.8 L418.4,568.8 L418.5,569.8 L418.5,570.8 L418.5,571.9 L418.5,572.9 L418.6,573.9 L418.6,574.9 L418.6,575.9 L418.7,576.9 L418.7,577.9 L418.7,578.9 L418.7,579.9 L418.8,581 L418.8,582 L418.9,583 L418.9,584 L419,585 L419,586 L419.1,587 L419.2,588 L419.3,589 L419.4,590 L419.5,591.1 L419.6,592.1 L419.8,593.1 L419.9,594.1 L420.1,595.1 L420.3,596.1 L420.5,597.1 L420.8,598.1 L421,599.1 L421.3,600.2 L421.5,601.2 L421.8,602.2 L422.1,603.2 L422.3,604.2 L422.6,605.2 L422.8,606.2 L423.1,607.2 L423.4,608.2 L423.6,609.3 L423.9,610.3 L424.2,611.3 L424.4,612.3 L424.7,613.3 L425,614.3 L425.2,615.3 L425.4,616.3 L425.6,617.3 L425.8,618.3 L425.9,619.4 L426.1,620.4 L426.3,621.4 L426.4,622.4 L426.6,623.4 L426.7,624.4 L426.8,625.4 L426.9,626.4 L427,627.4 L427,628.5 L427,629.5 L427,630.5 L426.9,631.5 L426.8,632.5 L426.7,633.5 L426.6,634.5 L426.5,635.5 L426.4,636.5 L426.3,637.6 L426.2,638.6 L426.1,639.6 L425.9,640.6 L425.8,641.6 L425.7,642.6 L425.5,643.6 L425.3,644.6 L425.1,645.6 L424.9,646.6 L424.7,647.7 L424.5,648.7 L424.3,649.7 L424,650.7 L423.8,651.7 L423.5,652.7 L423.2,653.7 L422.9,654.7 L422.7,655.7 L422.6,656.8 L422.4,657.8 L422.3,658.8 L422.2,659.8 L422.1,660.8 L414.1,660.8 L414,659.8 L413.9,658.8 L413.8,657.8 L413.6,656.8 L413.5,655.7 L413.3,654.7 L413,653.7 L412.7,652.7 L412.4,651.7 L412.2,650.7 L411.9,649.7 L411.7,648.7 L411.5,647.7 L411.3,646.6 L411.1,645.6 L410.9,644.6 L410.7,643.6 L410.5,642.6 L410.4,641.6 L410.3,640.6 L410.1,639.6 L410,638.6 L409.9,637.6 L409.8,636.5 L409.7,635.5 L409.6,634.5 L409.5,633.5 L409.4,632.5 L409.3,631.5 L409.2,630.5 L409.2,629.5 L409.2,628.5 L409.2,627.4 L409.3,626.4 L409.4,625.4 L409.5,624.4 L409.6,623.4 L409.8,622.4 L409.9,621.4 L410.1,620.4 L410.3,619.4 L410.4,618.3 L410.6,617.3 L410.8,616.3 L411,615.3 L411.2,614.3 L411.5,613.3 L411.8,612.3 L412,611.3 L412.3,610.3 L412.6,609.3 L412.8,608.2 L413.1,607.2 L413.4,606.2 L413.6,605.2 L413.9,604.2 L414.1,603.2 L414.4,602.2 L414.7,601.2 L414.9,600.2 L415.2,599.1 L415.4,598.1 L415.7,597.1 L415.9,596.1 L416.1,595.1 L416.3,594.1 L416.4,593.1 L416.6,592.1 L416.7,591.1 L416.8,590 L416.9,589 L417,588 L417.1,587 L417.2,586 L417.2,585 L417.3,584 L417.3,583 L417.4,582 L417.4,581 L417.5,579.9 L417.5,578.9 L417.5,577.9 L417.5,576.9 L417.6,575.9 L417.6,574.9 L417.6,573.9 L417.7,572.9 L417.7,571.9 L417.7,570.8 L417.7,569.8 L417.8,568.8 L417.8,567.8 L417.8,566.8Z" fill="#ff0000" stroke="#000" stroke-width="0.4" stroke-opacity="0.55"/>
<line x1="418.1" y1="566.4" x2="418.1" y2="660.8" stroke="#000" stroke-width="0.9"/>
<rect x="417.4" y="614.2" width="1.4" height="32" fill="#000"/>
<circle cx="418.1" cy="630.2" r="1.15" fill="#fff"/>
<line x1="399.8" y1="566.4" x2="413.6" y2="566.4" stroke="#8a8a8a" stroke-width="1.1"/>
<text x="406.4" y="559.3" class="pv" textLength="17.2" lengthAdjust="spacingAndGlyphs">p&lt;0.001</text>
<path d="M464,594.9 L464.5,595.9 L464.9,597 L465.3,598 L465.8,599 L466.2,600 L466.6,601.1 L467,602.1 L467.4,603.1 L467.8,604.2 L468.2,605.2 L468.5,606.2 L468.9,607.3 L469.3,608.3 L469.6,609.3 L469.9,610.3 L470.2,611.4 L470.6,612.4 L470.9,613.4 L471.3,614.5 L471.6,615.5 L472,616.5 L472.2,617.6 L472.5,618.6 L472.6,619.6 L472.7,620.6 L472.7,621.7 L472.5,622.7 L472.3,623.7 L472,624.8 L471.6,625.8 L471.2,626.8 L470.8,627.8 L470.4,628.9 L470,629.9 L469.6,630.9 L469.3,632 L468.9,633 L468.6,634 L468.2,635.1 L467.9,636.1 L467.6,637.1 L467.2,638.1 L466.9,639.2 L466.7,640.2 L466.4,641.2 L466.1,642.3 L465.9,643.3 L465.6,644.3 L465.4,645.4 L465.2,646.4 L465,647.4 L464.9,648.4 L464.8,649.5 L464.8,650.5 L464.7,651.5 L464.6,652.6 L464.6,653.6 L464.5,654.6 L464.5,655.7 L464.4,656.7 L464.3,657.7 L464.3,658.7 L464.2,659.8 L464.2,660.8 L463,660.8 L463,659.8 L462.9,658.7 L462.9,657.7 L462.8,656.7 L462.7,655.7 L462.7,654.6 L462.6,653.6 L462.6,652.6 L462.5,651.5 L462.4,650.5 L462.4,649.5 L462.3,648.4 L462.2,647.4 L462,646.4 L461.8,645.4 L461.6,644.3 L461.3,643.3 L461.1,642.3 L460.8,641.2 L460.5,640.2 L460.3,639.2 L460,638.1 L459.6,637.1 L459.3,636.1 L459,635.1 L458.6,634 L458.3,633 L457.9,632 L457.6,630.9 L457.2,629.9 L456.8,628.9 L456.4,627.8 L456,626.8 L455.6,625.8 L455.2,624.8 L454.9,623.7 L454.7,622.7 L454.5,621.7 L454.5,620.6 L454.6,619.6 L454.7,618.6 L455,617.6 L455.2,616.5 L455.6,615.5 L455.9,614.5 L456.3,613.4 L456.6,612.4 L457,611.4 L457.3,610.3 L457.6,609.3 L457.9,608.3 L458.3,607.3 L458.7,606.2 L459,605.2 L459.4,604.2 L459.8,603.1 L460.2,602.1 L460.6,601.1 L461,600 L461.4,599 L461.9,598 L462.3,597 L462.7,595.9 L463.2,594.9Z" fill="#0000ff" stroke="#000" stroke-width="0.4" stroke-opacity="0.55"/>
<line x1="463.6" y1="594.7" x2="463.6" y2="660.8" stroke="#000" stroke-width="0.9"/>
<rect x="462.9" y="611.3" width="1.4" height="22.4" fill="#000"/>
<circle cx="463.6" cy="622.5" r="1.15" fill="#fff"/>
<path d="M487,591.4 L487.5,592.4 L488,593.4 L488.5,594.4 L489,595.5 L489.5,596.5 L490,597.5 L490.4,598.5 L490.8,599.5 L491.2,600.5 L491.7,601.6 L492.1,602.6 L492.5,603.6 L492.9,604.6 L493.2,605.6 L493.5,606.6 L493.8,607.7 L494.1,608.7 L494.4,609.7 L494.6,610.7 L494.9,611.7 L495.1,612.8 L495.2,613.8 L495.3,614.8 L495.3,615.8 L495.2,616.8 L495.1,617.8 L495,618.9 L494.9,619.9 L494.7,620.9 L494.5,621.9 L494.3,622.9 L494.1,623.9 L493.8,624.9 L493.5,626 L493.2,627 L492.8,628 L492.4,629 L492,630 L491.7,631 L491.3,632.1 L491,633.1 L490.6,634.1 L490.3,635.1 L489.9,636.1 L489.6,637.1 L489.3,638.2 L489,639.2 L488.8,640.2 L488.6,641.2 L488.4,642.2 L488.2,643.2 L488,644.3 L487.8,645.3 L487.6,646.3 L487.5,647.3 L487.4,648.3 L487.2,649.4 L487.1,650.4 L487,651.4 L486.9,652.4 L486.3,652.4 L486.2,651.4 L486.1,650.4 L486,649.4 L485.8,648.3 L485.7,647.3 L485.6,646.3 L485.4,645.3 L485.2,644.3 L485,643.2 L484.8,642.2 L484.6,641.2 L484.4,640.2 L484.2,639.2 L483.9,638.2 L483.6,637.1 L483.3,636.1 L482.9,635.1 L482.6,634.1 L482.2,633.1 L481.9,632.1 L481.5,631 L481.2,630 L480.8,629 L480.4,628 L480,627 L479.7,626 L479.4,624.9 L479.1,623.9 L478.9,622.9 L478.7,621.9 L478.5,620.9 L478.3,619.9 L478.2,618.9 L478.1,617.8 L478,616.8 L477.9,615.8 L477.9,614.8 L478,613.8 L478.1,612.8 L478.3,611.7 L478.6,610.7 L478.8,609.7 L479.1,608.7 L479.4,607.7 L479.7,606.6 L480,605.6 L480.3,604.6 L480.7,603.6 L481.1,602.6 L481.5,601.6 L482,600.5 L482.4,599.5 L482.8,598.5 L483.2,597.5 L483.7,596.5 L484.2,595.5 L484.7,594.4 L485.2,593.4 L485.7,592.4 L486.2,591.4Z" fill="#ff0000" stroke="#000" stroke-width="0.4" stroke-opacity="0.55"/>
<line x1="486.6" y1="591.3" x2="486.6" y2="660.8" stroke="#000" stroke-width="0.9"/>
<rect x="485.9" y="605.1" width="1.4" height="20.7" fill="#000"/>
<circle cx="486.6" cy="615.5" r="1.15" fill="#fff"/>
<line x1="468.3" y1="591.3" x2="481.9" y2="591.3" stroke="#8a8a8a" stroke-width="1.1"/>
<text x="474.3" y="584.9" class="pv" textLength="17.2" lengthAdjust="spacingAndGlyphs">p&lt;0.001</text>
<path d="M532.4,621.5 L534.4,622.5 L535.3,623.6 L535.8,624.6 L536.2,625.6 L536.5,626.7 L537,627.7 L537.4,628.7 L537.8,629.8 L538.2,630.8 L538.6,631.8 L538.9,632.9 L539.2,633.9 L539.5,634.9 L539.7,636 L539.9,637 L540.1,638 L540.3,639.1 L540.5,640.1 L540.7,641.1 L540.8,642.2 L540.8,643.2 L540.8,644.3 L540.7,645.3 L540.6,646.3 L540.5,647.4 L540.4,648.4 L540.2,649.4 L540.1,650.5 L539.9,651.5 L539.8,652.5 L539.7,653.6 L539.5,654.6 L539.4,655.6 L539.3,656.7 L539.1,657.7 L539,658.7 L539,659.8 L538.9,660.8 L524.9,660.8 L524.8,659.8 L524.8,658.7 L524.7,657.7 L524.5,656.7 L524.4,655.6 L524.3,654.6 L524.1,653.6 L524,652.5 L523.9,651.5 L523.7,650.5 L523.6,649.4 L523.4,648.4 L523.3,647.4 L523.2,646.3 L523.1,645.3 L523,644.3 L523,643.2 L523,642.2 L523.1,641.1 L523.3,640.1 L523.5,639.1 L523.7,638 L523.9,637 L524.1,636 L524.3,634.9 L524.6,633.9 L524.9,632.9 L525.2,631.8 L525.6,630.8 L526,629.8 L526.4,628.7 L526.8,627.7 L527.3,626.7 L527.6,625.6 L528,624.6 L528.5,623.6 L529.4,622.5 L531.4,621.5Z" fill="#0000ff" stroke="#000" stroke-width="0.4" stroke-opacity="0.55"/>
<line x1="531.9" y1="621.5" x2="531.9" y2="660.8" stroke="#000" stroke-width="0.9"/>
<rect x="531.2" y="637" width="1.4" height="17" fill="#000"/>
<circle cx="531.9" cy="644.5" r="1.15" fill="#fff"/>
<path d="M555.3,617.4 L555.6,618.4 L556,619.5 L556.5,620.5 L556.9,621.5 L557.5,622.6 L558.2,623.6 L559.1,624.6 L560,625.7 L561,626.7 L561.7,627.7 L562.2,628.8 L562.4,629.8 L562.6,630.8 L562.8,631.9 L562.9,632.9 L563.1,633.9 L563.2,635 L563.4,636 L563.5,637 L563.6,638.1 L563.6,639.1 L563.7,640.1 L563.8,641.2 L563.8,642.2 L563.8,643.2 L563.8,644.3 L563.7,645.3 L563.5,646.3 L563.3,647.4 L563,648.4 L562.8,649.4 L562.5,650.5 L562.3,651.5 L562,652.5 L561.8,653.6 L561.6,654.6 L561.3,655.6 L561.1,656.7 L560.8,657.7 L560.7,658.7 L560.5,659.8 L560.4,660.8 L549.4,660.8 L549.3,659.8 L549.1,658.7 L549,657.7 L548.7,656.7 L548.5,655.6 L548.2,654.6 L548,653.6 L547.8,652.5 L547.5,651.5 L547.3,650.5 L547,649.4 L546.8,648.4 L546.5,647.4 L546.3,646.3 L546.1,645.3 L546,644.3 L546,643.2 L546,642.2 L546,641.2 L546.1,640.1 L546.2,639.1 L546.2,638.1 L546.3,637 L546.4,636 L546.6,635 L546.7,633.9 L546.9,632.9 L547,631.9 L547.2,630.8 L547.4,629.8 L547.6,628.8 L548.1,627.7 L548.8,626.7 L549.8,625.7 L550.7,624.6 L551.6,623.6 L552.3,622.6 L552.9,621.5 L553.3,620.5 L553.8,619.5 L554.2,618.4 L554.5,617.4Z" fill="#ff0000" stroke="#000" stroke-width="0.4" stroke-opacity="0.55"/>
<line x1="554.9" y1="617.4" x2="554.9" y2="660.8" stroke="#000" stroke-width="0.9"/>
<rect x="554.2" y="635" width="1.4" height="17" fill="#000"/>
<circle cx="554.9" cy="643.5" r="1.15" fill="#fff"/>
<line x1="536.5" y1="617.4" x2="550.5" y2="617.4" stroke="#8a8a8a" stroke-width="1.1"/>
<text x="543.2" y="610.9" class="pv" textLength="17.2" lengthAdjust="spacingAndGlyphs">p=0.247</text>
<path d="M601.3,639.1 L603.1,640.2 L604.7,641.3 L606.1,642.4 L607.2,643.4 L608.2,644.5 L608.6,645.6 L608.4,646.7 L608.1,647.8 L607.9,648.9 L607.8,650 L608.2,651 L608.7,652.1 L609.3,653.2 L609.4,654.3 L609.4,655.4 L609.3,656.5 L609.1,657.5 L609,658.6 L608.8,659.7 L608.6,660.8 L593,660.8 L592.8,659.7 L592.6,658.6 L592.5,657.5 L592.3,656.5 L592.2,655.4 L592.2,654.3 L592.3,653.2 L592.9,652.1 L593.4,651 L593.8,650 L593.7,648.9 L593.5,647.8 L593.2,646.7 L593,645.6 L593.4,644.5 L594.4,643.4 L595.5,642.4 L596.9,641.3 L598.5,640.2 L600.3,639.1Z" fill="#0000ff" stroke="#000" stroke-width="0.4" stroke-opacity="0.55"/>
<line x1="600.8" y1="639.3" x2="600.8" y2="660.8" stroke="#000" stroke-width="0.9"/>
<rect x="600.1" y="648.7" width="1.4" height="7.4" fill="#000"/>
<circle cx="600.8" cy="652.4" r="1.15" fill="#fff"/>
<path d="M623.9,630.9 L624.4,632 L624.9,633 L625.4,634.1 L626,635.2 L626.6,636.2 L627.2,637.3 L627.9,638.4 L628.7,639.4 L629.6,640.5 L630.5,641.6 L631.3,642.6 L631.9,643.7 L632.3,644.8 L632.4,645.8 L632.3,646.9 L632,648 L631.6,649.1 L631.1,650.1 L630.6,651.2 L630,652.3 L629.5,653.3 L629,654.4 L628.4,655.5 L627.8,656.5 L627.1,657.6 L626.3,658.7 L625.4,659.7 L624,660.8 L623,660.8 L621.6,659.7 L620.7,658.7 L619.9,657.6 L619.2,656.5 L618.6,655.5 L618,654.4 L617.5,653.3 L617,652.3 L616.4,651.2 L615.9,650.1 L615.4,649.1 L615,648 L614.7,646.9 L614.6,645.8 L614.7,644.8 L615.1,643.7 L615.7,642.6 L616.5,641.6 L617.4,640.5 L618.3,639.4 L619.1,638.4 L619.8,637.3 L620.4,636.2 L621,635.2 L621.6,634.1 L622.1,633 L622.6,632 L623.1,630.9Z" fill="#ff0000" stroke="#000" stroke-width="0.4" stroke-opacity="0.55"/>
<line x1="623.5" y1="630.9" x2="623.5" y2="660.8" stroke="#000" stroke-width="0.9"/>
<rect x="622.8" y="641.5" width="1.4" height="10.2" fill="#000"/>
<circle cx="623.5" cy="646.6" r="1.15" fill="#fff"/>
<line x1="605.4" y1="630.5" x2="618.5" y2="630.5" stroke="#8a8a8a" stroke-width="1.1"/>
<text x="611.6" y="624.1" class="pv" textLength="17.2" lengthAdjust="spacingAndGlyphs">p&lt;0.001</text>
<text x="59.8" y="681.4" class="cl" style="font-size:4.4px" textLength="8.8" lengthAdjust="spacingAndGlyphs">HSC</text>
<text x="130.2" y="682.6" class="cl" style="font-size:4.4px" textLength="7.2" lengthAdjust="spacingAndGlyphs">CLP</text>
<text x="196.1" y="682.7" class="cl" style="font-size:4.4px" textLength="10.7" lengthAdjust="spacingAndGlyphs">CMP</text>
<text x="267.6" y="683.4" class="cl" style="font-size:4.4px" textLength="10.8" lengthAdjust="spacingAndGlyphs">GMP</text>
<text x="335.6" y="683.4" class="cl" style="font-size:4.4px" textLength="9.6" lengthAdjust="spacingAndGlyphs">MEP</text>
<text x="405.3" y="684.1" class="cl" style="font-size:4.4px" textLength="10.7" lengthAdjust="spacingAndGlyphs">MPP</text>
<text x="462.9" y="686.3" class="cl" style="font-size:4.4px" textLength="34" lengthAdjust="spacingAndGlyphs">Megakaryocytes</text>
<text x="532.7" y="687.3" class="cl" style="font-size:4.4px" textLength="26.1" lengthAdjust="spacingAndGlyphs">Erythrocytes</text>
<text x="608.8" y="687" class="cl" style="font-size:4.4px" textLength="17.6" lengthAdjust="spacingAndGlyphs">Platelets</text>
</svg>
</body></html>
